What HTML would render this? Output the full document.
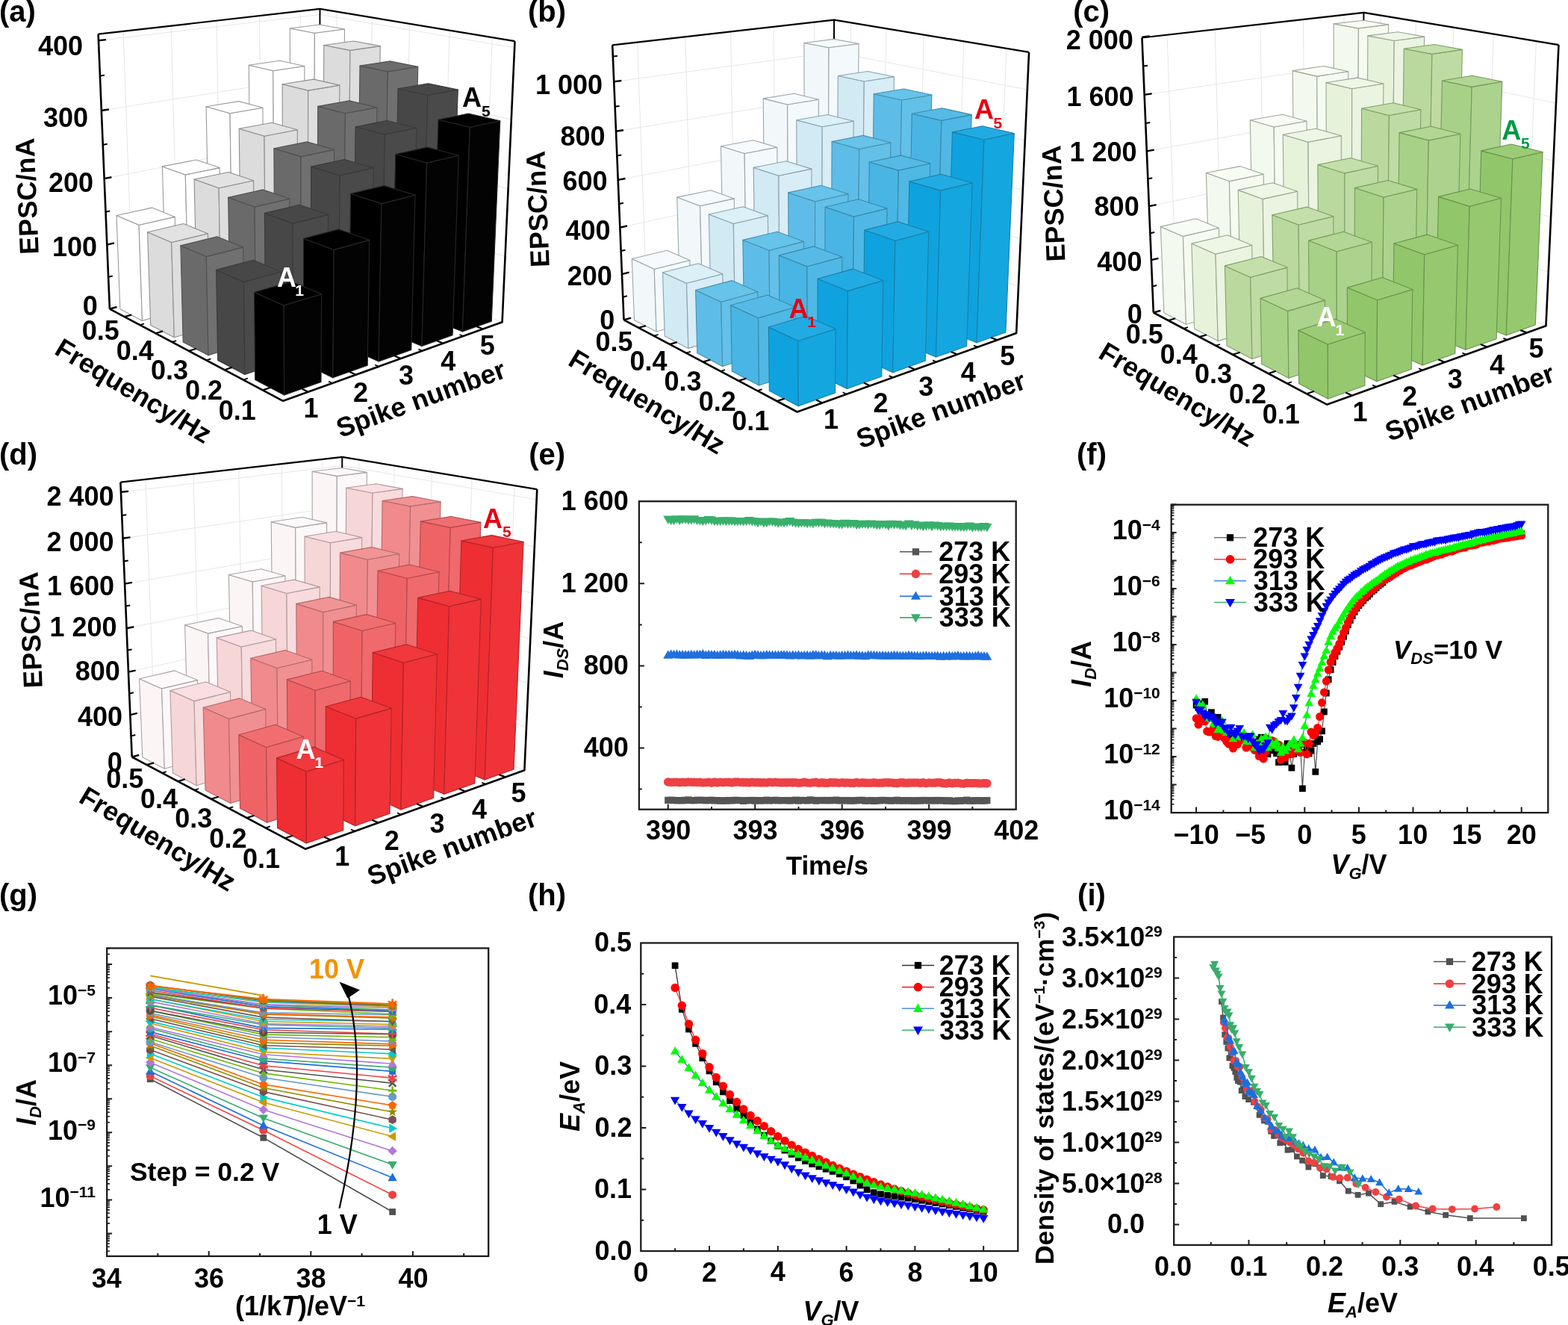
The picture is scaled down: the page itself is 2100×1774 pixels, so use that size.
<!DOCTYPE html><html><head><meta charset="utf-8"><style>html,body{margin:0;padding:0;background:#fff;width:2100px;height:1774px;overflow:hidden}svg{display:block}</style></head><body><svg xmlns="http://www.w3.org/2000/svg" width="2100" height="1774" viewBox="0 0 2100 1774" font-family="'Liberation Sans',Arial,Helvetica,sans-serif" font-weight="bold">
<rect width="2100" height="1774" fill="#fff"/>
<line x1="178.2" y1="405.1" x2="165.0" y2="41.9" stroke="#e6e6e6" stroke-width="1"/>
<line x1="238.6" y1="388.7" x2="229.2" y2="34.6" stroke="#e6e6e6" stroke-width="1"/>
<line x1="295.8" y1="373.2" x2="290.0" y2="27.7" stroke="#e6e6e6" stroke-width="1"/>
<line x1="350.3" y1="358.4" x2="347.5" y2="21.1" stroke="#e6e6e6" stroke-width="1"/>
<line x1="402.1" y1="344.4" x2="402.2" y2="14.9" stroke="#e6e6e6" stroke-width="1"/>
<line x1="448.4" y1="345.8" x2="451.1" y2="15.7" stroke="#e6e6e6" stroke-width="1"/>
<line x1="493.2" y1="362.9" x2="498.3" y2="23.5" stroke="#e6e6e6" stroke-width="1"/>
<line x1="540.6" y1="381.0" x2="548.6" y2="31.9" stroke="#e6e6e6" stroke-width="1"/>
<line x1="590.9" y1="400.2" x2="602.2" y2="40.8" stroke="#e6e6e6" stroke-width="1"/>
<line x1="644.5" y1="420.6" x2="659.4" y2="50.2" stroke="#e6e6e6" stroke-width="1"/>
<line x1="146.9" y1="413.6" x2="427.0" y2="337.6" stroke="#e6e6e6" stroke-width="1"/>
<line x1="427.0" y1="337.6" x2="672.6" y2="431.3" stroke="#e6e6e6" stroke-width="1"/>
<line x1="143.3" y1="327.6" x2="427.4" y2="261.1" stroke="#e6e6e6" stroke-width="1"/>
<line x1="427.4" y1="261.1" x2="676.5" y2="343.5" stroke="#e6e6e6" stroke-width="1"/>
<line x1="139.6" y1="239.1" x2="427.7" y2="182.6" stroke="#e6e6e6" stroke-width="1"/>
<line x1="427.7" y1="182.6" x2="680.6" y2="253.1" stroke="#e6e6e6" stroke-width="1"/>
<line x1="135.8" y1="148.0" x2="428.1" y2="102.1" stroke="#e6e6e6" stroke-width="1"/>
<line x1="428.1" y1="102.1" x2="684.8" y2="160.0" stroke="#e6e6e6" stroke-width="1"/>
<line x1="131.9" y1="54.3" x2="428.4" y2="19.5" stroke="#e6e6e6" stroke-width="1"/>
<line x1="428.4" y1="19.5" x2="689.1" y2="64.0" stroke="#e6e6e6" stroke-width="1"/>
<line x1="427.0" y1="337.6" x2="428.5" y2="11.9" stroke="#000" stroke-width="2"/>
<polyline points="131.6,45.7 428.5,11.9 689.5,55.2" fill="none" stroke="#000" stroke-width="2.2" stroke-linejoin="round"/>
<line x1="146.9" y1="413.6" x2="131.6" y2="45.7" stroke="#000" stroke-width="2.6"/>
<line x1="146.9" y1="413.6" x2="156.4" y2="411.0" stroke="#000" stroke-width="2.4"/>
<line x1="143.3" y1="327.6" x2="152.9" y2="325.3" stroke="#000" stroke-width="2.4"/>
<line x1="139.6" y1="239.1" x2="149.4" y2="237.2" stroke="#000" stroke-width="2.4"/>
<line x1="135.8" y1="148.0" x2="145.8" y2="146.5" stroke="#000" stroke-width="2.4"/>
<line x1="131.9" y1="54.3" x2="142.0" y2="53.1" stroke="#000" stroke-width="2.4"/>
<line x1="145.1" y1="370.9" x2="150.8" y2="369.5" stroke="#000" stroke-width="2"/>
<line x1="141.5" y1="283.7" x2="147.3" y2="282.4" stroke="#000" stroke-width="2"/>
<line x1="137.7" y1="193.9" x2="143.7" y2="192.8" stroke="#000" stroke-width="2"/>
<line x1="133.9" y1="101.5" x2="139.9" y2="100.7" stroke="#000" stroke-width="2"/>
<polygon points="388.9,351.6 420.4,364.3 421.4,44.2 388.3,38.0" fill="#ffffff" stroke="#9a9a9a" stroke-width="1.1" stroke-linejoin="round"/>
<polygon points="420.4,364.3 458.5,353.5 461.5,39.0 421.4,44.2" fill="#ffffff" stroke="#9a9a9a" stroke-width="1.1" stroke-linejoin="round"/>
<polygon points="388.3,38.0 421.4,44.2 461.5,39.0 428.1,33.0" fill="#ffffff" stroke="#9a9a9a" stroke-width="1.1" stroke-linejoin="round"/>
<polygon points="336.2,366.0 367.3,379.3 365.8,94.8 333.3,87.3" fill="#ffffff" stroke="#9a9a9a" stroke-width="1.1" stroke-linejoin="round"/>
<polygon points="367.3,379.3 407.4,367.9 407.8,88.5 365.8,94.8" fill="#ffffff" stroke="#9a9a9a" stroke-width="1.1" stroke-linejoin="round"/>
<polygon points="333.3,87.3 365.8,94.8 407.8,88.5 374.9,81.3" fill="#ffffff" stroke="#9a9a9a" stroke-width="1.1" stroke-linejoin="round"/>
<polygon points="432.2,369.0 465.6,382.4 469.0,67.4 433.8,60.5" fill="#dcdcdc" stroke="#8e8e8e" stroke-width="1.1" stroke-linejoin="round"/>
<polygon points="465.6,382.4 504.0,370.9 509.3,61.6 469.0,67.4" fill="#dedede" stroke="#8e8e8e" stroke-width="1.1" stroke-linejoin="round"/>
<polygon points="433.8,60.5 469.0,67.4 509.3,61.6 473.9,55.0" fill="#e2e2e2" stroke="#8e8e8e" stroke-width="1.1" stroke-linejoin="round"/>
<polygon points="280.7,381.1 311.5,395.1 308.0,151.7 276.1,142.8" fill="#ffffff" stroke="#9a9a9a" stroke-width="1.1" stroke-linejoin="round"/>
<polygon points="311.5,395.1 353.7,383.1 351.9,144.2 308.0,151.7" fill="#ffffff" stroke="#9a9a9a" stroke-width="1.1" stroke-linejoin="round"/>
<polygon points="276.1,142.8 308.0,151.7 351.9,144.2 319.7,135.6" fill="#ffffff" stroke="#9a9a9a" stroke-width="1.1" stroke-linejoin="round"/>
<polygon points="379.0,384.3 412.1,398.4 412.7,121.1 378.1,112.8" fill="#dcdcdc" stroke="#8e8e8e" stroke-width="1.1" stroke-linejoin="round"/>
<polygon points="412.1,398.4 452.6,386.3 454.9,114.1 412.7,121.1" fill="#dedede" stroke="#8e8e8e" stroke-width="1.1" stroke-linejoin="round"/>
<polygon points="378.1,112.8 412.7,121.1 454.9,114.1 420.1,106.1" fill="#e2e2e2" stroke="#8e8e8e" stroke-width="1.1" stroke-linejoin="round"/>
<polygon points="478.2,387.5 513.7,401.7 519.4,95.9 482.0,88.1" fill="#6a6a6a" stroke="#505050" stroke-width="1.1" stroke-linejoin="round"/>
<polygon points="513.7,401.7 552.3,389.5 559.8,89.4 519.4,95.9" fill="#707070" stroke="#505050" stroke-width="1.1" stroke-linejoin="round"/>
<polygon points="482.0,88.1 519.4,95.9 559.8,89.4 522.3,81.9" fill="#6c6c6c" stroke="#505050" stroke-width="1.1" stroke-linejoin="round"/>
<polygon points="222.4,397.1 252.6,411.8 248.3,233.9 217.4,222.9" fill="#ffffff" stroke="#9a9a9a" stroke-width="1.1" stroke-linejoin="round"/>
<polygon points="252.6,411.8 297.1,399.2 294.2,224.6 248.3,233.9" fill="#ffffff" stroke="#9a9a9a" stroke-width="1.1" stroke-linejoin="round"/>
<polygon points="217.4,222.9 248.3,233.9 294.2,224.6 262.8,214.0" fill="#ffffff" stroke="#9a9a9a" stroke-width="1.1" stroke-linejoin="round"/>
<polygon points="323.0,400.4 355.7,415.2 354.0,182.2 320.2,172.3" fill="#dcdcdc" stroke="#8e8e8e" stroke-width="1.1" stroke-linejoin="round"/>
<polygon points="355.7,415.2 398.4,402.5 398.3,173.8 354.0,182.2" fill="#dedede" stroke="#8e8e8e" stroke-width="1.1" stroke-linejoin="round"/>
<polygon points="320.2,172.3 354.0,182.2 398.3,173.8 364.1,164.3" fill="#e2e2e2" stroke="#8e8e8e" stroke-width="1.1" stroke-linejoin="round"/>
<polygon points="424.6,403.7 459.8,418.7 462.4,151.7 425.7,142.4" fill="#6a6a6a" stroke="#505050" stroke-width="1.1" stroke-linejoin="round"/>
<polygon points="459.8,418.7 500.6,405.8 504.9,143.9 462.4,151.7" fill="#707070" stroke="#505050" stroke-width="1.1" stroke-linejoin="round"/>
<polygon points="425.7,142.4 462.4,151.7 504.9,143.9 467.9,134.9" fill="#6c6c6c" stroke="#505050" stroke-width="1.1" stroke-linejoin="round"/>
<polygon points="527.1,407.1 564.8,422.2 572.8,127.5 533.1,118.7" fill="#474747" stroke="#3a3a3a" stroke-width="1.1" stroke-linejoin="round"/>
<polygon points="564.8,422.2 603.7,409.2 613.3,120.1 572.8,127.5" fill="#4a4a4a" stroke="#3a3a3a" stroke-width="1.1" stroke-linejoin="round"/>
<polygon points="533.1,118.7 572.8,127.5 613.3,120.1 573.5,111.7" fill="#474747" stroke="#3a3a3a" stroke-width="1.1" stroke-linejoin="round"/>
<polygon points="160.9,413.8 190.5,429.4 186.1,301.3 156.0,288.5" fill="#ffffff" stroke="#9a9a9a" stroke-width="1.1" stroke-linejoin="round"/>
<polygon points="190.5,429.4 237.5,416.0 234.2,290.4 186.1,301.3" fill="#ffffff" stroke="#9a9a9a" stroke-width="1.1" stroke-linejoin="round"/>
<polygon points="156.0,288.5 186.1,301.3 234.2,290.4 203.6,278.1" fill="#ffffff" stroke="#9a9a9a" stroke-width="1.1" stroke-linejoin="round"/>
<polygon points="264.0,417.3 296.2,433.0 293.1,251.8 260.1,240.0" fill="#dcdcdc" stroke="#8e8e8e" stroke-width="1.1" stroke-linejoin="round"/>
<polygon points="296.2,433.0 341.2,419.5 339.5,241.8 293.1,251.8" fill="#dedede" stroke="#8e8e8e" stroke-width="1.1" stroke-linejoin="round"/>
<polygon points="260.1,240.0 293.1,251.8 339.5,241.8 306.1,230.5" fill="#e2e2e2" stroke="#8e8e8e" stroke-width="1.1" stroke-linejoin="round"/>
<polygon points="368.1,420.8 402.9,436.6 403.0,209.6 366.9,198.7" fill="#6a6a6a" stroke="#505050" stroke-width="1.1" stroke-linejoin="round"/>
<polygon points="402.9,436.6 445.9,423.1 447.6,200.4 403.0,209.6" fill="#707070" stroke="#505050" stroke-width="1.1" stroke-linejoin="round"/>
<polygon points="366.9,198.7 403.0,209.6 447.6,200.4 411.2,189.9" fill="#6c6c6c" stroke="#505050" stroke-width="1.1" stroke-linejoin="round"/>
<polygon points="473.1,424.3 510.6,440.3 515.4,180.0 476.1,169.7" fill="#474747" stroke="#3a3a3a" stroke-width="1.1" stroke-linejoin="round"/>
<polygon points="510.6,440.3 551.6,426.6 558.0,171.3 515.4,180.0" fill="#4a4a4a" stroke="#3a3a3a" stroke-width="1.1" stroke-linejoin="round"/>
<polygon points="476.1,169.7 515.4,180.0 558.0,171.3 518.6,161.5" fill="#474747" stroke="#3a3a3a" stroke-width="1.1" stroke-linejoin="round"/>
<polygon points="579.1,427.9 619.4,444.1 629.3,170.3 587.0,160.2" fill="#000000" stroke="#262626" stroke-width="1.1" stroke-linejoin="round"/>
<polygon points="619.4,444.1 658.3,430.2 669.8,161.8 629.3,170.3" fill="#030303" stroke="#262626" stroke-width="1.1" stroke-linejoin="round"/>
<polygon points="587.0,160.2 629.3,170.3 669.8,161.8 627.4,152.1" fill="#000000" stroke="#262626" stroke-width="1.1" stroke-linejoin="round"/>
<polygon points="201.7,435.2 233.3,451.8 229.7,324.5 197.6,310.7" fill="#dcdcdc" stroke="#8e8e8e" stroke-width="1.1" stroke-linejoin="round"/>
<polygon points="233.3,451.8 280.9,437.6 278.4,312.8 229.7,324.5" fill="#dedede" stroke="#8e8e8e" stroke-width="1.1" stroke-linejoin="round"/>
<polygon points="197.6,310.7 229.7,324.5 278.4,312.8 245.8,299.5" fill="#e2e2e2" stroke="#8e8e8e" stroke-width="1.1" stroke-linejoin="round"/>
<polygon points="308.3,438.9 342.7,455.6 341.0,277.0 305.7,264.2" fill="#6a6a6a" stroke="#505050" stroke-width="1.1" stroke-linejoin="round"/>
<polygon points="342.7,455.6 388.2,441.3 387.9,266.1 341.0,277.0" fill="#707070" stroke="#505050" stroke-width="1.1" stroke-linejoin="round"/>
<polygon points="305.7,264.2 341.0,277.0 387.9,266.1 352.2,253.9" fill="#6c6c6c" stroke="#505050" stroke-width="1.1" stroke-linejoin="round"/>
<polygon points="416.0,442.6 453.2,459.5 455.2,235.0 416.6,223.1" fill="#474747" stroke="#3a3a3a" stroke-width="1.1" stroke-linejoin="round"/>
<polygon points="453.2,459.5 496.6,445.0 500.2,224.9 455.2,235.0" fill="#4a4a4a" stroke="#3a3a3a" stroke-width="1.1" stroke-linejoin="round"/>
<polygon points="416.6,223.1 455.2,235.0 500.2,224.9 461.3,213.5" fill="#474747" stroke="#3a3a3a" stroke-width="1.1" stroke-linejoin="round"/>
<polygon points="524.8,446.4 564.9,463.5 571.6,218.0 529.7,206.5" fill="#000000" stroke="#262626" stroke-width="1.1" stroke-linejoin="round"/>
<polygon points="564.9,463.5 606.1,448.8 614.3,208.2 571.6,218.0" fill="#030303" stroke="#262626" stroke-width="1.1" stroke-linejoin="round"/>
<polygon points="529.7,206.5 571.6,218.0 614.3,208.2 572.3,197.1" fill="#000000" stroke="#262626" stroke-width="1.1" stroke-linejoin="round"/>
<polygon points="245.2,458.0 279.0,475.7 276.3,343.6 241.9,328.8" fill="#6a6a6a" stroke="#505050" stroke-width="1.1" stroke-linejoin="round"/>
<polygon points="279.0,475.7 327.2,460.5 325.6,330.9 276.3,343.6" fill="#707070" stroke="#505050" stroke-width="1.1" stroke-linejoin="round"/>
<polygon points="241.9,328.8 276.3,343.6 325.6,330.9 290.7,316.8" fill="#6c6c6c" stroke="#505050" stroke-width="1.1" stroke-linejoin="round"/>
<polygon points="355.7,462.0 392.5,479.9 392.2,299.2 354.4,285.4" fill="#474747" stroke="#3a3a3a" stroke-width="1.1" stroke-linejoin="round"/>
<polygon points="392.5,479.9 438.5,464.5 439.6,287.4 392.2,299.2" fill="#4a4a4a" stroke="#3a3a3a" stroke-width="1.1" stroke-linejoin="round"/>
<polygon points="354.4,285.4 392.2,299.2 439.6,287.4 401.4,274.2" fill="#474747" stroke="#3a3a3a" stroke-width="1.1" stroke-linejoin="round"/>
<polygon points="467.3,465.9 507.1,484.0 510.9,272.6 469.6,259.3" fill="#000000" stroke="#262626" stroke-width="1.1" stroke-linejoin="round"/>
<polygon points="507.1,484.0 550.8,468.5 556.0,261.3 510.9,272.6" fill="#030303" stroke="#262626" stroke-width="1.1" stroke-linejoin="round"/>
<polygon points="469.6,259.3 510.9,272.6 556.0,261.3 514.5,248.6" fill="#000000" stroke="#262626" stroke-width="1.1" stroke-linejoin="round"/>
<polygon points="291.7,482.4 327.9,501.4 326.5,377.5 289.6,361.4" fill="#474747" stroke="#3a3a3a" stroke-width="1.1" stroke-linejoin="round"/>
<polygon points="327.9,501.4 376.8,485.1 376.3,363.7 326.5,377.5" fill="#4a4a4a" stroke="#3a3a3a" stroke-width="1.1" stroke-linejoin="round"/>
<polygon points="289.6,361.4 326.5,377.5 376.3,363.7 339.0,348.3" fill="#474747" stroke="#3a3a3a" stroke-width="1.1" stroke-linejoin="round"/>
<polygon points="406.4,486.6 445.8,505.8 447.1,334.4 406.5,319.2" fill="#000000" stroke="#262626" stroke-width="1.1" stroke-linejoin="round"/>
<polygon points="445.8,505.8 492.2,489.3 494.8,321.4 447.1,334.4" fill="#030303" stroke="#262626" stroke-width="1.1" stroke-linejoin="round"/>
<polygon points="406.5,319.2 447.1,334.4 494.8,321.4 453.9,306.9" fill="#000000" stroke="#262626" stroke-width="1.1" stroke-linejoin="round"/>
<polygon points="341.7,508.6 380.6,529.0 380.2,408.9 340.5,391.3" fill="#000000" stroke="#262626" stroke-width="1.1" stroke-linejoin="round"/>
<polygon points="380.6,529.0 430.0,511.5 430.6,393.8 380.2,408.9" fill="#030303" stroke="#262626" stroke-width="1.1" stroke-linejoin="round"/>
<polygon points="340.5,391.3 380.2,408.9 430.6,393.8 390.5,377.1" fill="#000000" stroke="#262626" stroke-width="1.1" stroke-linejoin="round"/>
<polyline points="146.9,413.6 379.1,536.8 672.6,431.3 689.5,55.2" fill="none" stroke="#000" stroke-width="2.6" stroke-linejoin="round"/>
<line x1="166.7" y1="424.1" x2="176.3" y2="421.5" stroke="#000" stroke-width="2.2"/>
<line x1="208.4" y1="446.3" x2="218.1" y2="443.4" stroke="#000" stroke-width="2.2"/>
<line x1="253.0" y1="469.9" x2="262.8" y2="466.8" stroke="#000" stroke-width="2.2"/>
<line x1="300.7" y1="495.2" x2="310.7" y2="491.9" stroke="#000" stroke-width="2.2"/>
<line x1="352.0" y1="522.4" x2="362.1" y2="518.9" stroke="#000" stroke-width="2.2"/>
<line x1="187.2" y1="435.0" x2="193.0" y2="433.4" stroke="#000" stroke-width="1.8"/>
<line x1="230.3" y1="457.9" x2="236.2" y2="456.1" stroke="#000" stroke-width="1.8"/>
<line x1="276.4" y1="482.3" x2="282.4" y2="480.4" stroke="#000" stroke-width="1.8"/>
<line x1="325.9" y1="508.6" x2="332.0" y2="506.5" stroke="#000" stroke-width="1.8"/>
<line x1="412.7" y1="524.7" x2="404.4" y2="520.5" stroke="#000" stroke-width="2.2"/>
<line x1="476.6" y1="501.8" x2="468.3" y2="497.8" stroke="#000" stroke-width="2.2"/>
<line x1="536.8" y1="480.1" x2="528.4" y2="476.4" stroke="#000" stroke-width="2.2"/>
<line x1="593.5" y1="459.8" x2="585.0" y2="456.2" stroke="#000" stroke-width="2.2"/>
<line x1="647.0" y1="440.6" x2="638.4" y2="437.2" stroke="#000" stroke-width="2.2"/>
<line x1="445.1" y1="513.1" x2="440.1" y2="510.6" stroke="#000" stroke-width="1.8"/>
<line x1="507.2" y1="490.8" x2="502.1" y2="488.5" stroke="#000" stroke-width="1.8"/>
<line x1="565.6" y1="469.8" x2="560.5" y2="467.6" stroke="#000" stroke-width="1.8"/>
<line x1="620.6" y1="450.0" x2="615.5" y2="448.0" stroke="#000" stroke-width="1.8"/>
<line x1="866.8" y1="419.8" x2="853.6" y2="56.5" stroke="#e6e6e6" stroke-width="1"/>
<line x1="927.2" y1="403.4" x2="917.8" y2="49.2" stroke="#e6e6e6" stroke-width="1"/>
<line x1="984.4" y1="387.9" x2="978.6" y2="42.3" stroke="#e6e6e6" stroke-width="1"/>
<line x1="1038.9" y1="373.1" x2="1036.1" y2="35.8" stroke="#e6e6e6" stroke-width="1"/>
<line x1="1090.7" y1="359.1" x2="1090.8" y2="29.6" stroke="#e6e6e6" stroke-width="1"/>
<line x1="1137.0" y1="360.5" x2="1139.7" y2="30.3" stroke="#e6e6e6" stroke-width="1"/>
<line x1="1181.8" y1="377.5" x2="1186.9" y2="38.2" stroke="#e6e6e6" stroke-width="1"/>
<line x1="1229.2" y1="395.6" x2="1237.2" y2="46.5" stroke="#e6e6e6" stroke-width="1"/>
<line x1="1279.5" y1="414.8" x2="1290.8" y2="55.4" stroke="#e6e6e6" stroke-width="1"/>
<line x1="1333.1" y1="435.3" x2="1348.0" y2="64.9" stroke="#e6e6e6" stroke-width="1"/>
<line x1="835.5" y1="428.3" x2="1115.6" y2="352.3" stroke="#e6e6e6" stroke-width="1"/>
<line x1="1115.6" y1="352.3" x2="1361.2" y2="446.0" stroke="#e6e6e6" stroke-width="1"/>
<line x1="832.9" y1="367.1" x2="1115.9" y2="297.8" stroke="#e6e6e6" stroke-width="1"/>
<line x1="1115.9" y1="297.8" x2="1364.0" y2="383.5" stroke="#e6e6e6" stroke-width="1"/>
<line x1="830.3" y1="304.6" x2="1116.1" y2="242.3" stroke="#e6e6e6" stroke-width="1"/>
<line x1="1116.1" y1="242.3" x2="1366.9" y2="319.7" stroke="#e6e6e6" stroke-width="1"/>
<line x1="827.7" y1="240.9" x2="1116.4" y2="185.8" stroke="#e6e6e6" stroke-width="1"/>
<line x1="1116.4" y1="185.8" x2="1369.8" y2="254.6" stroke="#e6e6e6" stroke-width="1"/>
<line x1="825.0" y1="175.8" x2="1116.6" y2="128.3" stroke="#e6e6e6" stroke-width="1"/>
<line x1="1116.6" y1="128.3" x2="1372.8" y2="188.1" stroke="#e6e6e6" stroke-width="1"/>
<line x1="822.2" y1="109.4" x2="1116.9" y2="69.7" stroke="#e6e6e6" stroke-width="1"/>
<line x1="1116.9" y1="69.7" x2="1375.9" y2="120.1" stroke="#e6e6e6" stroke-width="1"/>
<line x1="1115.6" y1="352.3" x2="1117.1" y2="26.6" stroke="#000" stroke-width="2"/>
<polyline points="820.2,60.3 1117.1,26.6 1378.1,69.9" fill="none" stroke="#000" stroke-width="2.2" stroke-linejoin="round"/>
<line x1="835.5" y1="428.3" x2="820.2" y2="60.3" stroke="#000" stroke-width="2.6"/>
<line x1="835.5" y1="428.3" x2="845.0" y2="425.7" stroke="#000" stroke-width="2.4"/>
<line x1="832.9" y1="367.1" x2="842.5" y2="364.7" stroke="#000" stroke-width="2.4"/>
<line x1="830.3" y1="304.6" x2="840.0" y2="302.5" stroke="#000" stroke-width="2.4"/>
<line x1="827.7" y1="240.9" x2="837.5" y2="239.0" stroke="#000" stroke-width="2.4"/>
<line x1="825.0" y1="175.8" x2="834.9" y2="174.2" stroke="#000" stroke-width="2.4"/>
<line x1="822.2" y1="109.4" x2="832.3" y2="108.0" stroke="#000" stroke-width="2.4"/>
<line x1="834.2" y1="397.8" x2="839.9" y2="396.3" stroke="#000" stroke-width="2"/>
<line x1="831.6" y1="336.0" x2="837.4" y2="334.7" stroke="#000" stroke-width="2"/>
<line x1="829.0" y1="272.9" x2="834.9" y2="271.7" stroke="#000" stroke-width="2"/>
<line x1="826.3" y1="208.5" x2="832.3" y2="207.5" stroke="#000" stroke-width="2"/>
<line x1="823.6" y1="142.8" x2="829.6" y2="141.9" stroke="#000" stroke-width="2"/>
<line x1="820.8" y1="75.6" x2="826.9" y2="74.9" stroke="#000" stroke-width="2"/>
<polygon points="1077.5,366.3 1109.0,378.9 1110.0,63.8 1076.9,57.5" fill="#f2f8fa" stroke="#9aa6aa" stroke-width="1.1" stroke-linejoin="round"/>
<polygon points="1109.0,378.9 1147.1,368.1 1150.1,58.5 1110.0,63.8" fill="#f4f9fb" stroke="#9aa6aa" stroke-width="1.1" stroke-linejoin="round"/>
<polygon points="1076.9,57.5 1110.0,63.8 1150.1,58.5 1116.7,52.4" fill="#f6fafc" stroke="#9aa6aa" stroke-width="1.1" stroke-linejoin="round"/>
<polygon points="1024.8,380.7 1055.9,394.0 1054.6,140.0 1022.2,131.9" fill="#f2f8fa" stroke="#9aa6aa" stroke-width="1.1" stroke-linejoin="round"/>
<polygon points="1055.9,394.0 1096.0,382.6 1096.3,133.2 1054.6,140.0" fill="#f4f9fb" stroke="#9aa6aa" stroke-width="1.1" stroke-linejoin="round"/>
<polygon points="1022.2,131.9 1054.6,140.0 1096.3,133.2 1063.7,125.3" fill="#f6fafc" stroke="#9aa6aa" stroke-width="1.1" stroke-linejoin="round"/>
<polygon points="1120.8,383.7 1154.2,397.1 1157.3,109.0 1122.3,101.5" fill="#d2eaf4" stroke="#8aa2ac" stroke-width="1.1" stroke-linejoin="round"/>
<polygon points="1154.2,397.1 1192.6,385.6 1197.5,102.7 1157.3,109.0" fill="#d8edf6" stroke="#8aa2ac" stroke-width="1.1" stroke-linejoin="round"/>
<polygon points="1122.3,101.5 1157.3,109.0 1197.5,102.7 1162.2,95.5" fill="#dcf0f8" stroke="#8aa2ac" stroke-width="1.1" stroke-linejoin="round"/>
<polygon points="969.3,395.8 1000.1,409.8 997.1,205.5 965.5,195.7" fill="#f2f8fa" stroke="#9aa6aa" stroke-width="1.1" stroke-linejoin="round"/>
<polygon points="1000.1,409.8 1042.3,397.8 1040.8,197.2 997.1,205.5" fill="#f4f9fb" stroke="#9aa6aa" stroke-width="1.1" stroke-linejoin="round"/>
<polygon points="965.5,195.7 997.1,205.5 1040.8,197.2 1008.8,187.8" fill="#f6fafc" stroke="#9aa6aa" stroke-width="1.1" stroke-linejoin="round"/>
<polygon points="1067.6,398.9 1100.7,413.0 1101.2,169.8 1066.8,160.7" fill="#d2eaf4" stroke="#8aa2ac" stroke-width="1.1" stroke-linejoin="round"/>
<polygon points="1100.7,413.0 1141.2,401.0 1143.2,162.2 1101.2,169.8" fill="#d8edf6" stroke="#8aa2ac" stroke-width="1.1" stroke-linejoin="round"/>
<polygon points="1066.8,160.7 1101.2,169.8 1143.2,162.2 1108.6,153.5" fill="#dcf0f8" stroke="#8aa2ac" stroke-width="1.1" stroke-linejoin="round"/>
<polygon points="1166.8,402.1 1202.3,416.4 1207.6,134.0 1170.3,125.7" fill="#5dbde8" stroke="#4a8eaa" stroke-width="1.1" stroke-linejoin="round"/>
<polygon points="1202.3,416.4 1240.9,404.2 1247.9,127.0 1207.6,134.0" fill="#63c0e9" stroke="#4a8eaa" stroke-width="1.1" stroke-linejoin="round"/>
<polygon points="1170.3,125.7 1207.6,134.0 1247.9,127.0 1210.5,119.0" fill="#66c3ea" stroke="#4a8eaa" stroke-width="1.1" stroke-linejoin="round"/>
<polygon points="911.0,411.7 941.2,426.4 937.6,275.7 906.7,264.1" fill="#f2f8fa" stroke="#9aa6aa" stroke-width="1.1" stroke-linejoin="round"/>
<polygon points="941.2,426.4 985.7,413.8 983.2,265.9 937.6,275.7" fill="#f4f9fb" stroke="#9aa6aa" stroke-width="1.1" stroke-linejoin="round"/>
<polygon points="906.7,264.1 937.6,275.7 983.2,265.9 952.0,254.8" fill="#f6fafc" stroke="#9aa6aa" stroke-width="1.1" stroke-linejoin="round"/>
<polygon points="1011.6,415.0 1044.3,429.9 1042.9,235.2 1009.2,224.4" fill="#d2eaf4" stroke="#8aa2ac" stroke-width="1.1" stroke-linejoin="round"/>
<polygon points="1044.3,429.9 1087.0,417.1 1086.9,226.1 1042.9,235.2" fill="#d8edf6" stroke="#8aa2ac" stroke-width="1.1" stroke-linejoin="round"/>
<polygon points="1009.2,224.4 1042.9,235.2 1086.9,226.1 1052.9,215.7" fill="#dcf0f8" stroke="#8aa2ac" stroke-width="1.1" stroke-linejoin="round"/>
<polygon points="1113.2,418.4 1148.4,433.4 1150.7,199.5 1114.1,189.5" fill="#5dbde8" stroke="#4a8eaa" stroke-width="1.1" stroke-linejoin="round"/>
<polygon points="1148.4,433.4 1189.2,420.5 1193.0,191.0 1150.7,199.5" fill="#63c0e9" stroke="#4a8eaa" stroke-width="1.1" stroke-linejoin="round"/>
<polygon points="1114.1,189.5 1150.7,199.5 1193.0,191.0 1156.1,181.4" fill="#66c3ea" stroke="#4a8eaa" stroke-width="1.1" stroke-linejoin="round"/>
<polygon points="1215.7,421.7 1253.4,436.9 1260.9,161.4 1221.3,152.2" fill="#49b5e4" stroke="#3a88a8" stroke-width="1.1" stroke-linejoin="round"/>
<polygon points="1253.4,436.9 1292.3,423.9 1301.3,153.6 1260.9,161.4" fill="#4fb8e5" stroke="#3a88a8" stroke-width="1.1" stroke-linejoin="round"/>
<polygon points="1221.3,152.2 1260.9,161.4 1301.3,153.6 1261.6,144.8" fill="#55bbe6" stroke="#3a88a8" stroke-width="1.1" stroke-linejoin="round"/>
<polygon points="849.5,428.5 879.1,444.0 876.2,360.2 846.3,346.5" fill="#f2f8fa" stroke="#9aa6aa" stroke-width="1.1" stroke-linejoin="round"/>
<polygon points="879.1,444.0 926.1,430.7 923.9,348.5 876.2,360.2" fill="#f4f9fb" stroke="#9aa6aa" stroke-width="1.1" stroke-linejoin="round"/>
<polygon points="846.3,346.5 876.2,360.2 923.9,348.5 893.5,335.3" fill="#f6fafc" stroke="#9aa6aa" stroke-width="1.1" stroke-linejoin="round"/>
<polygon points="952.6,432.0 984.8,447.6 982.3,299.5 949.4,287.0" fill="#d2eaf4" stroke="#8aa2ac" stroke-width="1.1" stroke-linejoin="round"/>
<polygon points="984.8,447.6 1029.8,434.2 1028.4,288.8 982.3,299.5" fill="#d8edf6" stroke="#8aa2ac" stroke-width="1.1" stroke-linejoin="round"/>
<polygon points="949.4,287.0 982.3,299.5 1028.4,288.8 995.1,276.8" fill="#dcf0f8" stroke="#8aa2ac" stroke-width="1.1" stroke-linejoin="round"/>
<polygon points="1056.7,435.5 1091.5,451.3 1091.6,269.8 1055.7,257.9" fill="#5dbde8" stroke="#4a8eaa" stroke-width="1.1" stroke-linejoin="round"/>
<polygon points="1091.5,451.3 1134.5,437.7 1135.9,259.7 1091.6,269.8" fill="#63c0e9" stroke="#4a8eaa" stroke-width="1.1" stroke-linejoin="round"/>
<polygon points="1055.7,257.9 1091.6,269.8 1135.9,259.7 1099.7,248.2" fill="#66c3ea" stroke="#4a8eaa" stroke-width="1.1" stroke-linejoin="round"/>
<polygon points="1161.7,439.0 1199.2,455.0 1203.4,228.1 1164.3,217.0" fill="#49b5e4" stroke="#3a88a8" stroke-width="1.1" stroke-linejoin="round"/>
<polygon points="1199.2,455.0 1240.2,441.3 1245.8,218.7 1203.4,228.1" fill="#4fb8e5" stroke="#3a88a8" stroke-width="1.1" stroke-linejoin="round"/>
<polygon points="1164.3,217.0 1203.4,228.1 1245.8,218.7 1206.6,208.1" fill="#55bbe6" stroke="#3a88a8" stroke-width="1.1" stroke-linejoin="round"/>
<polygon points="1267.7,442.6 1308.0,458.7 1317.8,187.0 1275.5,176.9" fill="#0ea3de" stroke="#1a7fa8" stroke-width="1.1" stroke-linejoin="round"/>
<polygon points="1308.0,458.7 1346.9,444.9 1358.3,178.5 1317.8,187.0" fill="#14a6df" stroke="#1a7fa8" stroke-width="1.1" stroke-linejoin="round"/>
<polygon points="1275.5,176.9 1317.8,187.0 1358.3,178.5 1315.9,168.7" fill="#22abe2" stroke="#1a7fa8" stroke-width="1.1" stroke-linejoin="round"/>
<polygon points="890.3,449.9 921.9,466.4 919.5,379.3 887.5,364.7" fill="#d2eaf4" stroke="#8aa2ac" stroke-width="1.1" stroke-linejoin="round"/>
<polygon points="921.9,466.4 969.5,452.2 967.8,366.8 919.5,379.3" fill="#d8edf6" stroke="#8aa2ac" stroke-width="1.1" stroke-linejoin="round"/>
<polygon points="887.5,364.7 919.5,379.3 967.8,366.8 935.4,352.7" fill="#dcf0f8" stroke="#8aa2ac" stroke-width="1.1" stroke-linejoin="round"/>
<polygon points="996.9,453.6 1031.3,470.3 1030.0,335.2 994.9,321.4" fill="#5dbde8" stroke="#4a8eaa" stroke-width="1.1" stroke-linejoin="round"/>
<polygon points="1031.3,470.3 1076.8,455.9 1076.6,323.4 1030.0,335.2" fill="#63c0e9" stroke="#4a8eaa" stroke-width="1.1" stroke-linejoin="round"/>
<polygon points="994.9,321.4 1030.0,335.2 1076.6,323.4 1041.1,310.2" fill="#66c3ea" stroke="#4a8eaa" stroke-width="1.1" stroke-linejoin="round"/>
<polygon points="1104.6,457.3 1141.8,474.2 1143.5,290.0 1105.1,277.2" fill="#49b5e4" stroke="#3a88a8" stroke-width="1.1" stroke-linejoin="round"/>
<polygon points="1141.8,474.2 1185.2,459.7 1188.1,279.1 1143.5,290.0" fill="#4fb8e5" stroke="#3a88a8" stroke-width="1.1" stroke-linejoin="round"/>
<polygon points="1105.1,277.2 1143.5,290.0 1188.1,279.1 1149.5,266.8" fill="#55bbe6" stroke="#3a88a8" stroke-width="1.1" stroke-linejoin="round"/>
<polygon points="1213.4,461.0 1253.5,478.1 1259.6,255.1 1217.9,243.0" fill="#0ea3de" stroke="#1a7fa8" stroke-width="1.1" stroke-linejoin="round"/>
<polygon points="1253.5,478.1 1294.7,463.5 1302.2,244.8 1259.6,255.1" fill="#14a6df" stroke="#1a7fa8" stroke-width="1.1" stroke-linejoin="round"/>
<polygon points="1217.9,243.0 1259.6,255.1 1302.2,244.8 1260.3,233.3" fill="#22abe2" stroke="#1a7fa8" stroke-width="1.1" stroke-linejoin="round"/>
<polygon points="933.8,472.7 967.6,490.4 965.8,404.3 931.6,388.5" fill="#5dbde8" stroke="#4a8eaa" stroke-width="1.1" stroke-linejoin="round"/>
<polygon points="967.6,490.4 1015.8,475.2 1014.8,390.7 965.8,404.3" fill="#63c0e9" stroke="#4a8eaa" stroke-width="1.1" stroke-linejoin="round"/>
<polygon points="931.6,388.5 965.8,404.3 1014.8,390.7 980.1,375.6" fill="#66c3ea" stroke="#4a8eaa" stroke-width="1.1" stroke-linejoin="round"/>
<polygon points="1044.3,476.6 1081.1,494.5 1080.9,356.7 1043.3,341.9" fill="#49b5e4" stroke="#3a88a8" stroke-width="1.1" stroke-linejoin="round"/>
<polygon points="1081.1,494.5 1127.1,479.1 1127.9,344.1 1080.9,356.7" fill="#4fb8e5" stroke="#3a88a8" stroke-width="1.1" stroke-linejoin="round"/>
<polygon points="1043.3,341.9 1080.9,356.7 1127.9,344.1 1090.0,329.9" fill="#55bbe6" stroke="#3a88a8" stroke-width="1.1" stroke-linejoin="round"/>
<polygon points="1155.9,480.6 1195.7,498.7 1198.9,322.2 1157.8,308.1" fill="#0ea3de" stroke="#1a7fa8" stroke-width="1.1" stroke-linejoin="round"/>
<polygon points="1195.7,498.7 1239.4,483.1 1243.8,310.2 1198.9,322.2" fill="#14a6df" stroke="#1a7fa8" stroke-width="1.1" stroke-linejoin="round"/>
<polygon points="1157.8,308.1 1198.9,322.2 1243.8,310.2 1202.5,296.7" fill="#22abe2" stroke="#1a7fa8" stroke-width="1.1" stroke-linejoin="round"/>
<polygon points="980.3,497.1 1016.5,516.1 1015.5,425.7 978.7,408.8" fill="#49b5e4" stroke="#3a88a8" stroke-width="1.1" stroke-linejoin="round"/>
<polygon points="1016.5,516.1 1065.4,499.8 1065.0,411.2 1015.5,425.7" fill="#4fb8e5" stroke="#3a88a8" stroke-width="1.1" stroke-linejoin="round"/>
<polygon points="978.7,408.8 1015.5,425.7 1065.0,411.2 1027.9,395.0" fill="#55bbe6" stroke="#3a88a8" stroke-width="1.1" stroke-linejoin="round"/>
<polygon points="1095.0,501.3 1134.4,520.5 1135.4,389.4 1095.1,373.2" fill="#0ea3de" stroke="#1a7fa8" stroke-width="1.1" stroke-linejoin="round"/>
<polygon points="1134.4,520.5 1180.8,504.0 1182.8,375.6 1135.4,389.4" fill="#14a6df" stroke="#1a7fa8" stroke-width="1.1" stroke-linejoin="round"/>
<polygon points="1095.1,373.2 1135.4,389.4 1182.8,375.6 1142.2,360.1" fill="#22abe2" stroke="#1a7fa8" stroke-width="1.1" stroke-linejoin="round"/>
<polygon points="1030.3,523.3 1069.2,543.7 1068.9,456.3 1029.4,438.0" fill="#0ea3de" stroke="#1a7fa8" stroke-width="1.1" stroke-linejoin="round"/>
<polygon points="1069.2,543.7 1118.6,526.1 1119.0,440.6 1068.9,456.3" fill="#14a6df" stroke="#1a7fa8" stroke-width="1.1" stroke-linejoin="round"/>
<polygon points="1029.4,438.0 1068.9,456.3 1119.0,440.6 1079.1,423.0" fill="#22abe2" stroke="#1a7fa8" stroke-width="1.1" stroke-linejoin="round"/>
<polyline points="835.5,428.3 1067.7,551.5 1361.2,446.0 1378.1,69.9" fill="none" stroke="#000" stroke-width="2.6" stroke-linejoin="round"/>
<line x1="855.3" y1="438.8" x2="864.9" y2="436.1" stroke="#000" stroke-width="2.2"/>
<line x1="897.0" y1="460.9" x2="906.7" y2="458.1" stroke="#000" stroke-width="2.2"/>
<line x1="941.6" y1="484.6" x2="951.4" y2="481.5" stroke="#000" stroke-width="2.2"/>
<line x1="989.3" y1="509.9" x2="999.3" y2="506.6" stroke="#000" stroke-width="2.2"/>
<line x1="1040.6" y1="537.1" x2="1050.7" y2="533.6" stroke="#000" stroke-width="2.2"/>
<line x1="875.8" y1="449.7" x2="881.6" y2="448.0" stroke="#000" stroke-width="1.8"/>
<line x1="918.9" y1="472.5" x2="924.8" y2="470.8" stroke="#000" stroke-width="1.8"/>
<line x1="965.0" y1="497.0" x2="971.0" y2="495.1" stroke="#000" stroke-width="1.8"/>
<line x1="1014.5" y1="523.2" x2="1020.6" y2="521.2" stroke="#000" stroke-width="1.8"/>
<line x1="1101.3" y1="539.4" x2="1093.0" y2="535.2" stroke="#000" stroke-width="2.2"/>
<line x1="1165.2" y1="516.4" x2="1156.9" y2="512.4" stroke="#000" stroke-width="2.2"/>
<line x1="1225.4" y1="494.8" x2="1217.0" y2="491.1" stroke="#000" stroke-width="2.2"/>
<line x1="1282.1" y1="474.4" x2="1273.6" y2="470.9" stroke="#000" stroke-width="2.2"/>
<line x1="1335.6" y1="455.2" x2="1327.0" y2="451.9" stroke="#000" stroke-width="2.2"/>
<line x1="1133.7" y1="527.7" x2="1128.7" y2="525.3" stroke="#000" stroke-width="1.8"/>
<line x1="1195.8" y1="505.4" x2="1190.7" y2="503.1" stroke="#000" stroke-width="1.8"/>
<line x1="1254.2" y1="484.5" x2="1249.1" y2="482.3" stroke="#000" stroke-width="1.8"/>
<line x1="1309.2" y1="464.7" x2="1304.1" y2="462.6" stroke="#000" stroke-width="1.8"/>
<line x1="1576.2" y1="410.0" x2="1563.0" y2="46.7" stroke="#e6e6e6" stroke-width="1"/>
<line x1="1636.5" y1="393.6" x2="1627.2" y2="39.4" stroke="#e6e6e6" stroke-width="1"/>
<line x1="1693.8" y1="378.1" x2="1687.9" y2="32.5" stroke="#e6e6e6" stroke-width="1"/>
<line x1="1748.2" y1="363.3" x2="1745.5" y2="26.0" stroke="#e6e6e6" stroke-width="1"/>
<line x1="1800.0" y1="349.3" x2="1800.1" y2="19.8" stroke="#e6e6e6" stroke-width="1"/>
<line x1="1846.4" y1="350.7" x2="1849.0" y2="20.5" stroke="#e6e6e6" stroke-width="1"/>
<line x1="1891.1" y1="367.7" x2="1896.3" y2="28.4" stroke="#e6e6e6" stroke-width="1"/>
<line x1="1938.5" y1="385.8" x2="1946.6" y2="36.7" stroke="#e6e6e6" stroke-width="1"/>
<line x1="1988.9" y1="405.0" x2="2000.2" y2="45.6" stroke="#e6e6e6" stroke-width="1"/>
<line x1="2042.4" y1="425.5" x2="2057.4" y2="55.1" stroke="#e6e6e6" stroke-width="1"/>
<line x1="1544.8" y1="418.5" x2="1825.0" y2="342.5" stroke="#e6e6e6" stroke-width="1"/>
<line x1="1825.0" y1="342.5" x2="2070.5" y2="436.2" stroke="#e6e6e6" stroke-width="1"/>
<line x1="1541.9" y1="348.1" x2="1825.3" y2="279.8" stroke="#e6e6e6" stroke-width="1"/>
<line x1="1825.3" y1="279.8" x2="2073.8" y2="364.4" stroke="#e6e6e6" stroke-width="1"/>
<line x1="1538.9" y1="276.1" x2="1825.5" y2="215.9" stroke="#e6e6e6" stroke-width="1"/>
<line x1="1825.5" y1="215.9" x2="2077.1" y2="290.8" stroke="#e6e6e6" stroke-width="1"/>
<line x1="1535.8" y1="202.4" x2="1825.8" y2="150.6" stroke="#e6e6e6" stroke-width="1"/>
<line x1="1825.8" y1="150.6" x2="2080.5" y2="215.4" stroke="#e6e6e6" stroke-width="1"/>
<line x1="1532.7" y1="126.9" x2="1826.1" y2="84.0" stroke="#e6e6e6" stroke-width="1"/>
<line x1="1826.1" y1="84.0" x2="2083.9" y2="138.2" stroke="#e6e6e6" stroke-width="1"/>
<line x1="1529.5" y1="49.6" x2="1826.4" y2="15.9" stroke="#e6e6e6" stroke-width="1"/>
<line x1="1826.4" y1="15.9" x2="2087.5" y2="59.1" stroke="#e6e6e6" stroke-width="1"/>
<line x1="1825.0" y1="342.5" x2="1826.4" y2="16.8" stroke="#000" stroke-width="2"/>
<polyline points="1529.5,50.5 1826.4,16.8 2087.5,60.1" fill="none" stroke="#000" stroke-width="2.2" stroke-linejoin="round"/>
<line x1="1544.8" y1="418.5" x2="1529.5" y2="50.5" stroke="#000" stroke-width="2.6"/>
<line x1="1544.8" y1="418.5" x2="1554.3" y2="415.9" stroke="#000" stroke-width="2.4"/>
<line x1="1541.9" y1="348.1" x2="1551.5" y2="345.8" stroke="#000" stroke-width="2.4"/>
<line x1="1538.9" y1="276.1" x2="1548.6" y2="274.1" stroke="#000" stroke-width="2.4"/>
<line x1="1535.8" y1="202.4" x2="1545.7" y2="200.6" stroke="#000" stroke-width="2.4"/>
<line x1="1532.7" y1="126.9" x2="1542.7" y2="125.4" stroke="#000" stroke-width="2.4"/>
<line x1="1529.5" y1="49.6" x2="1539.6" y2="48.4" stroke="#000" stroke-width="2.4"/>
<line x1="1543.4" y1="383.5" x2="1549.1" y2="382.0" stroke="#000" stroke-width="2"/>
<line x1="1540.4" y1="312.3" x2="1546.2" y2="311.0" stroke="#000" stroke-width="2"/>
<line x1="1537.4" y1="239.5" x2="1543.3" y2="238.3" stroke="#000" stroke-width="2"/>
<line x1="1534.3" y1="164.9" x2="1540.2" y2="163.9" stroke="#000" stroke-width="2"/>
<line x1="1531.1" y1="88.5" x2="1537.1" y2="87.7" stroke="#000" stroke-width="2"/>
<polygon points="1786.8,356.5 1818.3,369.1 1819.4,37.9 1786.2,31.9" fill="#f4f9ef" stroke="#a0a89a" stroke-width="1.1" stroke-linejoin="round"/>
<polygon points="1818.3,369.1 1856.5,358.3 1859.6,32.9 1819.4,37.9" fill="#f6fbf2" stroke="#a0a89a" stroke-width="1.1" stroke-linejoin="round"/>
<polygon points="1786.2,31.9 1819.4,37.9 1859.6,32.9 1826.1,27.2" fill="#f8fcf4" stroke="#a0a89a" stroke-width="1.1" stroke-linejoin="round"/>
<polygon points="1734.1,370.9 1765.3,384.2 1763.8,102.1 1731.2,94.6" fill="#f4f9ef" stroke="#a0a89a" stroke-width="1.1" stroke-linejoin="round"/>
<polygon points="1765.3,384.2 1805.4,372.8 1805.7,95.8 1763.8,102.1" fill="#f6fbf2" stroke="#a0a89a" stroke-width="1.1" stroke-linejoin="round"/>
<polygon points="1731.2,94.6 1763.8,102.1 1805.7,95.8 1772.9,88.5" fill="#f8fcf4" stroke="#a0a89a" stroke-width="1.1" stroke-linejoin="round"/>
<polygon points="1830.2,373.9 1863.6,387.3 1867.2,54.5 1831.9,47.9" fill="#e6f2da" stroke="#98a690" stroke-width="1.1" stroke-linejoin="round"/>
<polygon points="1863.6,387.3 1902.0,375.8 1907.6,49.1 1867.2,54.5" fill="#eaf4e0" stroke="#98a690" stroke-width="1.1" stroke-linejoin="round"/>
<polygon points="1831.9,47.9 1867.2,54.5 1907.6,49.1 1872.1,42.7" fill="#eef6e6" stroke="#98a690" stroke-width="1.1" stroke-linejoin="round"/>
<polygon points="1678.7,386.0 1709.4,400.0 1706.1,170.0 1674.3,160.8" fill="#f4f9ef" stroke="#a0a89a" stroke-width="1.1" stroke-linejoin="round"/>
<polygon points="1709.4,400.0 1751.7,388.0 1750.0,162.2 1706.1,170.0" fill="#f6fbf2" stroke="#a0a89a" stroke-width="1.1" stroke-linejoin="round"/>
<polygon points="1674.3,160.8 1706.1,170.0 1750.0,162.2 1717.8,153.3" fill="#f8fcf4" stroke="#a0a89a" stroke-width="1.1" stroke-linejoin="round"/>
<polygon points="1777.0,389.1 1810.1,403.2 1810.7,118.8 1776.0,110.6" fill="#e6f2da" stroke="#98a690" stroke-width="1.1" stroke-linejoin="round"/>
<polygon points="1810.1,403.2 1850.5,391.2 1852.9,112.0 1810.7,118.8" fill="#eaf4e0" stroke="#98a690" stroke-width="1.1" stroke-linejoin="round"/>
<polygon points="1776.0,110.6 1810.7,118.8 1852.9,112.0 1818.1,104.1" fill="#eef6e6" stroke="#98a690" stroke-width="1.1" stroke-linejoin="round"/>
<polygon points="1876.1,392.3 1911.6,406.6 1917.9,72.4 1880.3,65.2" fill="#bad99f" stroke="#80a068" stroke-width="1.1" stroke-linejoin="round"/>
<polygon points="1911.6,406.6 1950.3,394.4 1958.5,66.4 1917.9,72.4" fill="#bedba4" stroke="#80a068" stroke-width="1.1" stroke-linejoin="round"/>
<polygon points="1880.3,65.2 1917.9,72.4 1958.5,66.4 1920.8,59.5" fill="#c4dfaa" stroke="#80a068" stroke-width="1.1" stroke-linejoin="round"/>
<polygon points="1620.4,401.9 1650.6,416.6 1646.4,242.6 1615.4,231.5" fill="#f4f9ef" stroke="#a0a89a" stroke-width="1.1" stroke-linejoin="round"/>
<polygon points="1650.6,416.6 1695.1,404.0 1692.2,233.2 1646.4,242.6" fill="#f6fbf2" stroke="#a0a89a" stroke-width="1.1" stroke-linejoin="round"/>
<polygon points="1615.4,231.5 1646.4,242.6 1692.2,233.2 1660.8,222.6" fill="#f8fcf4" stroke="#a0a89a" stroke-width="1.1" stroke-linejoin="round"/>
<polygon points="1721.0,405.2 1753.7,420.1 1752.0,190.2 1718.2,180.2" fill="#e6f2da" stroke="#98a690" stroke-width="1.1" stroke-linejoin="round"/>
<polygon points="1753.7,420.1 1796.3,407.3 1796.3,181.7 1752.0,190.2" fill="#eaf4e0" stroke="#98a690" stroke-width="1.1" stroke-linejoin="round"/>
<polygon points="1718.2,180.2 1752.0,190.2 1796.3,181.7 1762.1,172.2" fill="#eef6e6" stroke="#98a690" stroke-width="1.1" stroke-linejoin="round"/>
<polygon points="1822.5,408.6 1857.7,423.6 1860.4,154.5 1823.6,145.3" fill="#bad99f" stroke="#80a068" stroke-width="1.1" stroke-linejoin="round"/>
<polygon points="1857.7,423.6 1898.5,410.7 1902.9,146.7 1860.4,154.5" fill="#bedba4" stroke="#80a068" stroke-width="1.1" stroke-linejoin="round"/>
<polygon points="1823.6,145.3 1860.4,154.5 1902.9,146.7 1865.9,137.8" fill="#c4dfaa" stroke="#80a068" stroke-width="1.1" stroke-linejoin="round"/>
<polygon points="1925.0,411.9 1962.8,427.1 1971.2,116.4 1931.4,108.0" fill="#a8d188" stroke="#749a5c" stroke-width="1.1" stroke-linejoin="round"/>
<polygon points="1962.8,427.1 2001.6,414.1 2011.8,109.3 1971.2,116.4" fill="#acd38d" stroke="#749a5c" stroke-width="1.1" stroke-linejoin="round"/>
<polygon points="1931.4,108.0 1971.2,116.4 2011.8,109.3 1971.8,101.3" fill="#b2d694" stroke="#749a5c" stroke-width="1.1" stroke-linejoin="round"/>
<polygon points="1558.9,418.7 1588.5,434.2 1584.4,316.4 1554.4,303.4" fill="#f4f9ef" stroke="#a0a89a" stroke-width="1.1" stroke-linejoin="round"/>
<polygon points="1588.5,434.2 1635.5,420.9 1632.4,305.3 1584.4,316.4" fill="#f6fbf2" stroke="#a0a89a" stroke-width="1.1" stroke-linejoin="round"/>
<polygon points="1554.4,303.4 1584.4,316.4 1632.4,305.3 1601.8,292.8" fill="#f8fcf4" stroke="#a0a89a" stroke-width="1.1" stroke-linejoin="round"/>
<polygon points="1662.0,422.2 1694.1,437.8 1691.2,266.4 1658.2,254.4" fill="#e6f2da" stroke="#98a690" stroke-width="1.1" stroke-linejoin="round"/>
<polygon points="1694.1,437.8 1739.2,424.4 1737.6,256.2 1691.2,266.4" fill="#eaf4e0" stroke="#98a690" stroke-width="1.1" stroke-linejoin="round"/>
<polygon points="1658.2,254.4 1691.2,266.4 1737.6,256.2 1704.2,244.7" fill="#eef6e6" stroke="#98a690" stroke-width="1.1" stroke-linejoin="round"/>
<polygon points="1766.0,425.7 1800.8,441.5 1800.9,231.9 1764.9,220.6" fill="#bad99f" stroke="#80a068" stroke-width="1.1" stroke-linejoin="round"/>
<polygon points="1800.8,441.5 1843.9,427.9 1845.5,222.3 1800.9,231.9" fill="#bedba4" stroke="#80a068" stroke-width="1.1" stroke-linejoin="round"/>
<polygon points="1764.9,220.6 1800.9,231.9 1845.5,222.3 1809.1,211.5" fill="#c4dfaa" stroke="#80a068" stroke-width="1.1" stroke-linejoin="round"/>
<polygon points="1871.0,429.2 1908.5,445.2 1913.3,187.9 1874.1,177.6" fill="#a8d188" stroke="#749a5c" stroke-width="1.1" stroke-linejoin="round"/>
<polygon points="1908.5,445.2 1949.6,431.5 1955.9,179.2 1913.3,187.9" fill="#acd38d" stroke="#749a5c" stroke-width="1.1" stroke-linejoin="round"/>
<polygon points="1874.1,177.6 1913.3,187.9 1955.9,179.2 1916.5,169.2" fill="#b2d694" stroke="#749a5c" stroke-width="1.1" stroke-linejoin="round"/>
<polygon points="1977.0,432.8 2017.3,448.9 2025.9,212.8 1983.8,201.9" fill="#92c66a" stroke="#68944c" stroke-width="1.1" stroke-linejoin="round"/>
<polygon points="2017.3,448.9 2056.3,435.1 2066.1,203.5 2025.9,212.8" fill="#96c86f" stroke="#68944c" stroke-width="1.1" stroke-linejoin="round"/>
<polygon points="1983.8,201.9 2025.9,212.8 2066.1,203.5 2024.0,193.0" fill="#9ccb76" stroke="#68944c" stroke-width="1.1" stroke-linejoin="round"/>
<polygon points="1599.6,440.1 1631.2,456.6 1628.0,340.2 1595.9,326.1" fill="#e6f2da" stroke="#98a690" stroke-width="1.1" stroke-linejoin="round"/>
<polygon points="1631.2,456.6 1678.8,442.4 1676.6,328.2 1628.0,340.2" fill="#eaf4e0" stroke="#98a690" stroke-width="1.1" stroke-linejoin="round"/>
<polygon points="1595.9,326.1 1628.0,340.2 1676.6,328.2 1644.0,314.7" fill="#eef6e6" stroke="#98a690" stroke-width="1.1" stroke-linejoin="round"/>
<polygon points="1706.3,443.8 1740.7,460.5 1739.1,301.0 1703.9,287.8" fill="#bad99f" stroke="#80a068" stroke-width="1.1" stroke-linejoin="round"/>
<polygon points="1740.7,460.5 1786.2,446.1 1785.9,289.7 1739.1,301.0" fill="#bedba4" stroke="#80a068" stroke-width="1.1" stroke-linejoin="round"/>
<polygon points="1703.9,287.8 1739.1,301.0 1785.9,289.7 1750.3,277.1" fill="#c4dfaa" stroke="#80a068" stroke-width="1.1" stroke-linejoin="round"/>
<polygon points="1814.0,447.5 1851.2,464.4 1853.0,264.0 1814.5,251.6" fill="#a8d188" stroke="#749a5c" stroke-width="1.1" stroke-linejoin="round"/>
<polygon points="1851.2,464.4 1894.6,449.9 1897.7,253.4 1853.0,264.0" fill="#acd38d" stroke="#749a5c" stroke-width="1.1" stroke-linejoin="round"/>
<polygon points="1814.5,251.6 1853.0,264.0 1897.7,253.4 1859.0,241.5" fill="#b2d694" stroke="#749a5c" stroke-width="1.1" stroke-linejoin="round"/>
<polygon points="1922.7,451.2 1962.8,468.3 1968.1,276.2 1926.6,263.4" fill="#92c66a" stroke="#68944c" stroke-width="1.1" stroke-linejoin="round"/>
<polygon points="1962.8,468.3 2004.1,453.7 2010.5,265.3 1968.1,276.2" fill="#96c86f" stroke="#68944c" stroke-width="1.1" stroke-linejoin="round"/>
<polygon points="1926.6,263.4 1968.1,276.2 2010.5,265.3 1968.9,253.0" fill="#9ccb76" stroke="#68944c" stroke-width="1.1" stroke-linejoin="round"/>
<polygon points="1643.1,462.9 1676.9,480.6 1674.7,371.2 1640.4,355.9" fill="#bad99f" stroke="#80a068" stroke-width="1.1" stroke-linejoin="round"/>
<polygon points="1676.9,480.6 1725.2,465.4 1723.9,358.1 1674.7,371.2" fill="#bedba4" stroke="#80a068" stroke-width="1.1" stroke-linejoin="round"/>
<polygon points="1640.4,355.9 1674.7,371.2 1723.9,358.1 1689.1,343.5" fill="#c4dfaa" stroke="#80a068" stroke-width="1.1" stroke-linejoin="round"/>
<polygon points="1753.6,466.8 1790.4,484.7 1790.2,336.7 1752.6,322.1" fill="#a8d188" stroke="#749a5c" stroke-width="1.1" stroke-linejoin="round"/>
<polygon points="1790.4,484.7 1836.4,469.3 1837.3,324.3 1790.2,336.7" fill="#acd38d" stroke="#749a5c" stroke-width="1.1" stroke-linejoin="round"/>
<polygon points="1752.6,322.1 1790.2,336.7 1837.3,324.3 1799.3,310.3" fill="#b2d694" stroke="#749a5c" stroke-width="1.1" stroke-linejoin="round"/>
<polygon points="1865.2,470.8 1905.1,488.9 1907.7,340.8 1866.9,326.0" fill="#92c66a" stroke="#68944c" stroke-width="1.1" stroke-linejoin="round"/>
<polygon points="1905.1,488.9 1948.8,473.3 1952.4,328.2 1907.7,340.8" fill="#96c86f" stroke="#68944c" stroke-width="1.1" stroke-linejoin="round"/>
<polygon points="1866.9,326.0 1907.7,340.8 1952.4,328.2 1911.4,314.1" fill="#9ccb76" stroke="#68944c" stroke-width="1.1" stroke-linejoin="round"/>
<polygon points="1689.7,487.3 1725.9,506.3 1724.8,416.4 1688.1,399.4" fill="#a8d188" stroke="#749a5c" stroke-width="1.1" stroke-linejoin="round"/>
<polygon points="1725.9,506.3 1774.7,490.0 1774.4,401.9 1724.8,416.4" fill="#acd38d" stroke="#749a5c" stroke-width="1.1" stroke-linejoin="round"/>
<polygon points="1688.1,399.4 1724.8,416.4 1774.4,401.9 1737.2,385.7" fill="#b2d694" stroke="#749a5c" stroke-width="1.1" stroke-linejoin="round"/>
<polygon points="1804.3,491.5 1843.8,510.7 1844.6,401.8 1804.4,385.1" fill="#92c66a" stroke="#68944c" stroke-width="1.1" stroke-linejoin="round"/>
<polygon points="1843.8,510.7 1890.2,494.2 1891.8,387.5 1844.6,401.8" fill="#96c86f" stroke="#68944c" stroke-width="1.1" stroke-linejoin="round"/>
<polygon points="1804.4,385.1 1844.6,401.8 1891.8,387.5 1851.4,371.5" fill="#9ccb76" stroke="#68944c" stroke-width="1.1" stroke-linejoin="round"/>
<polygon points="1739.6,513.5 1778.5,533.9 1778.3,460.9 1738.9,442.2" fill="#92c66a" stroke="#68944c" stroke-width="1.1" stroke-linejoin="round"/>
<polygon points="1778.5,533.9 1827.9,516.3 1828.3,444.9 1778.3,460.9" fill="#96c86f" stroke="#68944c" stroke-width="1.1" stroke-linejoin="round"/>
<polygon points="1738.9,442.2 1778.3,460.9 1828.3,444.9 1788.5,427.0" fill="#9ccb76" stroke="#68944c" stroke-width="1.1" stroke-linejoin="round"/>
<polyline points="1544.8,418.5 1777.1,541.7 2070.5,436.2 2087.5,60.1" fill="none" stroke="#000" stroke-width="2.6" stroke-linejoin="round"/>
<line x1="1564.7" y1="429.0" x2="1574.2" y2="426.3" stroke="#000" stroke-width="2.2"/>
<line x1="1606.4" y1="451.1" x2="1616.1" y2="448.3" stroke="#000" stroke-width="2.2"/>
<line x1="1650.9" y1="474.8" x2="1660.8" y2="471.7" stroke="#000" stroke-width="2.2"/>
<line x1="1698.7" y1="500.1" x2="1708.7" y2="496.8" stroke="#000" stroke-width="2.2"/>
<line x1="1750.0" y1="527.3" x2="1760.1" y2="523.8" stroke="#000" stroke-width="2.2"/>
<line x1="1585.2" y1="439.9" x2="1591.0" y2="438.2" stroke="#000" stroke-width="1.8"/>
<line x1="1628.3" y1="462.7" x2="1634.1" y2="461.0" stroke="#000" stroke-width="1.8"/>
<line x1="1674.4" y1="487.2" x2="1680.3" y2="485.3" stroke="#000" stroke-width="1.8"/>
<line x1="1723.9" y1="513.4" x2="1729.9" y2="511.4" stroke="#000" stroke-width="1.8"/>
<line x1="1810.6" y1="529.6" x2="1802.3" y2="525.4" stroke="#000" stroke-width="2.2"/>
<line x1="1874.6" y1="506.6" x2="1866.2" y2="502.6" stroke="#000" stroke-width="2.2"/>
<line x1="1934.8" y1="485.0" x2="1926.3" y2="481.3" stroke="#000" stroke-width="2.2"/>
<line x1="1991.4" y1="464.6" x2="1982.9" y2="461.1" stroke="#000" stroke-width="2.2"/>
<line x1="2044.9" y1="445.4" x2="2036.4" y2="442.1" stroke="#000" stroke-width="2.2"/>
<line x1="1843.1" y1="517.9" x2="1838.1" y2="515.5" stroke="#000" stroke-width="1.8"/>
<line x1="1905.1" y1="495.6" x2="1900.1" y2="493.3" stroke="#000" stroke-width="1.8"/>
<line x1="1963.5" y1="474.7" x2="1958.4" y2="472.5" stroke="#000" stroke-width="1.8"/>
<line x1="2018.5" y1="454.9" x2="2013.4" y2="452.8" stroke="#000" stroke-width="1.8"/>
<line x1="208.1" y1="1005.0" x2="194.9" y2="641.8" stroke="#e6e6e6" stroke-width="1"/>
<line x1="268.4" y1="988.6" x2="259.0" y2="634.5" stroke="#e6e6e6" stroke-width="1"/>
<line x1="325.7" y1="973.1" x2="319.8" y2="627.6" stroke="#e6e6e6" stroke-width="1"/>
<line x1="380.1" y1="958.3" x2="377.4" y2="621.0" stroke="#e6e6e6" stroke-width="1"/>
<line x1="431.9" y1="944.3" x2="432.0" y2="614.8" stroke="#e6e6e6" stroke-width="1"/>
<line x1="478.3" y1="945.7" x2="480.9" y2="615.6" stroke="#e6e6e6" stroke-width="1"/>
<line x1="523.0" y1="962.8" x2="528.2" y2="623.4" stroke="#e6e6e6" stroke-width="1"/>
<line x1="570.4" y1="980.8" x2="578.4" y2="631.7" stroke="#e6e6e6" stroke-width="1"/>
<line x1="620.7" y1="1000.1" x2="632.0" y2="640.6" stroke="#e6e6e6" stroke-width="1"/>
<line x1="674.3" y1="1020.5" x2="689.2" y2="650.1" stroke="#e6e6e6" stroke-width="1"/>
<line x1="176.7" y1="1013.5" x2="456.8" y2="937.5" stroke="#e6e6e6" stroke-width="1"/>
<line x1="456.8" y1="937.5" x2="702.4" y2="1031.2" stroke="#e6e6e6" stroke-width="1"/>
<line x1="174.3" y1="957.1" x2="457.1" y2="887.3" stroke="#e6e6e6" stroke-width="1"/>
<line x1="457.1" y1="887.3" x2="705.0" y2="973.7" stroke="#e6e6e6" stroke-width="1"/>
<line x1="171.9" y1="899.7" x2="457.3" y2="836.3" stroke="#e6e6e6" stroke-width="1"/>
<line x1="457.3" y1="836.3" x2="707.6" y2="915.0" stroke="#e6e6e6" stroke-width="1"/>
<line x1="169.5" y1="841.2" x2="457.5" y2="784.4" stroke="#e6e6e6" stroke-width="1"/>
<line x1="457.5" y1="784.4" x2="710.3" y2="855.3" stroke="#e6e6e6" stroke-width="1"/>
<line x1="167.0" y1="781.6" x2="457.8" y2="731.7" stroke="#e6e6e6" stroke-width="1"/>
<line x1="457.8" y1="731.7" x2="713.1" y2="794.3" stroke="#e6e6e6" stroke-width="1"/>
<line x1="164.5" y1="720.8" x2="458.0" y2="678.1" stroke="#e6e6e6" stroke-width="1"/>
<line x1="458.0" y1="678.1" x2="715.9" y2="732.1" stroke="#e6e6e6" stroke-width="1"/>
<line x1="161.9" y1="658.9" x2="458.2" y2="623.5" stroke="#e6e6e6" stroke-width="1"/>
<line x1="458.2" y1="623.5" x2="718.7" y2="668.8" stroke="#e6e6e6" stroke-width="1"/>
<line x1="456.8" y1="937.5" x2="458.3" y2="611.8" stroke="#000" stroke-width="2"/>
<polyline points="161.4,645.6 458.3,611.8 719.3,655.1" fill="none" stroke="#000" stroke-width="2.2" stroke-linejoin="round"/>
<line x1="176.7" y1="1013.5" x2="161.4" y2="645.6" stroke="#000" stroke-width="2.6"/>
<line x1="176.7" y1="1013.5" x2="186.2" y2="1010.9" stroke="#000" stroke-width="2.4"/>
<line x1="174.3" y1="957.1" x2="183.9" y2="954.8" stroke="#000" stroke-width="2.4"/>
<line x1="171.9" y1="899.7" x2="181.6" y2="897.6" stroke="#000" stroke-width="2.4"/>
<line x1="169.5" y1="841.2" x2="179.3" y2="839.3" stroke="#000" stroke-width="2.4"/>
<line x1="167.0" y1="781.6" x2="176.9" y2="779.9" stroke="#000" stroke-width="2.4"/>
<line x1="164.5" y1="720.8" x2="174.5" y2="719.4" stroke="#000" stroke-width="2.4"/>
<line x1="161.9" y1="658.9" x2="172.0" y2="657.7" stroke="#000" stroke-width="2.4"/>
<line x1="175.5" y1="985.4" x2="181.3" y2="984.0" stroke="#000" stroke-width="2"/>
<line x1="173.1" y1="928.6" x2="178.9" y2="927.2" stroke="#000" stroke-width="2"/>
<line x1="170.7" y1="870.6" x2="176.6" y2="869.4" stroke="#000" stroke-width="2"/>
<line x1="168.3" y1="811.5" x2="174.2" y2="810.5" stroke="#000" stroke-width="2"/>
<line x1="165.8" y1="751.4" x2="171.8" y2="750.4" stroke="#000" stroke-width="2"/>
<line x1="163.2" y1="690.0" x2="169.3" y2="689.2" stroke="#000" stroke-width="2"/>
<polygon points="418.7,951.5 450.2,964.1 451.3,637.4 418.1,631.3" fill="#fbf5f6" stroke="#aaa2a4" stroke-width="1.1" stroke-linejoin="round"/>
<polygon points="450.2,964.1 488.3,953.3 491.4,632.4 451.3,637.4" fill="#fcf7f8" stroke="#aaa2a4" stroke-width="1.1" stroke-linejoin="round"/>
<polygon points="418.1,631.3 451.3,637.4 491.4,632.4 458.0,626.5" fill="#fdf9fa" stroke="#aaa2a4" stroke-width="1.1" stroke-linejoin="round"/>
<polygon points="366.0,965.9 397.1,979.2 395.7,706.4 363.2,698.7" fill="#fbf5f6" stroke="#aaa2a4" stroke-width="1.1" stroke-linejoin="round"/>
<polygon points="397.1,979.2 437.2,967.8 437.6,699.9 395.7,706.4" fill="#fcf7f8" stroke="#aaa2a4" stroke-width="1.1" stroke-linejoin="round"/>
<polygon points="363.2,698.7 395.7,706.4 437.6,699.9 404.8,692.5" fill="#fdf9fa" stroke="#aaa2a4" stroke-width="1.1" stroke-linejoin="round"/>
<polygon points="462.0,968.9 495.4,982.3 498.9,660.0 463.7,653.2" fill="#f7d6d8" stroke="#b09a9c" stroke-width="1.1" stroke-linejoin="round"/>
<polygon points="495.4,982.3 533.9,970.8 539.2,654.4 498.9,660.0" fill="#f8dbdd" stroke="#b09a9c" stroke-width="1.1" stroke-linejoin="round"/>
<polygon points="463.7,653.2 498.9,660.0 539.2,654.4 503.8,647.8" fill="#f9dfe1" stroke="#b09a9c" stroke-width="1.1" stroke-linejoin="round"/>
<polygon points="310.6,981.0 341.3,995.0 338.2,779.0 306.4,769.5" fill="#fbf5f6" stroke="#aaa2a4" stroke-width="1.1" stroke-linejoin="round"/>
<polygon points="341.3,995.0 383.5,983.0 381.9,771.0 338.2,779.0" fill="#fcf7f8" stroke="#aaa2a4" stroke-width="1.1" stroke-linejoin="round"/>
<polygon points="306.4,769.5 338.2,779.0 381.9,771.0 349.8,761.8" fill="#fdf9fa" stroke="#aaa2a4" stroke-width="1.1" stroke-linejoin="round"/>
<polygon points="408.9,984.2 441.9,998.3 442.5,726.7 408.0,718.3" fill="#f7d6d8" stroke="#b09a9c" stroke-width="1.1" stroke-linejoin="round"/>
<polygon points="441.9,998.3 482.4,986.2 484.7,719.6 442.5,726.7" fill="#f8dbdd" stroke="#b09a9c" stroke-width="1.1" stroke-linejoin="round"/>
<polygon points="408.0,718.3 442.5,726.7 484.7,719.6 449.9,711.5" fill="#f9dfe1" stroke="#b09a9c" stroke-width="1.1" stroke-linejoin="round"/>
<polygon points="508.0,987.3 543.5,1001.6 549.6,677.9 512.1,670.5" fill="#f08a8c" stroke="#b46a6c" stroke-width="1.1" stroke-linejoin="round"/>
<polygon points="543.5,1001.6 582.2,989.4 590.1,671.7 549.6,677.9" fill="#f19092" stroke="#b46a6c" stroke-width="1.1" stroke-linejoin="round"/>
<polygon points="512.1,670.5 549.6,677.9 590.1,671.7 552.4,664.6" fill="#f29496" stroke="#b46a6c" stroke-width="1.1" stroke-linejoin="round"/>
<polygon points="252.2,996.9 282.4,1011.6 278.5,848.1 247.6,836.8" fill="#fbf5f6" stroke="#aaa2a4" stroke-width="1.1" stroke-linejoin="round"/>
<polygon points="282.4,1011.6 327.0,999.0 324.3,838.5 278.5,848.1" fill="#fcf7f8" stroke="#aaa2a4" stroke-width="1.1" stroke-linejoin="round"/>
<polygon points="247.6,836.8 278.5,848.1 324.3,838.5 292.9,827.6" fill="#fdf9fa" stroke="#aaa2a4" stroke-width="1.1" stroke-linejoin="round"/>
<polygon points="352.9,1000.2 385.5,1015.1 383.9,794.5 350.1,784.3" fill="#f7d6d8" stroke="#b09a9c" stroke-width="1.1" stroke-linejoin="round"/>
<polygon points="385.5,1015.1 428.2,1002.4 428.2,785.9 383.9,794.5" fill="#f8dbdd" stroke="#b09a9c" stroke-width="1.1" stroke-linejoin="round"/>
<polygon points="350.1,784.3 383.9,794.5 428.2,785.9 394.0,776.1" fill="#f9dfe1" stroke="#b09a9c" stroke-width="1.1" stroke-linejoin="round"/>
<polygon points="454.4,1003.6 489.6,1018.6 492.3,749.3 455.5,740.1" fill="#f08a8c" stroke="#b46a6c" stroke-width="1.1" stroke-linejoin="round"/>
<polygon points="489.6,1018.6 530.4,1005.7 534.7,741.5 492.3,749.3" fill="#f19092" stroke="#b46a6c" stroke-width="1.1" stroke-linejoin="round"/>
<polygon points="455.5,740.1 492.3,749.3 534.7,741.5 497.7,732.6" fill="#f29496" stroke="#b46a6c" stroke-width="1.1" stroke-linejoin="round"/>
<polygon points="556.9,1006.9 594.6,1022.1 603.2,706.4 563.3,698.1" fill="#ef6366" stroke="#b04a4c" stroke-width="1.1" stroke-linejoin="round"/>
<polygon points="594.6,1022.1 633.5,1009.1 643.9,699.4 603.2,706.4" fill="#f0696c" stroke="#b04a4c" stroke-width="1.1" stroke-linejoin="round"/>
<polygon points="563.3,698.1 603.2,706.4 643.9,699.4 603.8,691.5" fill="#f16e70" stroke="#b04a4c" stroke-width="1.1" stroke-linejoin="round"/>
<polygon points="190.8,1013.7 220.3,1029.2 216.6,921.9 186.6,908.7" fill="#fbf5f6" stroke="#aaa2a4" stroke-width="1.1" stroke-linejoin="round"/>
<polygon points="220.3,1029.2 267.3,1015.9 264.5,910.6 216.6,921.9" fill="#fcf7f8" stroke="#aaa2a4" stroke-width="1.1" stroke-linejoin="round"/>
<polygon points="186.6,908.7 216.6,921.9 264.5,910.6 234.0,897.9" fill="#fdf9fa" stroke="#aaa2a4" stroke-width="1.1" stroke-linejoin="round"/>
<polygon points="293.8,1017.2 326.0,1032.9 323.2,866.0 290.2,853.9" fill="#f7d6d8" stroke="#b09a9c" stroke-width="1.1" stroke-linejoin="round"/>
<polygon points="326.0,1032.9 371.1,1019.4 369.5,855.7 323.2,866.0" fill="#f8dbdd" stroke="#b09a9c" stroke-width="1.1" stroke-linejoin="round"/>
<polygon points="290.2,853.9 323.2,866.0 369.5,855.7 336.1,844.1" fill="#f9dfe1" stroke="#b09a9c" stroke-width="1.1" stroke-linejoin="round"/>
<polygon points="397.9,1020.7 432.7,1036.5 432.8,819.5 396.8,808.4" fill="#f08a8c" stroke="#b46a6c" stroke-width="1.1" stroke-linejoin="round"/>
<polygon points="432.7,1036.5 475.8,1022.9 477.4,810.1 432.8,819.5" fill="#f19092" stroke="#b46a6c" stroke-width="1.1" stroke-linejoin="round"/>
<polygon points="396.8,808.4 432.8,819.5 477.4,810.1 441.0,799.4" fill="#f29496" stroke="#b46a6c" stroke-width="1.1" stroke-linejoin="round"/>
<polygon points="502.9,1024.2 540.4,1040.2 545.3,774.3 506.0,764.2" fill="#ef6366" stroke="#b04a4c" stroke-width="1.1" stroke-linejoin="round"/>
<polygon points="540.4,1040.2 581.4,1026.5 588.0,765.7 545.3,774.3" fill="#f0696c" stroke="#b04a4c" stroke-width="1.1" stroke-linejoin="round"/>
<polygon points="506.0,764.2 545.3,774.3 588.0,765.7 548.5,756.0" fill="#f16e70" stroke="#b04a4c" stroke-width="1.1" stroke-linejoin="round"/>
<polygon points="608.9,1027.8 649.2,1044.0 660.4,733.3 617.9,724.0" fill="#ee2e33" stroke="#b02428" stroke-width="1.1" stroke-linejoin="round"/>
<polygon points="649.2,1044.0 688.1,1030.1 701.1,725.5 660.4,733.3" fill="#ef3338" stroke="#b02428" stroke-width="1.1" stroke-linejoin="round"/>
<polygon points="617.9,724.0 660.4,733.3 701.1,725.5 658.5,716.6" fill="#f0383d" stroke="#b02428" stroke-width="1.1" stroke-linejoin="round"/>
<polygon points="231.5,1035.1 263.1,1051.7 260.0,938.6 227.9,924.5" fill="#f7d6d8" stroke="#b09a9c" stroke-width="1.1" stroke-linejoin="round"/>
<polygon points="263.1,1051.7 310.7,1037.4 308.5,926.5 260.0,938.6" fill="#f8dbdd" stroke="#b09a9c" stroke-width="1.1" stroke-linejoin="round"/>
<polygon points="227.9,924.5 260.0,938.6 308.5,926.5 276.0,913.0" fill="#f9dfe1" stroke="#b09a9c" stroke-width="1.1" stroke-linejoin="round"/>
<polygon points="338.2,1038.8 372.5,1055.5 371.0,894.5 335.8,881.3" fill="#f08a8c" stroke="#b46a6c" stroke-width="1.1" stroke-linejoin="round"/>
<polygon points="372.5,1055.5 418.1,1041.1 417.8,883.3 371.0,894.5" fill="#f19092" stroke="#b46a6c" stroke-width="1.1" stroke-linejoin="round"/>
<polygon points="335.8,881.3 371.0,894.5 417.8,883.3 382.2,870.6" fill="#f29496" stroke="#b46a6c" stroke-width="1.1" stroke-linejoin="round"/>
<polygon points="445.9,1042.5 483.1,1059.4 485.0,844.5 446.4,832.4" fill="#ef6366" stroke="#b04a4c" stroke-width="1.1" stroke-linejoin="round"/>
<polygon points="483.1,1059.4 526.5,1044.9 529.8,834.2 485.0,844.5" fill="#f0696c" stroke="#b04a4c" stroke-width="1.1" stroke-linejoin="round"/>
<polygon points="446.4,832.4 485.0,844.5 529.8,834.2 491.0,822.6" fill="#f16e70" stroke="#b04a4c" stroke-width="1.1" stroke-linejoin="round"/>
<polygon points="554.6,1046.3 594.7,1063.3 601.6,811.8 559.7,800.4" fill="#ee2e33" stroke="#b02428" stroke-width="1.1" stroke-linejoin="round"/>
<polygon points="594.7,1063.3 635.9,1048.7 644.3,802.1 601.6,811.8" fill="#ef3338" stroke="#b02428" stroke-width="1.1" stroke-linejoin="round"/>
<polygon points="559.7,800.4 601.6,811.8 644.3,802.1 602.3,791.2" fill="#f0383d" stroke="#b02428" stroke-width="1.1" stroke-linejoin="round"/>
<polygon points="275.0,1057.9 308.8,1075.6 306.5,962.4 272.2,947.2" fill="#f08a8c" stroke="#b46a6c" stroke-width="1.1" stroke-linejoin="round"/>
<polygon points="308.8,1075.6 357.0,1060.4 355.7,949.4 306.5,962.4" fill="#f19092" stroke="#b46a6c" stroke-width="1.1" stroke-linejoin="round"/>
<polygon points="272.2,947.2 306.5,962.4 355.7,949.4 320.9,934.9" fill="#f29496" stroke="#b46a6c" stroke-width="1.1" stroke-linejoin="round"/>
<polygon points="385.5,1061.8 422.3,1079.7 422.1,924.3 384.4,909.9" fill="#ef6366" stroke="#b04a4c" stroke-width="1.1" stroke-linejoin="round"/>
<polygon points="422.3,1079.7 468.3,1064.3 469.3,912.0 422.1,924.3" fill="#f0696c" stroke="#b04a4c" stroke-width="1.1" stroke-linejoin="round"/>
<polygon points="384.4,909.9 422.1,924.3 469.3,912.0 431.2,898.2" fill="#f16e70" stroke="#b04a4c" stroke-width="1.1" stroke-linejoin="round"/>
<polygon points="497.1,1065.8 536.9,1083.9 540.4,887.3 499.3,873.7" fill="#ee2e33" stroke="#b02428" stroke-width="1.1" stroke-linejoin="round"/>
<polygon points="536.9,1083.9 580.6,1068.3 585.5,875.7 540.4,887.3" fill="#ef3338" stroke="#b02428" stroke-width="1.1" stroke-linejoin="round"/>
<polygon points="499.3,873.7 540.4,887.3 585.5,875.7 544.1,862.7" fill="#f0383d" stroke="#b02428" stroke-width="1.1" stroke-linejoin="round"/>
<polygon points="321.5,1082.3 357.8,1101.3 356.6,1000.5 319.8,983.8" fill="#ef6366" stroke="#b04a4c" stroke-width="1.1" stroke-linejoin="round"/>
<polygon points="357.8,1101.3 406.6,1085.0 406.2,986.2 356.6,1000.5" fill="#f0696c" stroke="#b04a4c" stroke-width="1.1" stroke-linejoin="round"/>
<polygon points="319.8,983.8 356.6,1000.5 406.2,986.2 369.0,970.3" fill="#f16e70" stroke="#b04a4c" stroke-width="1.1" stroke-linejoin="round"/>
<polygon points="436.2,1086.5 475.6,1105.7 476.7,961.9 436.3,946.0" fill="#ee2e33" stroke="#b02428" stroke-width="1.1" stroke-linejoin="round"/>
<polygon points="475.6,1105.7 522.0,1089.2 524.2,948.3 476.7,961.9" fill="#ef3338" stroke="#b02428" stroke-width="1.1" stroke-linejoin="round"/>
<polygon points="436.3,946.0 476.7,961.9 524.2,948.3 483.5,933.2" fill="#f0383d" stroke="#b02428" stroke-width="1.1" stroke-linejoin="round"/>
<polygon points="371.5,1108.5 410.4,1128.9 410.1,1033.0 370.6,1014.9" fill="#ee2e33" stroke="#b02428" stroke-width="1.1" stroke-linejoin="round"/>
<polygon points="410.4,1128.9 459.8,1111.4 460.3,1017.5 410.1,1033.0" fill="#ef3338" stroke="#b02428" stroke-width="1.1" stroke-linejoin="round"/>
<polygon points="370.6,1014.9 410.1,1033.0 460.3,1017.5 420.3,1000.1" fill="#f0383d" stroke="#b02428" stroke-width="1.1" stroke-linejoin="round"/>
<polyline points="176.7,1013.5 408.9,1136.7 702.4,1031.2 719.3,655.1" fill="none" stroke="#000" stroke-width="2.6" stroke-linejoin="round"/>
<line x1="196.5" y1="1024.0" x2="206.1" y2="1021.4" stroke="#000" stroke-width="2.2"/>
<line x1="238.2" y1="1046.1" x2="247.9" y2="1043.3" stroke="#000" stroke-width="2.2"/>
<line x1="282.8" y1="1069.8" x2="292.6" y2="1066.7" stroke="#000" stroke-width="2.2"/>
<line x1="330.5" y1="1095.1" x2="340.5" y2="1091.8" stroke="#000" stroke-width="2.2"/>
<line x1="381.8" y1="1122.3" x2="392.0" y2="1118.8" stroke="#000" stroke-width="2.2"/>
<line x1="217.0" y1="1034.9" x2="222.8" y2="1033.2" stroke="#000" stroke-width="1.8"/>
<line x1="260.1" y1="1057.8" x2="266.0" y2="1056.0" stroke="#000" stroke-width="1.8"/>
<line x1="306.3" y1="1082.2" x2="312.2" y2="1080.3" stroke="#000" stroke-width="1.8"/>
<line x1="355.7" y1="1108.5" x2="361.8" y2="1106.4" stroke="#000" stroke-width="1.8"/>
<line x1="442.5" y1="1124.6" x2="434.2" y2="1120.4" stroke="#000" stroke-width="2.2"/>
<line x1="506.5" y1="1101.6" x2="498.1" y2="1097.7" stroke="#000" stroke-width="2.2"/>
<line x1="566.6" y1="1080.0" x2="558.2" y2="1076.3" stroke="#000" stroke-width="2.2"/>
<line x1="623.3" y1="1059.7" x2="614.8" y2="1056.1" stroke="#000" stroke-width="2.2"/>
<line x1="676.8" y1="1040.4" x2="668.3" y2="1037.1" stroke="#000" stroke-width="2.2"/>
<line x1="475.0" y1="1112.9" x2="470.0" y2="1110.5" stroke="#000" stroke-width="1.8"/>
<line x1="537.0" y1="1090.7" x2="531.9" y2="1088.3" stroke="#000" stroke-width="1.8"/>
<line x1="595.4" y1="1069.7" x2="590.3" y2="1067.5" stroke="#000" stroke-width="1.8"/>
<line x1="650.4" y1="1049.9" x2="645.3" y2="1047.8" stroke="#000" stroke-width="1.8"/>
<text x="109.85" y="455.10" font-size="36" fill="#000">0.5</text>
<text x="155.77" y="481.70" font-size="36" fill="#000">0.4</text>
<text x="201.93" y="508.17" font-size="36" fill="#000">0.3</text>
<text x="248.05" y="534.90" font-size="36" fill="#000">0.2</text>
<text x="292.70" y="561.80" font-size="36" fill="#000">0.1</text>
<text x="406.62" y="559.12" font-size="36" fill="#000">1</text>
<text x="473.12" y="537.83" font-size="36" fill="#000">2</text>
<text x="533.90" y="514.92" font-size="36" fill="#000">3</text>
<text x="590.33" y="495.93" font-size="36" fill="#000">4</text>
<text x="642.77" y="474.55" font-size="36" fill="#000">5</text>
<text x="71.35" y="473.13" font-size="36" fill="#000" transform="rotate(31.00 71.35 473.13)">Frequency/Hz</text>
<text x="456.01" y="586.18" font-size="36" fill="#000" transform="rotate(-20.00 456.01 586.18)">Spike number</text>
<text x="50.95" y="73.50" font-size="36" fill="#000">400</text>
<text x="57.92" y="170.03" font-size="36" fill="#000">300</text>
<text x="64.93" y="256.80" font-size="36" fill="#000">200</text>
<text x="69.88" y="343.35" font-size="36" fill="#000">100</text>
<text x="110.65" y="421.80" font-size="36" fill="#000">0</text>
<text x="51.63" y="340.13" font-size="36" fill="#000" transform="rotate(-92.30 51.63 340.13)">EPSC/nA</text>
<text x="371.00" y="384.48" font-size="36" fill="#ffffff">A</text>
<text x="619.10" y="143.43" font-size="36" fill="#000000">A</text>
<text x="395.32" y="396.45" font-size="21" fill="#ffffff">1</text>
<text x="645.08" y="155.62" font-size="21" fill="#000000">5</text>
<text x="797.45" y="469.77" font-size="36" fill="#000">0.5</text>
<text x="843.38" y="496.37" font-size="36" fill="#000">0.4</text>
<text x="889.52" y="522.85" font-size="36" fill="#000">0.3</text>
<text x="935.65" y="549.57" font-size="36" fill="#000">0.2</text>
<text x="980.30" y="576.47" font-size="36" fill="#000">0.1</text>
<text x="1103.03" y="573.79" font-size="36" fill="#000">1</text>
<text x="1169.52" y="552.49" font-size="36" fill="#000">2</text>
<text x="1230.30" y="529.60" font-size="36" fill="#000">3</text>
<text x="1286.72" y="510.60" font-size="36" fill="#000">4</text>
<text x="1339.17" y="489.22" font-size="36" fill="#000">5</text>
<text x="758.95" y="487.80" font-size="36" fill="#000" transform="rotate(31.00 758.95 487.80)">Frequency/Hz</text>
<text x="1152.41" y="600.85" font-size="36" fill="#000" transform="rotate(-20.00 1152.41 600.85)">Spike number</text>
<text x="717.02" y="126.05" font-size="36" fill="#000">1 000</text>
<text x="750.45" y="195.25" font-size="36" fill="#000">800</text>
<text x="753.48" y="255.00" font-size="36" fill="#000">600</text>
<text x="757.50" y="321.10" font-size="36" fill="#000">400</text>
<text x="759.77" y="381.90" font-size="36" fill="#000">200</text>
<text x="803.25" y="440.60" font-size="36" fill="#000">0</text>
<text x="735.68" y="357.38" font-size="36" fill="#000" transform="rotate(-92.30 735.68 357.38)">EPSC/nA</text>
<text x="1056.60" y="426.43" font-size="36" fill="#e60012">A</text>
<text x="1304.90" y="159.32" font-size="36" fill="#e60012">A</text>
<text x="1081.28" y="438.05" font-size="21" fill="#e60012">1</text>
<text x="1330.62" y="171.53" font-size="21" fill="#e60012">5</text>
<text x="1507.80" y="459.97" font-size="36" fill="#000">0.5</text>
<text x="1553.72" y="486.57" font-size="36" fill="#000">0.4</text>
<text x="1599.88" y="513.04" font-size="36" fill="#000">0.3</text>
<text x="1646.00" y="539.77" font-size="36" fill="#000">0.2</text>
<text x="1690.65" y="566.67" font-size="36" fill="#000">0.1</text>
<text x="1811.38" y="564.00" font-size="36" fill="#000">1</text>
<text x="1877.88" y="542.69" font-size="36" fill="#000">2</text>
<text x="1938.65" y="519.80" font-size="36" fill="#000">3</text>
<text x="1995.08" y="500.80" font-size="36" fill="#000">4</text>
<text x="2047.53" y="479.42" font-size="36" fill="#000">5</text>
<text x="1469.30" y="478.00" font-size="36" fill="#000" transform="rotate(31.00 1469.30 478.00)">Frequency/Hz</text>
<text x="1860.76" y="591.05" font-size="36" fill="#000" transform="rotate(-20.00 1860.76 591.05)">Spike number</text>
<text x="1427.78" y="65.75" font-size="36" fill="#000">2 000</text>
<text x="1428.47" y="141.90" font-size="36" fill="#000">1 600</text>
<text x="1432.53" y="215.80" font-size="36" fill="#000">1 200</text>
<text x="1465.60" y="289.05" font-size="36" fill="#000">800</text>
<text x="1469.35" y="362.90" font-size="36" fill="#000">400</text>
<text x="1509.80" y="432.70" font-size="36" fill="#000">0</text>
<text x="1426.58" y="350.03" font-size="36" fill="#000" transform="rotate(-92.30 1426.58 350.03)">EPSC/nA</text>
<text x="1763.60" y="436.98" font-size="36" fill="#ffffff">A</text>
<text x="2011.35" y="187.38" font-size="36" fill="#009944">A</text>
<text x="1788.38" y="448.90" font-size="21" fill="#ffffff">1</text>
<text x="2037.08" y="199.38" font-size="21" fill="#009944">5</text>
<text x="142.17" y="1054.98" font-size="36" fill="#000">0.5</text>
<text x="188.09" y="1081.58" font-size="36" fill="#000">0.4</text>
<text x="234.25" y="1108.05" font-size="36" fill="#000">0.3</text>
<text x="280.37" y="1134.78" font-size="36" fill="#000">0.2</text>
<text x="325.02" y="1161.68" font-size="36" fill="#000">0.1</text>
<text x="448.25" y="1159.00" font-size="36" fill="#000">1</text>
<text x="514.75" y="1137.70" font-size="36" fill="#000">2</text>
<text x="575.52" y="1114.81" font-size="36" fill="#000">3</text>
<text x="631.94" y="1095.81" font-size="36" fill="#000">4</text>
<text x="684.39" y="1074.43" font-size="36" fill="#000">5</text>
<text x="103.67" y="1073.01" font-size="36" fill="#000" transform="rotate(31.00 103.67 1073.01)">Frequency/Hz</text>
<text x="497.63" y="1186.06" font-size="36" fill="#000" transform="rotate(-20.00 497.63 1186.06)">Spike number</text>
<text x="62.38" y="677.40" font-size="36" fill="#000">2 400</text>
<text x="62.38" y="737.90" font-size="36" fill="#000">2 000</text>
<text x="63.03" y="797.20" font-size="36" fill="#000">1 600</text>
<text x="66.47" y="851.80" font-size="36" fill="#000">1 200</text>
<text x="100.75" y="911.15" font-size="36" fill="#000">800</text>
<text x="103.90" y="971.60" font-size="36" fill="#000">400</text>
<text x="143.75" y="1032.70" font-size="36" fill="#000">0</text>
<text x="56.73" y="920.98" font-size="36" fill="#000" transform="rotate(-92.30 56.73 920.98)">EPSC/nA</text>
<text x="396.60" y="1015.88" font-size="36" fill="#ffffff">A</text>
<text x="647.00" y="707.27" font-size="36" fill="#e60012">A</text>
<text x="421.43" y="1027.90" font-size="21" fill="#ffffff">1</text>
<text x="672.88" y="719.47" font-size="21" fill="#e60012">5</text>
<defs>
<rect id="m_sq" x="-4.6" y="-4.6" width="9.2" height="9.2"/>
<circle id="m_ci" r="5.8"/>
<polygon id="m_tu" points="0,-6.8 6.5,4.6 -6.5,4.6"/>
<polygon id="m_td" points="0,6.8 6.5,-4.6 -6.5,-4.6"/>
<polygon id="m_di" points="0,-6.5 6.5,0 0,6.5 -6.5,0"/>
<polygon id="m_tl" points="-6.8,0 4.6,-6.5 4.6,6.5"/>
<polygon id="m_tr" points="6.8,0 -4.6,-6.5 -4.6,6.5"/>
<polygon id="m_hx" points="0,-6.2 5.4,-3.1 5.4,3.1 0,6.2 -5.4,3.1 -5.4,-3.1"/>
<polygon id="m_st" points="0,-7 1.8,-2.4 6.7,-2.2 2.9,0.9 4.1,5.7 0,3 -4.1,5.7 -2.9,0.9 -6.7,-2.2 -1.8,-2.4"/>
<polygon id="m_pe" points="0,-6.3 6,-1.9 3.7,5.1 -3.7,5.1 -6,-1.9"/>
<g id="m_x"><path d="M-5,-5L5,5M5,-5L-5,5" stroke-width="2.6"/></g>
<g id="m_as"><path d="M0,-7V7M-6,-3.5L6,3.5M6,-3.5L-6,3.5" stroke-width="2.8"/></g>
<g id="m_pl"><path d="M0,-6V6M-6,0H6" stroke-width="2.8"/></g>
</defs>
<rect x="855.9" y="671.2" width="504.8" height="412.5" fill="none" stroke="#1c1c1c" stroke-width="2.3"/>
<path d="M894.7 1083.7v-7M1011.2 1083.7v-7M1127.7 1083.7v-7M1244.2 1083.7v-7" stroke="#1c1c1c" stroke-width="2" fill="none"/>
<path d="M953.0 1083.7v-3.8M1069.5 1083.7v-3.8M1186.0 1083.7v-3.8M1302.4 1083.7v-3.8" stroke="#1c1c1c" stroke-width="2" fill="none"/>
<path d="M855.9 891.4h7M855.9 781.3h7M855.9 1001.5h7" stroke="#1c1c1c" stroke-width="2" fill="none"/>
<path d="M855.9 1056.5h3.8M855.9 946.5h3.8M855.9 836.4h3.8M855.9 726.2h3.8" stroke="#1c1c1c" stroke-width="2" fill="none"/>
<text x="751.80" y="682.70" font-size="36">1 600</text>
<text x="751.80" y="792.80" font-size="36">1 200</text>
<text x="781.80" y="902.90" font-size="36">800</text>
<text x="781.80" y="1013.00" font-size="36">400</text>
<text x="865.11" y="1123.55" font-size="36">390</text>
<text x="981.47" y="1123.55" font-size="36">393</text>
<text x="1097.96" y="1123.55" font-size="36">396</text>
<text x="1214.45" y="1123.55" font-size="36">399</text>
<text x="1331.19" y="1123.55" font-size="36">402</text>
<text x="1052.65" y="1171.10" font-size="35" fill="#000">Time/s</text>
<text transform="translate(754.0 870.0) rotate(-90)" font-size="36" text-anchor="middle"><tspan font-style="italic">I</tspan><tspan font-size="22" font-style="italic" dy="7">DS</tspan><tspan dy="-7">/A</tspan></text>
<polyline points="894.7,1071.4 898.6,1071.3 902.5,1071.5 906.4,1071.7 910.3,1071.6 914.1,1071.8 918.0,1071.4 921.9,1071.0 925.8,1071.6 929.7,1071.7 933.6,1071.3 937.4,1071.4 941.3,1071.4 945.2,1071.8 949.1,1071.5 953.0,1071.3 956.9,1071.9 960.7,1071.6 964.6,1072.1 968.5,1071.9 972.4,1072.1 976.3,1071.6 980.2,1071.9 984.0,1071.4 987.9,1071.5 991.8,1071.6 995.7,1072.4 999.6,1071.7 1003.5,1071.6 1007.3,1071.5 1011.2,1072.1 1015.1,1071.7 1019.0,1071.9 1022.9,1071.8 1026.8,1071.2 1030.6,1071.9 1034.5,1071.6 1038.4,1071.3 1042.3,1071.8 1046.2,1071.6 1050.0,1071.6 1053.9,1071.6 1057.8,1072.0 1061.7,1071.6 1065.6,1071.2 1069.5,1072.1 1073.3,1071.4 1077.2,1071.6 1081.1,1071.9 1085.0,1071.0 1088.9,1071.4 1092.8,1072.1 1096.6,1071.6 1100.5,1071.5 1104.4,1071.7 1108.3,1071.5 1112.2,1071.7 1116.1,1071.5 1119.9,1071.2 1123.8,1071.9 1127.7,1071.6 1131.6,1071.9 1135.5,1071.7 1139.4,1072.1 1143.2,1071.9 1147.1,1071.8 1151.0,1071.4 1154.9,1071.4 1158.8,1072.2 1162.7,1072.0 1166.5,1071.6 1170.4,1072.4 1174.3,1071.9 1178.2,1071.8 1182.1,1071.4 1186.0,1071.6 1189.8,1071.9 1193.7,1071.9 1197.6,1071.9 1201.5,1071.3 1205.4,1072.0 1209.3,1071.9 1213.1,1071.7 1217.0,1071.9 1220.9,1071.9 1224.8,1072.2 1228.7,1071.8 1232.6,1072.0 1236.4,1071.5 1240.3,1071.6 1244.2,1071.9 1248.1,1071.6 1252.0,1072.0 1255.8,1071.5 1259.7,1071.9 1263.6,1071.7 1267.5,1072.3 1271.4,1071.8 1275.3,1072.5 1279.1,1072.6 1283.0,1072.0 1286.9,1072.2 1290.8,1071.9 1294.7,1071.2 1298.6,1072.2 1302.4,1072.1 1306.3,1071.9 1310.2,1071.8 1314.1,1072.0 1318.0,1072.0 1321.9,1071.7" fill="none" stroke="#555555" stroke-width="1.5" stroke-linejoin="round"/>
<g fill="#555555"><use href="#m_sq" x="894.7" y="1071.4"/><use href="#m_sq" x="898.6" y="1071.3"/><use href="#m_sq" x="902.5" y="1071.5"/><use href="#m_sq" x="906.4" y="1071.7"/><use href="#m_sq" x="910.3" y="1071.6"/><use href="#m_sq" x="914.1" y="1071.8"/><use href="#m_sq" x="918.0" y="1071.4"/><use href="#m_sq" x="921.9" y="1071.0"/><use href="#m_sq" x="925.8" y="1071.6"/><use href="#m_sq" x="929.7" y="1071.7"/><use href="#m_sq" x="933.6" y="1071.3"/><use href="#m_sq" x="937.4" y="1071.4"/><use href="#m_sq" x="941.3" y="1071.4"/><use href="#m_sq" x="945.2" y="1071.8"/><use href="#m_sq" x="949.1" y="1071.5"/><use href="#m_sq" x="953.0" y="1071.3"/><use href="#m_sq" x="956.9" y="1071.9"/><use href="#m_sq" x="960.7" y="1071.6"/><use href="#m_sq" x="964.6" y="1072.1"/><use href="#m_sq" x="968.5" y="1071.9"/><use href="#m_sq" x="972.4" y="1072.1"/><use href="#m_sq" x="976.3" y="1071.6"/><use href="#m_sq" x="980.2" y="1071.9"/><use href="#m_sq" x="984.0" y="1071.4"/><use href="#m_sq" x="987.9" y="1071.5"/><use href="#m_sq" x="991.8" y="1071.6"/><use href="#m_sq" x="995.7" y="1072.4"/><use href="#m_sq" x="999.6" y="1071.7"/><use href="#m_sq" x="1003.5" y="1071.6"/><use href="#m_sq" x="1007.3" y="1071.5"/><use href="#m_sq" x="1011.2" y="1072.1"/><use href="#m_sq" x="1015.1" y="1071.7"/><use href="#m_sq" x="1019.0" y="1071.9"/><use href="#m_sq" x="1022.9" y="1071.8"/><use href="#m_sq" x="1026.8" y="1071.2"/><use href="#m_sq" x="1030.6" y="1071.9"/><use href="#m_sq" x="1034.5" y="1071.6"/><use href="#m_sq" x="1038.4" y="1071.3"/><use href="#m_sq" x="1042.3" y="1071.8"/><use href="#m_sq" x="1046.2" y="1071.6"/><use href="#m_sq" x="1050.0" y="1071.6"/><use href="#m_sq" x="1053.9" y="1071.6"/><use href="#m_sq" x="1057.8" y="1072.0"/><use href="#m_sq" x="1061.7" y="1071.6"/><use href="#m_sq" x="1065.6" y="1071.2"/><use href="#m_sq" x="1069.5" y="1072.1"/><use href="#m_sq" x="1073.3" y="1071.4"/><use href="#m_sq" x="1077.2" y="1071.6"/><use href="#m_sq" x="1081.1" y="1071.9"/><use href="#m_sq" x="1085.0" y="1071.0"/><use href="#m_sq" x="1088.9" y="1071.4"/><use href="#m_sq" x="1092.8" y="1072.1"/><use href="#m_sq" x="1096.6" y="1071.6"/><use href="#m_sq" x="1100.5" y="1071.5"/><use href="#m_sq" x="1104.4" y="1071.7"/><use href="#m_sq" x="1108.3" y="1071.5"/><use href="#m_sq" x="1112.2" y="1071.7"/><use href="#m_sq" x="1116.1" y="1071.5"/><use href="#m_sq" x="1119.9" y="1071.2"/><use href="#m_sq" x="1123.8" y="1071.9"/><use href="#m_sq" x="1127.7" y="1071.6"/><use href="#m_sq" x="1131.6" y="1071.9"/><use href="#m_sq" x="1135.5" y="1071.7"/><use href="#m_sq" x="1139.4" y="1072.1"/><use href="#m_sq" x="1143.2" y="1071.9"/><use href="#m_sq" x="1147.1" y="1071.8"/><use href="#m_sq" x="1151.0" y="1071.4"/><use href="#m_sq" x="1154.9" y="1071.4"/><use href="#m_sq" x="1158.8" y="1072.2"/><use href="#m_sq" x="1162.7" y="1072.0"/><use href="#m_sq" x="1166.5" y="1071.6"/><use href="#m_sq" x="1170.4" y="1072.4"/><use href="#m_sq" x="1174.3" y="1071.9"/><use href="#m_sq" x="1178.2" y="1071.8"/><use href="#m_sq" x="1182.1" y="1071.4"/><use href="#m_sq" x="1186.0" y="1071.6"/><use href="#m_sq" x="1189.8" y="1071.9"/><use href="#m_sq" x="1193.7" y="1071.9"/><use href="#m_sq" x="1197.6" y="1071.9"/><use href="#m_sq" x="1201.5" y="1071.3"/><use href="#m_sq" x="1205.4" y="1072.0"/><use href="#m_sq" x="1209.3" y="1071.9"/><use href="#m_sq" x="1213.1" y="1071.7"/><use href="#m_sq" x="1217.0" y="1071.9"/><use href="#m_sq" x="1220.9" y="1071.9"/><use href="#m_sq" x="1224.8" y="1072.2"/><use href="#m_sq" x="1228.7" y="1071.8"/><use href="#m_sq" x="1232.6" y="1072.0"/><use href="#m_sq" x="1236.4" y="1071.5"/><use href="#m_sq" x="1240.3" y="1071.6"/><use href="#m_sq" x="1244.2" y="1071.9"/><use href="#m_sq" x="1248.1" y="1071.6"/><use href="#m_sq" x="1252.0" y="1072.0"/><use href="#m_sq" x="1255.8" y="1071.5"/><use href="#m_sq" x="1259.7" y="1071.9"/><use href="#m_sq" x="1263.6" y="1071.7"/><use href="#m_sq" x="1267.5" y="1072.3"/><use href="#m_sq" x="1271.4" y="1071.8"/><use href="#m_sq" x="1275.3" y="1072.5"/><use href="#m_sq" x="1279.1" y="1072.6"/><use href="#m_sq" x="1283.0" y="1072.0"/><use href="#m_sq" x="1286.9" y="1072.2"/><use href="#m_sq" x="1290.8" y="1071.9"/><use href="#m_sq" x="1294.7" y="1071.2"/><use href="#m_sq" x="1298.6" y="1072.2"/><use href="#m_sq" x="1302.4" y="1072.1"/><use href="#m_sq" x="1306.3" y="1071.9"/><use href="#m_sq" x="1310.2" y="1071.8"/><use href="#m_sq" x="1314.1" y="1072.0"/><use href="#m_sq" x="1318.0" y="1072.0"/><use href="#m_sq" x="1321.9" y="1071.7"/></g>
<polyline points="894.7,1047.0 898.6,1047.5 902.5,1047.2 906.4,1047.2 910.3,1047.6 914.1,1047.2 918.0,1047.5 921.9,1047.0 925.8,1047.2 929.7,1047.3 933.6,1047.5 937.4,1047.4 941.3,1048.0 945.2,1047.7 949.1,1047.2 953.0,1048.1 956.9,1047.1 960.7,1048.0 964.6,1047.2 968.5,1047.7 972.4,1047.2 976.3,1047.4 980.2,1048.0 984.0,1047.1 987.9,1047.0 991.8,1047.5 995.7,1047.6 999.6,1047.6 1003.5,1047.9 1007.3,1047.2 1011.2,1047.7 1015.1,1047.6 1019.0,1047.9 1022.9,1047.8 1026.8,1048.0 1030.6,1047.2 1034.5,1047.7 1038.4,1047.3 1042.3,1047.7 1046.2,1047.9 1050.0,1047.8 1053.9,1047.9 1057.8,1047.7 1061.7,1047.9 1065.6,1047.8 1069.5,1048.2 1073.3,1048.0 1077.2,1047.2 1081.1,1048.0 1085.0,1048.2 1088.9,1047.7 1092.8,1047.4 1096.6,1048.3 1100.5,1047.9 1104.4,1048.1 1108.3,1048.5 1112.2,1047.6 1116.1,1047.9 1119.9,1047.9 1123.8,1048.2 1127.7,1047.8 1131.6,1048.1 1135.5,1048.0 1139.4,1048.3 1143.2,1048.4 1147.1,1047.6 1151.0,1048.2 1154.9,1047.9 1158.8,1048.1 1162.7,1048.2 1166.5,1048.2 1170.4,1047.9 1174.3,1048.2 1178.2,1048.2 1182.1,1048.1 1186.0,1047.7 1189.8,1047.9 1193.7,1048.0 1197.6,1048.4 1201.5,1048.6 1205.4,1047.9 1209.3,1047.9 1213.1,1048.3 1217.0,1048.1 1220.9,1048.0 1224.8,1048.0 1228.7,1048.0 1232.6,1048.4 1236.4,1047.8 1240.3,1048.7 1244.2,1048.0 1248.1,1048.2 1252.0,1048.1 1255.8,1047.7 1259.7,1047.9 1263.6,1048.8 1267.5,1049.0 1271.4,1048.1 1275.3,1048.8 1279.1,1048.4 1283.0,1048.2 1286.9,1049.0 1290.8,1049.2 1294.7,1048.4 1298.6,1048.5 1302.4,1048.6 1306.3,1048.5 1310.2,1048.8 1314.1,1049.0 1318.0,1048.6 1321.9,1048.9" fill="none" stroke="#ef4044" stroke-width="1.5" stroke-linejoin="round"/>
<g fill="#ef4044"><use href="#m_ci" x="894.7" y="1047.0"/><use href="#m_ci" x="898.6" y="1047.5"/><use href="#m_ci" x="902.5" y="1047.2"/><use href="#m_ci" x="906.4" y="1047.2"/><use href="#m_ci" x="910.3" y="1047.6"/><use href="#m_ci" x="914.1" y="1047.2"/><use href="#m_ci" x="918.0" y="1047.5"/><use href="#m_ci" x="921.9" y="1047.0"/><use href="#m_ci" x="925.8" y="1047.2"/><use href="#m_ci" x="929.7" y="1047.3"/><use href="#m_ci" x="933.6" y="1047.5"/><use href="#m_ci" x="937.4" y="1047.4"/><use href="#m_ci" x="941.3" y="1048.0"/><use href="#m_ci" x="945.2" y="1047.7"/><use href="#m_ci" x="949.1" y="1047.2"/><use href="#m_ci" x="953.0" y="1048.1"/><use href="#m_ci" x="956.9" y="1047.1"/><use href="#m_ci" x="960.7" y="1048.0"/><use href="#m_ci" x="964.6" y="1047.2"/><use href="#m_ci" x="968.5" y="1047.7"/><use href="#m_ci" x="972.4" y="1047.2"/><use href="#m_ci" x="976.3" y="1047.4"/><use href="#m_ci" x="980.2" y="1048.0"/><use href="#m_ci" x="984.0" y="1047.1"/><use href="#m_ci" x="987.9" y="1047.0"/><use href="#m_ci" x="991.8" y="1047.5"/><use href="#m_ci" x="995.7" y="1047.6"/><use href="#m_ci" x="999.6" y="1047.6"/><use href="#m_ci" x="1003.5" y="1047.9"/><use href="#m_ci" x="1007.3" y="1047.2"/><use href="#m_ci" x="1011.2" y="1047.7"/><use href="#m_ci" x="1015.1" y="1047.6"/><use href="#m_ci" x="1019.0" y="1047.9"/><use href="#m_ci" x="1022.9" y="1047.8"/><use href="#m_ci" x="1026.8" y="1048.0"/><use href="#m_ci" x="1030.6" y="1047.2"/><use href="#m_ci" x="1034.5" y="1047.7"/><use href="#m_ci" x="1038.4" y="1047.3"/><use href="#m_ci" x="1042.3" y="1047.7"/><use href="#m_ci" x="1046.2" y="1047.9"/><use href="#m_ci" x="1050.0" y="1047.8"/><use href="#m_ci" x="1053.9" y="1047.9"/><use href="#m_ci" x="1057.8" y="1047.7"/><use href="#m_ci" x="1061.7" y="1047.9"/><use href="#m_ci" x="1065.6" y="1047.8"/><use href="#m_ci" x="1069.5" y="1048.2"/><use href="#m_ci" x="1073.3" y="1048.0"/><use href="#m_ci" x="1077.2" y="1047.2"/><use href="#m_ci" x="1081.1" y="1048.0"/><use href="#m_ci" x="1085.0" y="1048.2"/><use href="#m_ci" x="1088.9" y="1047.7"/><use href="#m_ci" x="1092.8" y="1047.4"/><use href="#m_ci" x="1096.6" y="1048.3"/><use href="#m_ci" x="1100.5" y="1047.9"/><use href="#m_ci" x="1104.4" y="1048.1"/><use href="#m_ci" x="1108.3" y="1048.5"/><use href="#m_ci" x="1112.2" y="1047.6"/><use href="#m_ci" x="1116.1" y="1047.9"/><use href="#m_ci" x="1119.9" y="1047.9"/><use href="#m_ci" x="1123.8" y="1048.2"/><use href="#m_ci" x="1127.7" y="1047.8"/><use href="#m_ci" x="1131.6" y="1048.1"/><use href="#m_ci" x="1135.5" y="1048.0"/><use href="#m_ci" x="1139.4" y="1048.3"/><use href="#m_ci" x="1143.2" y="1048.4"/><use href="#m_ci" x="1147.1" y="1047.6"/><use href="#m_ci" x="1151.0" y="1048.2"/><use href="#m_ci" x="1154.9" y="1047.9"/><use href="#m_ci" x="1158.8" y="1048.1"/><use href="#m_ci" x="1162.7" y="1048.2"/><use href="#m_ci" x="1166.5" y="1048.2"/><use href="#m_ci" x="1170.4" y="1047.9"/><use href="#m_ci" x="1174.3" y="1048.2"/><use href="#m_ci" x="1178.2" y="1048.2"/><use href="#m_ci" x="1182.1" y="1048.1"/><use href="#m_ci" x="1186.0" y="1047.7"/><use href="#m_ci" x="1189.8" y="1047.9"/><use href="#m_ci" x="1193.7" y="1048.0"/><use href="#m_ci" x="1197.6" y="1048.4"/><use href="#m_ci" x="1201.5" y="1048.6"/><use href="#m_ci" x="1205.4" y="1047.9"/><use href="#m_ci" x="1209.3" y="1047.9"/><use href="#m_ci" x="1213.1" y="1048.3"/><use href="#m_ci" x="1217.0" y="1048.1"/><use href="#m_ci" x="1220.9" y="1048.0"/><use href="#m_ci" x="1224.8" y="1048.0"/><use href="#m_ci" x="1228.7" y="1048.0"/><use href="#m_ci" x="1232.6" y="1048.4"/><use href="#m_ci" x="1236.4" y="1047.8"/><use href="#m_ci" x="1240.3" y="1048.7"/><use href="#m_ci" x="1244.2" y="1048.0"/><use href="#m_ci" x="1248.1" y="1048.2"/><use href="#m_ci" x="1252.0" y="1048.1"/><use href="#m_ci" x="1255.8" y="1047.7"/><use href="#m_ci" x="1259.7" y="1047.9"/><use href="#m_ci" x="1263.6" y="1048.8"/><use href="#m_ci" x="1267.5" y="1049.0"/><use href="#m_ci" x="1271.4" y="1048.1"/><use href="#m_ci" x="1275.3" y="1048.8"/><use href="#m_ci" x="1279.1" y="1048.4"/><use href="#m_ci" x="1283.0" y="1048.2"/><use href="#m_ci" x="1286.9" y="1049.0"/><use href="#m_ci" x="1290.8" y="1049.2"/><use href="#m_ci" x="1294.7" y="1048.4"/><use href="#m_ci" x="1298.6" y="1048.5"/><use href="#m_ci" x="1302.4" y="1048.6"/><use href="#m_ci" x="1306.3" y="1048.5"/><use href="#m_ci" x="1310.2" y="1048.8"/><use href="#m_ci" x="1314.1" y="1049.0"/><use href="#m_ci" x="1318.0" y="1048.6"/><use href="#m_ci" x="1321.9" y="1048.9"/></g>
<polyline points="894.7,877.2 898.6,876.3 902.5,876.6 906.4,876.4 910.3,877.0 914.1,876.9 918.0,877.1 921.9,877.0 925.8,876.6 929.7,877.0 933.6,876.6 937.4,876.6 941.3,875.9 945.2,877.4 949.1,876.5 953.0,876.9 956.9,876.9 960.7,877.5 964.6,877.1 968.5,876.6 972.4,877.0 976.3,876.9 980.2,877.1 984.0,876.5 987.9,877.0 991.8,877.9 995.7,877.3 999.6,877.9 1003.5,878.4 1007.3,877.3 1011.2,876.6 1015.1,877.1 1019.0,877.7 1022.9,877.6 1026.8,876.8 1030.6,877.2 1034.5,877.2 1038.4,877.3 1042.3,877.3 1046.2,877.0 1050.0,877.1 1053.9,877.3 1057.8,877.8 1061.7,877.2 1065.6,877.7 1069.5,877.0 1073.3,878.0 1077.2,877.5 1081.1,877.5 1085.0,878.1 1088.9,876.8 1092.8,877.0 1096.6,877.8 1100.5,877.3 1104.4,877.5 1108.3,878.7 1112.2,877.6 1116.1,877.7 1119.9,877.7 1123.8,878.2 1127.7,877.8 1131.6,877.8 1135.5,877.3 1139.4,877.7 1143.2,877.8 1147.1,877.2 1151.0,878.1 1154.9,878.0 1158.8,878.6 1162.7,877.3 1166.5,877.5 1170.4,877.6 1174.3,877.7 1178.2,878.0 1182.1,877.9 1186.0,878.1 1189.8,878.1 1193.7,878.1 1197.6,877.5 1201.5,877.9 1205.4,878.2 1209.3,878.4 1213.1,878.4 1217.0,877.5 1220.9,878.0 1224.8,878.2 1228.7,878.4 1232.6,878.7 1236.4,878.3 1240.3,878.0 1244.2,878.5 1248.1,878.5 1252.0,878.5 1255.8,878.4 1259.7,879.1 1263.6,878.5 1267.5,878.8 1271.4,878.1 1275.3,878.8 1279.1,878.3 1283.0,877.9 1286.9,878.7 1290.8,878.8 1294.7,878.5 1298.6,878.6 1302.4,879.0 1306.3,878.5 1310.2,877.8 1314.1,878.8 1318.0,878.8 1321.9,879.2" fill="none" stroke="#1f6fdc" stroke-width="1.5" stroke-linejoin="round"/>
<g fill="#1f6fdc"><use href="#m_tu" x="894.7" y="877.2"/><use href="#m_tu" x="898.6" y="876.3"/><use href="#m_tu" x="902.5" y="876.6"/><use href="#m_tu" x="906.4" y="876.4"/><use href="#m_tu" x="910.3" y="877.0"/><use href="#m_tu" x="914.1" y="876.9"/><use href="#m_tu" x="918.0" y="877.1"/><use href="#m_tu" x="921.9" y="877.0"/><use href="#m_tu" x="925.8" y="876.6"/><use href="#m_tu" x="929.7" y="877.0"/><use href="#m_tu" x="933.6" y="876.6"/><use href="#m_tu" x="937.4" y="876.6"/><use href="#m_tu" x="941.3" y="875.9"/><use href="#m_tu" x="945.2" y="877.4"/><use href="#m_tu" x="949.1" y="876.5"/><use href="#m_tu" x="953.0" y="876.9"/><use href="#m_tu" x="956.9" y="876.9"/><use href="#m_tu" x="960.7" y="877.5"/><use href="#m_tu" x="964.6" y="877.1"/><use href="#m_tu" x="968.5" y="876.6"/><use href="#m_tu" x="972.4" y="877.0"/><use href="#m_tu" x="976.3" y="876.9"/><use href="#m_tu" x="980.2" y="877.1"/><use href="#m_tu" x="984.0" y="876.5"/><use href="#m_tu" x="987.9" y="877.0"/><use href="#m_tu" x="991.8" y="877.9"/><use href="#m_tu" x="995.7" y="877.3"/><use href="#m_tu" x="999.6" y="877.9"/><use href="#m_tu" x="1003.5" y="878.4"/><use href="#m_tu" x="1007.3" y="877.3"/><use href="#m_tu" x="1011.2" y="876.6"/><use href="#m_tu" x="1015.1" y="877.1"/><use href="#m_tu" x="1019.0" y="877.7"/><use href="#m_tu" x="1022.9" y="877.6"/><use href="#m_tu" x="1026.8" y="876.8"/><use href="#m_tu" x="1030.6" y="877.2"/><use href="#m_tu" x="1034.5" y="877.2"/><use href="#m_tu" x="1038.4" y="877.3"/><use href="#m_tu" x="1042.3" y="877.3"/><use href="#m_tu" x="1046.2" y="877.0"/><use href="#m_tu" x="1050.0" y="877.1"/><use href="#m_tu" x="1053.9" y="877.3"/><use href="#m_tu" x="1057.8" y="877.8"/><use href="#m_tu" x="1061.7" y="877.2"/><use href="#m_tu" x="1065.6" y="877.7"/><use href="#m_tu" x="1069.5" y="877.0"/><use href="#m_tu" x="1073.3" y="878.0"/><use href="#m_tu" x="1077.2" y="877.5"/><use href="#m_tu" x="1081.1" y="877.5"/><use href="#m_tu" x="1085.0" y="878.1"/><use href="#m_tu" x="1088.9" y="876.8"/><use href="#m_tu" x="1092.8" y="877.0"/><use href="#m_tu" x="1096.6" y="877.8"/><use href="#m_tu" x="1100.5" y="877.3"/><use href="#m_tu" x="1104.4" y="877.5"/><use href="#m_tu" x="1108.3" y="878.7"/><use href="#m_tu" x="1112.2" y="877.6"/><use href="#m_tu" x="1116.1" y="877.7"/><use href="#m_tu" x="1119.9" y="877.7"/><use href="#m_tu" x="1123.8" y="878.2"/><use href="#m_tu" x="1127.7" y="877.8"/><use href="#m_tu" x="1131.6" y="877.8"/><use href="#m_tu" x="1135.5" y="877.3"/><use href="#m_tu" x="1139.4" y="877.7"/><use href="#m_tu" x="1143.2" y="877.8"/><use href="#m_tu" x="1147.1" y="877.2"/><use href="#m_tu" x="1151.0" y="878.1"/><use href="#m_tu" x="1154.9" y="878.0"/><use href="#m_tu" x="1158.8" y="878.6"/><use href="#m_tu" x="1162.7" y="877.3"/><use href="#m_tu" x="1166.5" y="877.5"/><use href="#m_tu" x="1170.4" y="877.6"/><use href="#m_tu" x="1174.3" y="877.7"/><use href="#m_tu" x="1178.2" y="878.0"/><use href="#m_tu" x="1182.1" y="877.9"/><use href="#m_tu" x="1186.0" y="878.1"/><use href="#m_tu" x="1189.8" y="878.1"/><use href="#m_tu" x="1193.7" y="878.1"/><use href="#m_tu" x="1197.6" y="877.5"/><use href="#m_tu" x="1201.5" y="877.9"/><use href="#m_tu" x="1205.4" y="878.2"/><use href="#m_tu" x="1209.3" y="878.4"/><use href="#m_tu" x="1213.1" y="878.4"/><use href="#m_tu" x="1217.0" y="877.5"/><use href="#m_tu" x="1220.9" y="878.0"/><use href="#m_tu" x="1224.8" y="878.2"/><use href="#m_tu" x="1228.7" y="878.4"/><use href="#m_tu" x="1232.6" y="878.7"/><use href="#m_tu" x="1236.4" y="878.3"/><use href="#m_tu" x="1240.3" y="878.0"/><use href="#m_tu" x="1244.2" y="878.5"/><use href="#m_tu" x="1248.1" y="878.5"/><use href="#m_tu" x="1252.0" y="878.5"/><use href="#m_tu" x="1255.8" y="878.4"/><use href="#m_tu" x="1259.7" y="879.1"/><use href="#m_tu" x="1263.6" y="878.5"/><use href="#m_tu" x="1267.5" y="878.8"/><use href="#m_tu" x="1271.4" y="878.1"/><use href="#m_tu" x="1275.3" y="878.8"/><use href="#m_tu" x="1279.1" y="878.3"/><use href="#m_tu" x="1283.0" y="877.9"/><use href="#m_tu" x="1286.9" y="878.7"/><use href="#m_tu" x="1290.8" y="878.8"/><use href="#m_tu" x="1294.7" y="878.5"/><use href="#m_tu" x="1298.6" y="878.6"/><use href="#m_tu" x="1302.4" y="879.0"/><use href="#m_tu" x="1306.3" y="878.5"/><use href="#m_tu" x="1310.2" y="877.8"/><use href="#m_tu" x="1314.1" y="878.8"/><use href="#m_tu" x="1318.0" y="878.8"/><use href="#m_tu" x="1321.9" y="879.2"/></g>
<polyline points="894.7,695.2 898.6,696.4 902.5,696.4 906.4,694.8 910.3,696.4 914.1,695.1 918.0,694.9 921.9,695.9 925.8,695.8 929.7,694.9 933.6,696.5 937.4,696.8 941.3,697.4 945.2,696.6 949.1,695.7 953.0,696.1 956.9,697.5 960.7,697.5 964.6,697.4 968.5,696.9 972.4,697.4 976.3,697.2 980.2,697.2 984.0,697.7 987.9,697.6 991.8,697.5 995.7,697.8 999.6,697.5 1003.5,696.7 1007.3,697.6 1011.2,698.1 1015.1,699.4 1019.0,698.0 1022.9,699.7 1026.8,699.5 1030.6,698.0 1034.5,698.2 1038.4,698.9 1042.3,700.0 1046.2,699.2 1050.0,699.5 1053.9,698.7 1057.8,697.7 1061.7,699.1 1065.6,699.9 1069.5,700.3 1073.3,699.6 1077.2,699.8 1081.1,700.5 1085.0,699.8 1088.9,700.7 1092.8,699.3 1096.6,699.4 1100.5,699.4 1104.4,700.6 1108.3,700.0 1112.2,700.6 1116.1,700.8 1119.9,700.9 1123.8,701.6 1127.7,701.8 1131.6,700.4 1135.5,701.1 1139.4,700.9 1143.2,700.5 1147.1,702.5 1151.0,701.9 1154.9,701.3 1158.8,701.3 1162.7,701.9 1166.5,701.0 1170.4,701.7 1174.3,702.7 1178.2,702.6 1182.1,701.5 1186.0,701.9 1189.8,703.6 1193.7,701.4 1197.6,702.0 1201.5,701.6 1205.4,702.9 1209.3,702.9 1213.1,703.6 1217.0,701.2 1220.9,703.1 1224.8,702.0 1228.7,703.6 1232.6,703.1 1236.4,704.5 1240.3,703.7 1244.2,702.9 1248.1,704.5 1252.0,703.0 1255.8,703.6 1259.7,704.6 1263.6,704.3 1267.5,704.4 1271.4,704.2 1275.3,704.6 1279.1,704.9 1283.0,704.6 1286.9,705.2 1290.8,705.5 1294.7,704.7 1298.6,704.2 1302.4,705.9 1306.3,705.0 1310.2,705.5 1314.1,705.8 1318.0,704.7 1321.9,705.7" fill="none" stroke="#38b06b" stroke-width="1.5" stroke-linejoin="round"/>
<g fill="#38b06b"><use href="#m_td" x="894.7" y="695.2"/><use href="#m_td" x="898.6" y="696.4"/><use href="#m_td" x="902.5" y="696.4"/><use href="#m_td" x="906.4" y="694.8"/><use href="#m_td" x="910.3" y="696.4"/><use href="#m_td" x="914.1" y="695.1"/><use href="#m_td" x="918.0" y="694.9"/><use href="#m_td" x="921.9" y="695.9"/><use href="#m_td" x="925.8" y="695.8"/><use href="#m_td" x="929.7" y="694.9"/><use href="#m_td" x="933.6" y="696.5"/><use href="#m_td" x="937.4" y="696.8"/><use href="#m_td" x="941.3" y="697.4"/><use href="#m_td" x="945.2" y="696.6"/><use href="#m_td" x="949.1" y="695.7"/><use href="#m_td" x="953.0" y="696.1"/><use href="#m_td" x="956.9" y="697.5"/><use href="#m_td" x="960.7" y="697.5"/><use href="#m_td" x="964.6" y="697.4"/><use href="#m_td" x="968.5" y="696.9"/><use href="#m_td" x="972.4" y="697.4"/><use href="#m_td" x="976.3" y="697.2"/><use href="#m_td" x="980.2" y="697.2"/><use href="#m_td" x="984.0" y="697.7"/><use href="#m_td" x="987.9" y="697.6"/><use href="#m_td" x="991.8" y="697.5"/><use href="#m_td" x="995.7" y="697.8"/><use href="#m_td" x="999.6" y="697.5"/><use href="#m_td" x="1003.5" y="696.7"/><use href="#m_td" x="1007.3" y="697.6"/><use href="#m_td" x="1011.2" y="698.1"/><use href="#m_td" x="1015.1" y="699.4"/><use href="#m_td" x="1019.0" y="698.0"/><use href="#m_td" x="1022.9" y="699.7"/><use href="#m_td" x="1026.8" y="699.5"/><use href="#m_td" x="1030.6" y="698.0"/><use href="#m_td" x="1034.5" y="698.2"/><use href="#m_td" x="1038.4" y="698.9"/><use href="#m_td" x="1042.3" y="700.0"/><use href="#m_td" x="1046.2" y="699.2"/><use href="#m_td" x="1050.0" y="699.5"/><use href="#m_td" x="1053.9" y="698.7"/><use href="#m_td" x="1057.8" y="697.7"/><use href="#m_td" x="1061.7" y="699.1"/><use href="#m_td" x="1065.6" y="699.9"/><use href="#m_td" x="1069.5" y="700.3"/><use href="#m_td" x="1073.3" y="699.6"/><use href="#m_td" x="1077.2" y="699.8"/><use href="#m_td" x="1081.1" y="700.5"/><use href="#m_td" x="1085.0" y="699.8"/><use href="#m_td" x="1088.9" y="700.7"/><use href="#m_td" x="1092.8" y="699.3"/><use href="#m_td" x="1096.6" y="699.4"/><use href="#m_td" x="1100.5" y="699.4"/><use href="#m_td" x="1104.4" y="700.6"/><use href="#m_td" x="1108.3" y="700.0"/><use href="#m_td" x="1112.2" y="700.6"/><use href="#m_td" x="1116.1" y="700.8"/><use href="#m_td" x="1119.9" y="700.9"/><use href="#m_td" x="1123.8" y="701.6"/><use href="#m_td" x="1127.7" y="701.8"/><use href="#m_td" x="1131.6" y="700.4"/><use href="#m_td" x="1135.5" y="701.1"/><use href="#m_td" x="1139.4" y="700.9"/><use href="#m_td" x="1143.2" y="700.5"/><use href="#m_td" x="1147.1" y="702.5"/><use href="#m_td" x="1151.0" y="701.9"/><use href="#m_td" x="1154.9" y="701.3"/><use href="#m_td" x="1158.8" y="701.3"/><use href="#m_td" x="1162.7" y="701.9"/><use href="#m_td" x="1166.5" y="701.0"/><use href="#m_td" x="1170.4" y="701.7"/><use href="#m_td" x="1174.3" y="702.7"/><use href="#m_td" x="1178.2" y="702.6"/><use href="#m_td" x="1182.1" y="701.5"/><use href="#m_td" x="1186.0" y="701.9"/><use href="#m_td" x="1189.8" y="703.6"/><use href="#m_td" x="1193.7" y="701.4"/><use href="#m_td" x="1197.6" y="702.0"/><use href="#m_td" x="1201.5" y="701.6"/><use href="#m_td" x="1205.4" y="702.9"/><use href="#m_td" x="1209.3" y="702.9"/><use href="#m_td" x="1213.1" y="703.6"/><use href="#m_td" x="1217.0" y="701.2"/><use href="#m_td" x="1220.9" y="703.1"/><use href="#m_td" x="1224.8" y="702.0"/><use href="#m_td" x="1228.7" y="703.6"/><use href="#m_td" x="1232.6" y="703.1"/><use href="#m_td" x="1236.4" y="704.5"/><use href="#m_td" x="1240.3" y="703.7"/><use href="#m_td" x="1244.2" y="702.9"/><use href="#m_td" x="1248.1" y="704.5"/><use href="#m_td" x="1252.0" y="703.0"/><use href="#m_td" x="1255.8" y="703.6"/><use href="#m_td" x="1259.7" y="704.6"/><use href="#m_td" x="1263.6" y="704.3"/><use href="#m_td" x="1267.5" y="704.4"/><use href="#m_td" x="1271.4" y="704.2"/><use href="#m_td" x="1275.3" y="704.6"/><use href="#m_td" x="1279.1" y="704.9"/><use href="#m_td" x="1283.0" y="704.6"/><use href="#m_td" x="1286.9" y="705.2"/><use href="#m_td" x="1290.8" y="705.5"/><use href="#m_td" x="1294.7" y="704.7"/><use href="#m_td" x="1298.6" y="704.2"/><use href="#m_td" x="1302.4" y="705.9"/><use href="#m_td" x="1306.3" y="705.0"/><use href="#m_td" x="1310.2" y="705.5"/><use href="#m_td" x="1314.1" y="705.8"/><use href="#m_td" x="1318.0" y="704.7"/><use href="#m_td" x="1321.9" y="705.7"/></g>
<line x1="1205" y1="738.8" x2="1248" y2="738.8" stroke="#555555" stroke-width="1.6"/>
<g fill="#555555"><use href="#m_sq" x="1226.5" y="738.8"/></g>
<text x="1257.3" y="751.2" font-size="36">273 K</text>
<line x1="1205" y1="768.4" x2="1248" y2="768.4" stroke="#ef4044" stroke-width="1.6"/>
<g fill="#ef4044"><use href="#m_ci" x="1226.5" y="768.4"/></g>
<text x="1257.3" y="780.8" font-size="36">293 K</text>
<line x1="1205" y1="798.2" x2="1248" y2="798.2" stroke="#1f6fdc" stroke-width="1.6"/>
<g fill="#1f6fdc"><use href="#m_tu" x="1226.5" y="798.2"/></g>
<text x="1257.8" y="810.6" font-size="36">313 K</text>
<line x1="1205" y1="826.9" x2="1248" y2="826.9" stroke="#38b06b" stroke-width="1.6"/>
<g fill="#38b06b"><use href="#m_td" x="1226.5" y="826.9"/></g>
<text x="1257.8" y="839.3" font-size="36">333 K</text>
<rect x="1568.7" y="675.7" width="504.6" height="412.4" fill="none" stroke="#1c1c1c" stroke-width="2.3"/>
<path d="M1602.1 1088.1v-7.5M1674.7 1088.1v-7.5M1747.3 1088.1v-7.5M1819.9 1088.1v-7.5M1892.5 1088.1v-7.5M1965.1 1088.1v-7.5M2037.7 1088.1v-7.5" stroke="#1c1c1c" stroke-width="2" fill="none"/>
<path d="M1638.4 1088.1v-3.6M1711.0 1088.1v-3.6M1783.6 1088.1v-3.6M1856.2 1088.1v-3.6M1928.8 1088.1v-3.6M2001.4 1088.1v-3.6" stroke="#1c1c1c" stroke-width="2" fill="none"/>
<path d="M1568.7 1088.1h6.9M1568.7 1050.6h6.9M1568.7 1013.1h6.9M1568.7 975.5h6.9M1568.7 938.0h6.9M1568.7 900.5h6.9M1568.7 863.0h6.9M1568.7 825.5h6.9M1568.7 787.9h6.9M1568.7 750.4h6.9M1568.7 712.9h6.9M1568.7 675.4h6.9" stroke="#1c1c1c" stroke-width="2" fill="none"/>
<path d="M1568.7 1076.8h3.8M1568.7 1070.2h3.8M1568.7 1065.5h3.8M1568.7 1061.9h3.8M1568.7 1058.9h3.8M1568.7 1056.4h3.8M1568.7 1054.2h3.8M1568.7 1052.3h3.8M1568.7 1039.3h3.8M1568.7 1032.7h3.8M1568.7 1028.0h3.8M1568.7 1024.4h3.8M1568.7 1021.4h3.8M1568.7 1018.9h3.8M1568.7 1016.7h3.8M1568.7 1014.8h3.8M1568.7 1001.8h3.8M1568.7 995.2h3.8M1568.7 990.5h3.8M1568.7 986.8h3.8M1568.7 983.9h3.8M1568.7 981.4h3.8M1568.7 979.2h3.8M1568.7 977.3h3.8M1568.7 964.2h3.8M1568.7 957.6h3.8M1568.7 953.0h3.8M1568.7 949.3h3.8M1568.7 946.3h3.8M1568.7 943.8h3.8M1568.7 941.7h3.8M1568.7 939.7h3.8M1568.7 926.7h3.8M1568.7 920.1h3.8M1568.7 915.4h3.8M1568.7 911.8h3.8M1568.7 908.8h3.8M1568.7 906.3h3.8M1568.7 904.1h3.8M1568.7 902.2h3.8M1568.7 889.2h3.8M1568.7 882.6h3.8M1568.7 877.9h3.8M1568.7 874.3h3.8M1568.7 871.3h3.8M1568.7 868.8h3.8M1568.7 866.6h3.8M1568.7 864.7h3.8M1568.7 851.7h3.8M1568.7 845.1h3.8M1568.7 840.4h3.8M1568.7 836.8h3.8M1568.7 833.8h3.8M1568.7 831.3h3.8M1568.7 829.1h3.8M1568.7 827.2h3.8M1568.7 814.2h3.8M1568.7 807.6h3.8M1568.7 802.9h3.8M1568.7 799.2h3.8M1568.7 796.3h3.8M1568.7 793.8h3.8M1568.7 791.6h3.8M1568.7 789.7h3.8M1568.7 776.6h3.8M1568.7 770.0h3.8M1568.7 765.4h3.8M1568.7 761.7h3.8M1568.7 758.7h3.8M1568.7 756.2h3.8M1568.7 754.1h3.8M1568.7 752.1h3.8M1568.7 739.1h3.8M1568.7 732.5h3.8M1568.7 727.8h3.8M1568.7 724.2h3.8M1568.7 721.2h3.8M1568.7 718.7h3.8M1568.7 716.5h3.8M1568.7 714.6h3.8M1568.7 701.6h3.8M1568.7 695.0h3.8M1568.7 690.3h3.8M1568.7 686.7h3.8M1568.7 683.7h3.8M1568.7 681.2h3.8M1568.7 679.0h3.8M1568.7 677.1h3.8" stroke="#1c1c1c" stroke-width="1.6" fill="none"/>
<text x="1553.80" y="722.10" font-size="36" text-anchor="end">10<tspan font-size="21" dy="-12.2">−4</tspan></text>
<text x="1553.80" y="797.14" font-size="36" text-anchor="end">10<tspan font-size="21" dy="-12.2">−6</tspan></text>
<text x="1553.80" y="872.18" font-size="36" text-anchor="end">10<tspan font-size="21" dy="-12.2">−8</tspan></text>
<text x="1553.80" y="947.22" font-size="36" text-anchor="end">10<tspan font-size="21" dy="-12.2">−10</tspan></text>
<text x="1553.80" y="1022.26" font-size="36" text-anchor="end">10<tspan font-size="21" dy="-12.2">−12</tspan></text>
<text x="1553.80" y="1097.30" font-size="36" text-anchor="end">10<tspan font-size="21" dy="-12.2">−14</tspan></text>
<text x="1571.60" y="1130.15" font-size="36">−10</text>
<text x="1653.95" y="1129.65" font-size="36">−5</text>
<text x="1737.30" y="1130.15" font-size="36">0</text>
<text x="1809.77" y="1129.65" font-size="36">5</text>
<text x="1872.12" y="1130.15" font-size="36">10</text>
<text x="1944.47" y="1129.65" font-size="36">15</text>
<text x="2017.82" y="1130.15" font-size="36">20</text>
<text x="1820.0" y="1170.0" font-size="36" text-anchor="middle"><tspan font-style="italic">V</tspan><tspan font-size="22" font-style="italic" dy="7">G</tspan><tspan dy="-7">/V</tspan></text>
<text transform="translate(1460.5 889.0) rotate(-90)" font-size="36" text-anchor="middle"><tspan font-style="italic">I</tspan><tspan font-size="22" font-style="italic" dy="7">D</tspan><tspan dy="-7">/A</tspan></text>
<text x="1866" y="882" font-size="35"><tspan font-style="italic">V</tspan><tspan font-size="22" font-style="italic" dy="7">DS</tspan><tspan dy="-7">=10 V</tspan></text>
<polyline points="1602.1,944.1 1605.0,947.7 1607.9,942.0 1610.8,943.6 1613.7,939.2 1616.6,957.9 1619.5,957.4 1622.4,953.7 1625.3,962.4 1628.2,966.3 1631.1,960.3 1634.0,972.6 1636.9,979.2 1639.9,982.8 1642.8,977.8 1645.7,979.8 1648.6,988.8 1651.5,988.3 1654.4,982.5 1657.3,983.3 1660.2,989.7 1663.1,984.8 1666.0,985.8 1668.9,997.1 1671.8,991.2 1674.7,988.7 1677.6,993.8 1680.5,1001.5 1683.4,993.7 1686.3,989.9 1689.2,987.2 1692.1,1006.5 1695.0,988.7 1697.9,1009.7 1700.8,1003.6 1703.7,1003.8 1706.6,1004.9 1709.5,1008.6 1712.5,1020.6 1715.4,1006.5 1718.3,1012.5 1721.2,1020.4 1724.1,995.6 1727.0,1004.2 1729.9,1028.1 1732.8,1009.7 1735.7,998.2 1738.6,997.0 1741.5,996.5 1744.4,1055.8 1747.3,1007.2 1750.2,1001.3 1753.1,1008.8 1756.0,1005.0 1758.9,995.6 1761.8,1033.3 1764.7,993.0 1767.6,989.7 1770.5,978.8 1773.4,953.0 1776.3,928.0 1779.2,909.8 1782.1,896.7 1785.1,886.7 1788.0,878.6 1790.9,872.2 1793.8,866.3 1796.7,859.5 1799.6,852.2 1802.5,845.0 1805.4,836.7 1808.3,830.5 1811.2,824.7 1814.1,819.3 1817.0,814.5 1819.9,810.6 1822.8,807.3 1825.7,804.1 1828.6,800.7 1831.5,798.4 1834.4,795.4 1837.3,791.9 1840.2,789.9 1843.1,787.0 1846.0,784.3 1848.9,782.1 1851.8,779.9 1854.7,776.7 1857.7,774.9 1860.6,773.0 1863.5,770.4 1866.4,768.4 1869.3,766.9 1872.2,764.6 1875.1,762.8 1878.0,761.8 1880.9,759.5 1883.8,758.0 1886.7,756.7 1889.6,755.8 1892.5,754.0 1895.4,752.6 1898.3,751.3 1901.2,750.6 1904.1,748.7 1907.0,748.3 1909.9,746.8 1912.8,745.1 1915.7,744.8 1918.6,743.7 1921.5,742.1 1924.4,741.7 1927.3,740.7 1930.3,739.6 1933.2,738.3 1936.1,738.7 1939.0,737.3 1941.9,736.5 1944.8,735.7 1947.7,734.8 1950.6,734.0 1953.5,732.7 1956.4,732.4 1959.3,731.3 1962.2,730.4 1965.1,730.1 1968.0,729.0 1970.9,727.7 1973.8,727.5 1976.7,727.1 1979.6,726.2 1982.5,725.8 1985.4,724.7 1988.3,723.8 1991.2,723.8 1994.1,722.9 1997.0,721.7 1999.9,721.7 2002.9,720.8 2005.8,720.7 2008.7,720.1 2011.6,719.4 2014.5,717.8 2017.4,718.2 2020.3,717.8 2023.2,717.3 2026.1,716.6 2029.0,715.8 2031.9,715.6 2034.8,714.4 2037.7,714.7" fill="none" stroke="#444444" stroke-width="1.1" stroke-linejoin="round"/>
<g fill="#000000"><use href="#m_sq" transform="translate(1602.1 944.1) scale(0.95)"/><use href="#m_sq" transform="translate(1605.0 947.7) scale(0.95)"/><use href="#m_sq" transform="translate(1607.9 942.0) scale(0.95)"/><use href="#m_sq" transform="translate(1610.8 943.6) scale(0.95)"/><use href="#m_sq" transform="translate(1613.7 939.2) scale(0.95)"/><use href="#m_sq" transform="translate(1616.6 957.9) scale(0.95)"/><use href="#m_sq" transform="translate(1619.5 957.4) scale(0.95)"/><use href="#m_sq" transform="translate(1622.4 953.7) scale(0.95)"/><use href="#m_sq" transform="translate(1625.3 962.4) scale(0.95)"/><use href="#m_sq" transform="translate(1628.2 966.3) scale(0.95)"/><use href="#m_sq" transform="translate(1631.1 960.3) scale(0.95)"/><use href="#m_sq" transform="translate(1634.0 972.6) scale(0.95)"/><use href="#m_sq" transform="translate(1636.9 979.2) scale(0.95)"/><use href="#m_sq" transform="translate(1639.9 982.8) scale(0.95)"/><use href="#m_sq" transform="translate(1642.8 977.8) scale(0.95)"/><use href="#m_sq" transform="translate(1645.7 979.8) scale(0.95)"/><use href="#m_sq" transform="translate(1648.6 988.8) scale(0.95)"/><use href="#m_sq" transform="translate(1651.5 988.3) scale(0.95)"/><use href="#m_sq" transform="translate(1654.4 982.5) scale(0.95)"/><use href="#m_sq" transform="translate(1657.3 983.3) scale(0.95)"/><use href="#m_sq" transform="translate(1660.2 989.7) scale(0.95)"/><use href="#m_sq" transform="translate(1663.1 984.8) scale(0.95)"/><use href="#m_sq" transform="translate(1666.0 985.8) scale(0.95)"/><use href="#m_sq" transform="translate(1668.9 997.1) scale(0.95)"/><use href="#m_sq" transform="translate(1671.8 991.2) scale(0.95)"/><use href="#m_sq" transform="translate(1674.7 988.7) scale(0.95)"/><use href="#m_sq" transform="translate(1677.6 993.8) scale(0.95)"/><use href="#m_sq" transform="translate(1680.5 1001.5) scale(0.95)"/><use href="#m_sq" transform="translate(1683.4 993.7) scale(0.95)"/><use href="#m_sq" transform="translate(1686.3 989.9) scale(0.95)"/><use href="#m_sq" transform="translate(1689.2 987.2) scale(0.95)"/><use href="#m_sq" transform="translate(1692.1 1006.5) scale(0.95)"/><use href="#m_sq" transform="translate(1695.0 988.7) scale(0.95)"/><use href="#m_sq" transform="translate(1697.9 1009.7) scale(0.95)"/><use href="#m_sq" transform="translate(1700.8 1003.6) scale(0.95)"/><use href="#m_sq" transform="translate(1703.7 1003.8) scale(0.95)"/><use href="#m_sq" transform="translate(1706.6 1004.9) scale(0.95)"/><use href="#m_sq" transform="translate(1709.5 1008.6) scale(0.95)"/><use href="#m_sq" transform="translate(1712.5 1020.6) scale(0.95)"/><use href="#m_sq" transform="translate(1715.4 1006.5) scale(0.95)"/><use href="#m_sq" transform="translate(1718.3 1012.5) scale(0.95)"/><use href="#m_sq" transform="translate(1721.2 1020.4) scale(0.95)"/><use href="#m_sq" transform="translate(1724.1 995.6) scale(0.95)"/><use href="#m_sq" transform="translate(1727.0 1004.2) scale(0.95)"/><use href="#m_sq" transform="translate(1729.9 1028.1) scale(0.95)"/><use href="#m_sq" transform="translate(1732.8 1009.7) scale(0.95)"/><use href="#m_sq" transform="translate(1735.7 998.2) scale(0.95)"/><use href="#m_sq" transform="translate(1738.6 997.0) scale(0.95)"/><use href="#m_sq" transform="translate(1741.5 996.5) scale(0.95)"/><use href="#m_sq" transform="translate(1744.4 1055.8) scale(0.95)"/><use href="#m_sq" transform="translate(1747.3 1007.2) scale(0.95)"/><use href="#m_sq" transform="translate(1750.2 1001.3) scale(0.95)"/><use href="#m_sq" transform="translate(1753.1 1008.8) scale(0.95)"/><use href="#m_sq" transform="translate(1756.0 1005.0) scale(0.95)"/><use href="#m_sq" transform="translate(1758.9 995.6) scale(0.95)"/><use href="#m_sq" transform="translate(1761.8 1033.3) scale(0.95)"/><use href="#m_sq" transform="translate(1764.7 993.0) scale(0.95)"/><use href="#m_sq" transform="translate(1767.6 989.7) scale(0.95)"/><use href="#m_sq" transform="translate(1770.5 978.8) scale(0.95)"/><use href="#m_sq" transform="translate(1773.4 953.0) scale(0.95)"/><use href="#m_sq" transform="translate(1776.3 928.0) scale(0.95)"/><use href="#m_sq" transform="translate(1779.2 909.8) scale(0.95)"/><use href="#m_sq" transform="translate(1782.1 896.7) scale(0.95)"/><use href="#m_sq" transform="translate(1785.1 886.7) scale(0.95)"/><use href="#m_sq" transform="translate(1788.0 878.6) scale(0.95)"/><use href="#m_sq" transform="translate(1790.9 872.2) scale(0.95)"/><use href="#m_sq" transform="translate(1793.8 866.3) scale(0.95)"/><use href="#m_sq" transform="translate(1796.7 859.5) scale(0.95)"/><use href="#m_sq" transform="translate(1799.6 852.2) scale(0.95)"/><use href="#m_sq" transform="translate(1802.5 845.0) scale(0.95)"/><use href="#m_sq" transform="translate(1805.4 836.7) scale(0.95)"/><use href="#m_sq" transform="translate(1808.3 830.5) scale(0.95)"/><use href="#m_sq" transform="translate(1811.2 824.7) scale(0.95)"/><use href="#m_sq" transform="translate(1814.1 819.3) scale(0.95)"/><use href="#m_sq" transform="translate(1817.0 814.5) scale(0.95)"/><use href="#m_sq" transform="translate(1819.9 810.6) scale(0.95)"/><use href="#m_sq" transform="translate(1822.8 807.3) scale(0.95)"/><use href="#m_sq" transform="translate(1825.7 804.1) scale(0.95)"/><use href="#m_sq" transform="translate(1828.6 800.7) scale(0.95)"/><use href="#m_sq" transform="translate(1831.5 798.4) scale(0.95)"/><use href="#m_sq" transform="translate(1834.4 795.4) scale(0.95)"/><use href="#m_sq" transform="translate(1837.3 791.9) scale(0.95)"/><use href="#m_sq" transform="translate(1840.2 789.9) scale(0.95)"/><use href="#m_sq" transform="translate(1843.1 787.0) scale(0.95)"/><use href="#m_sq" transform="translate(1846.0 784.3) scale(0.95)"/><use href="#m_sq" transform="translate(1848.9 782.1) scale(0.95)"/><use href="#m_sq" transform="translate(1851.8 779.9) scale(0.95)"/><use href="#m_sq" transform="translate(1854.7 776.7) scale(0.95)"/><use href="#m_sq" transform="translate(1857.7 774.9) scale(0.95)"/><use href="#m_sq" transform="translate(1860.6 773.0) scale(0.95)"/><use href="#m_sq" transform="translate(1863.5 770.4) scale(0.95)"/><use href="#m_sq" transform="translate(1866.4 768.4) scale(0.95)"/><use href="#m_sq" transform="translate(1869.3 766.9) scale(0.95)"/><use href="#m_sq" transform="translate(1872.2 764.6) scale(0.95)"/><use href="#m_sq" transform="translate(1875.1 762.8) scale(0.95)"/><use href="#m_sq" transform="translate(1878.0 761.8) scale(0.95)"/><use href="#m_sq" transform="translate(1880.9 759.5) scale(0.95)"/><use href="#m_sq" transform="translate(1883.8 758.0) scale(0.95)"/><use href="#m_sq" transform="translate(1886.7 756.7) scale(0.95)"/><use href="#m_sq" transform="translate(1889.6 755.8) scale(0.95)"/><use href="#m_sq" transform="translate(1892.5 754.0) scale(0.95)"/><use href="#m_sq" transform="translate(1895.4 752.6) scale(0.95)"/><use href="#m_sq" transform="translate(1898.3 751.3) scale(0.95)"/><use href="#m_sq" transform="translate(1901.2 750.6) scale(0.95)"/><use href="#m_sq" transform="translate(1904.1 748.7) scale(0.95)"/><use href="#m_sq" transform="translate(1907.0 748.3) scale(0.95)"/><use href="#m_sq" transform="translate(1909.9 746.8) scale(0.95)"/><use href="#m_sq" transform="translate(1912.8 745.1) scale(0.95)"/><use href="#m_sq" transform="translate(1915.7 744.8) scale(0.95)"/><use href="#m_sq" transform="translate(1918.6 743.7) scale(0.95)"/><use href="#m_sq" transform="translate(1921.5 742.1) scale(0.95)"/><use href="#m_sq" transform="translate(1924.4 741.7) scale(0.95)"/><use href="#m_sq" transform="translate(1927.3 740.7) scale(0.95)"/><use href="#m_sq" transform="translate(1930.3 739.6) scale(0.95)"/><use href="#m_sq" transform="translate(1933.2 738.3) scale(0.95)"/><use href="#m_sq" transform="translate(1936.1 738.7) scale(0.95)"/><use href="#m_sq" transform="translate(1939.0 737.3) scale(0.95)"/><use href="#m_sq" transform="translate(1941.9 736.5) scale(0.95)"/><use href="#m_sq" transform="translate(1944.8 735.7) scale(0.95)"/><use href="#m_sq" transform="translate(1947.7 734.8) scale(0.95)"/><use href="#m_sq" transform="translate(1950.6 734.0) scale(0.95)"/><use href="#m_sq" transform="translate(1953.5 732.7) scale(0.95)"/><use href="#m_sq" transform="translate(1956.4 732.4) scale(0.95)"/><use href="#m_sq" transform="translate(1959.3 731.3) scale(0.95)"/><use href="#m_sq" transform="translate(1962.2 730.4) scale(0.95)"/><use href="#m_sq" transform="translate(1965.1 730.1) scale(0.95)"/><use href="#m_sq" transform="translate(1968.0 729.0) scale(0.95)"/><use href="#m_sq" transform="translate(1970.9 727.7) scale(0.95)"/><use href="#m_sq" transform="translate(1973.8 727.5) scale(0.95)"/><use href="#m_sq" transform="translate(1976.7 727.1) scale(0.95)"/><use href="#m_sq" transform="translate(1979.6 726.2) scale(0.95)"/><use href="#m_sq" transform="translate(1982.5 725.8) scale(0.95)"/><use href="#m_sq" transform="translate(1985.4 724.7) scale(0.95)"/><use href="#m_sq" transform="translate(1988.3 723.8) scale(0.95)"/><use href="#m_sq" transform="translate(1991.2 723.8) scale(0.95)"/><use href="#m_sq" transform="translate(1994.1 722.9) scale(0.95)"/><use href="#m_sq" transform="translate(1997.0 721.7) scale(0.95)"/><use href="#m_sq" transform="translate(1999.9 721.7) scale(0.95)"/><use href="#m_sq" transform="translate(2002.9 720.8) scale(0.95)"/><use href="#m_sq" transform="translate(2005.8 720.7) scale(0.95)"/><use href="#m_sq" transform="translate(2008.7 720.1) scale(0.95)"/><use href="#m_sq" transform="translate(2011.6 719.4) scale(0.95)"/><use href="#m_sq" transform="translate(2014.5 717.8) scale(0.95)"/><use href="#m_sq" transform="translate(2017.4 718.2) scale(0.95)"/><use href="#m_sq" transform="translate(2020.3 717.8) scale(0.95)"/><use href="#m_sq" transform="translate(2023.2 717.3) scale(0.95)"/><use href="#m_sq" transform="translate(2026.1 716.6) scale(0.95)"/><use href="#m_sq" transform="translate(2029.0 715.8) scale(0.95)"/><use href="#m_sq" transform="translate(2031.9 715.6) scale(0.95)"/><use href="#m_sq" transform="translate(2034.8 714.4) scale(0.95)"/><use href="#m_sq" transform="translate(2037.7 714.7) scale(0.95)"/></g>
<polyline points="1602.1,961.8 1605.0,970.2 1607.9,965.7 1610.8,957.0 1613.7,965.8 1616.6,979.1 1619.5,980.1 1622.4,979.8 1625.3,974.9 1628.2,985.5 1631.1,986.4 1634.0,980.0 1636.9,981.3 1639.9,988.4 1642.8,993.0 1645.7,996.2 1648.6,993.3 1651.5,1002.1 1654.4,988.8 1657.3,996.6 1660.2,992.0 1663.1,985.6 1666.0,989.3 1668.9,1001.0 1671.8,991.4 1674.7,990.5 1677.6,1001.2 1680.5,1004.6 1683.4,1003.1 1686.3,1012.5 1689.2,998.4 1692.1,1015.9 1695.0,1006.3 1697.9,998.4 1700.8,994.9 1703.7,991.6 1706.6,992.7 1709.5,998.9 1712.5,997.0 1715.4,1017.3 1718.3,1009.3 1721.2,1013.9 1724.1,1010.4 1727.0,1009.1 1729.9,1009.6 1732.8,1004.9 1735.7,998.3 1738.6,1001.4 1741.5,1007.6 1744.4,995.2 1747.3,994.3 1750.2,1009.8 1753.1,995.4 1756.0,980.0 1758.9,984.4 1761.8,982.0 1764.7,974.4 1767.6,959.5 1770.5,940.8 1773.4,926.9 1776.3,912.1 1779.2,897.0 1782.1,886.6 1785.1,879.9 1788.0,873.4 1790.9,868.1 1793.8,861.9 1796.7,854.5 1799.6,847.1 1802.5,840.5 1805.4,833.2 1808.3,826.8 1811.2,819.9 1814.1,816.3 1817.0,811.4 1819.9,808.1 1822.8,804.6 1825.7,801.0 1828.6,797.8 1831.5,794.7 1834.4,792.3 1837.3,790.0 1840.2,787.5 1843.1,784.8 1846.0,782.4 1848.9,779.9 1851.8,778.1 1854.7,775.8 1857.7,773.6 1860.6,772.2 1863.5,771.0 1866.4,769.1 1869.3,767.4 1872.2,764.7 1875.1,764.0 1878.0,761.7 1880.9,760.6 1883.8,758.8 1886.7,757.7 1889.6,756.9 1892.5,755.7 1895.4,754.4 1898.3,753.1 1901.2,752.2 1904.1,750.9 1907.0,749.2 1909.9,749.3 1912.8,747.5 1915.7,746.9 1918.6,745.5 1921.5,744.3 1924.4,743.6 1927.3,742.3 1930.3,742.3 1933.2,740.3 1936.1,740.1 1939.0,738.7 1941.9,738.0 1944.8,738.2 1947.7,736.7 1950.6,735.5 1953.5,734.2 1956.4,733.9 1959.3,733.1 1962.2,733.0 1965.1,731.1 1968.0,730.2 1970.9,730.2 1973.8,729.5 1976.7,729.3 1979.6,727.7 1982.5,726.3 1985.4,726.3 1988.3,725.4 1991.2,725.0 1994.1,724.9 1997.0,723.4 1999.9,723.8 2002.9,722.7 2005.8,721.9 2008.7,721.1 2011.6,720.7 2014.5,720.2 2017.4,720.0 2020.3,719.7 2023.2,718.6 2026.1,718.4 2029.0,718.2 2031.9,717.7 2034.8,716.9 2037.7,717.0" fill="none" stroke="#ff3333" stroke-width="1.1" stroke-linejoin="round"/>
<g fill="#ff0000"><use href="#m_ci" transform="translate(1602.1 961.8) scale(0.95)"/><use href="#m_ci" transform="translate(1605.0 970.2) scale(0.95)"/><use href="#m_ci" transform="translate(1607.9 965.7) scale(0.95)"/><use href="#m_ci" transform="translate(1610.8 957.0) scale(0.95)"/><use href="#m_ci" transform="translate(1613.7 965.8) scale(0.95)"/><use href="#m_ci" transform="translate(1616.6 979.1) scale(0.95)"/><use href="#m_ci" transform="translate(1619.5 980.1) scale(0.95)"/><use href="#m_ci" transform="translate(1622.4 979.8) scale(0.95)"/><use href="#m_ci" transform="translate(1625.3 974.9) scale(0.95)"/><use href="#m_ci" transform="translate(1628.2 985.5) scale(0.95)"/><use href="#m_ci" transform="translate(1631.1 986.4) scale(0.95)"/><use href="#m_ci" transform="translate(1634.0 980.0) scale(0.95)"/><use href="#m_ci" transform="translate(1636.9 981.3) scale(0.95)"/><use href="#m_ci" transform="translate(1639.9 988.4) scale(0.95)"/><use href="#m_ci" transform="translate(1642.8 993.0) scale(0.95)"/><use href="#m_ci" transform="translate(1645.7 996.2) scale(0.95)"/><use href="#m_ci" transform="translate(1648.6 993.3) scale(0.95)"/><use href="#m_ci" transform="translate(1651.5 1002.1) scale(0.95)"/><use href="#m_ci" transform="translate(1654.4 988.8) scale(0.95)"/><use href="#m_ci" transform="translate(1657.3 996.6) scale(0.95)"/><use href="#m_ci" transform="translate(1660.2 992.0) scale(0.95)"/><use href="#m_ci" transform="translate(1663.1 985.6) scale(0.95)"/><use href="#m_ci" transform="translate(1666.0 989.3) scale(0.95)"/><use href="#m_ci" transform="translate(1668.9 1001.0) scale(0.95)"/><use href="#m_ci" transform="translate(1671.8 991.4) scale(0.95)"/><use href="#m_ci" transform="translate(1674.7 990.5) scale(0.95)"/><use href="#m_ci" transform="translate(1677.6 1001.2) scale(0.95)"/><use href="#m_ci" transform="translate(1680.5 1004.6) scale(0.95)"/><use href="#m_ci" transform="translate(1683.4 1003.1) scale(0.95)"/><use href="#m_ci" transform="translate(1686.3 1012.5) scale(0.95)"/><use href="#m_ci" transform="translate(1689.2 998.4) scale(0.95)"/><use href="#m_ci" transform="translate(1692.1 1015.9) scale(0.95)"/><use href="#m_ci" transform="translate(1695.0 1006.3) scale(0.95)"/><use href="#m_ci" transform="translate(1697.9 998.4) scale(0.95)"/><use href="#m_ci" transform="translate(1700.8 994.9) scale(0.95)"/><use href="#m_ci" transform="translate(1703.7 991.6) scale(0.95)"/><use href="#m_ci" transform="translate(1706.6 992.7) scale(0.95)"/><use href="#m_ci" transform="translate(1709.5 998.9) scale(0.95)"/><use href="#m_ci" transform="translate(1712.5 997.0) scale(0.95)"/><use href="#m_ci" transform="translate(1715.4 1017.3) scale(0.95)"/><use href="#m_ci" transform="translate(1718.3 1009.3) scale(0.95)"/><use href="#m_ci" transform="translate(1721.2 1013.9) scale(0.95)"/><use href="#m_ci" transform="translate(1724.1 1010.4) scale(0.95)"/><use href="#m_ci" transform="translate(1727.0 1009.1) scale(0.95)"/><use href="#m_ci" transform="translate(1729.9 1009.6) scale(0.95)"/><use href="#m_ci" transform="translate(1732.8 1004.9) scale(0.95)"/><use href="#m_ci" transform="translate(1735.7 998.3) scale(0.95)"/><use href="#m_ci" transform="translate(1738.6 1001.4) scale(0.95)"/><use href="#m_ci" transform="translate(1741.5 1007.6) scale(0.95)"/><use href="#m_ci" transform="translate(1744.4 995.2) scale(0.95)"/><use href="#m_ci" transform="translate(1747.3 994.3) scale(0.95)"/><use href="#m_ci" transform="translate(1750.2 1009.8) scale(0.95)"/><use href="#m_ci" transform="translate(1753.1 995.4) scale(0.95)"/><use href="#m_ci" transform="translate(1756.0 980.0) scale(0.95)"/><use href="#m_ci" transform="translate(1758.9 984.4) scale(0.95)"/><use href="#m_ci" transform="translate(1761.8 982.0) scale(0.95)"/><use href="#m_ci" transform="translate(1764.7 974.4) scale(0.95)"/><use href="#m_ci" transform="translate(1767.6 959.5) scale(0.95)"/><use href="#m_ci" transform="translate(1770.5 940.8) scale(0.95)"/><use href="#m_ci" transform="translate(1773.4 926.9) scale(0.95)"/><use href="#m_ci" transform="translate(1776.3 912.1) scale(0.95)"/><use href="#m_ci" transform="translate(1779.2 897.0) scale(0.95)"/><use href="#m_ci" transform="translate(1782.1 886.6) scale(0.95)"/><use href="#m_ci" transform="translate(1785.1 879.9) scale(0.95)"/><use href="#m_ci" transform="translate(1788.0 873.4) scale(0.95)"/><use href="#m_ci" transform="translate(1790.9 868.1) scale(0.95)"/><use href="#m_ci" transform="translate(1793.8 861.9) scale(0.95)"/><use href="#m_ci" transform="translate(1796.7 854.5) scale(0.95)"/><use href="#m_ci" transform="translate(1799.6 847.1) scale(0.95)"/><use href="#m_ci" transform="translate(1802.5 840.5) scale(0.95)"/><use href="#m_ci" transform="translate(1805.4 833.2) scale(0.95)"/><use href="#m_ci" transform="translate(1808.3 826.8) scale(0.95)"/><use href="#m_ci" transform="translate(1811.2 819.9) scale(0.95)"/><use href="#m_ci" transform="translate(1814.1 816.3) scale(0.95)"/><use href="#m_ci" transform="translate(1817.0 811.4) scale(0.95)"/><use href="#m_ci" transform="translate(1819.9 808.1) scale(0.95)"/><use href="#m_ci" transform="translate(1822.8 804.6) scale(0.95)"/><use href="#m_ci" transform="translate(1825.7 801.0) scale(0.95)"/><use href="#m_ci" transform="translate(1828.6 797.8) scale(0.95)"/><use href="#m_ci" transform="translate(1831.5 794.7) scale(0.95)"/><use href="#m_ci" transform="translate(1834.4 792.3) scale(0.95)"/><use href="#m_ci" transform="translate(1837.3 790.0) scale(0.95)"/><use href="#m_ci" transform="translate(1840.2 787.5) scale(0.95)"/><use href="#m_ci" transform="translate(1843.1 784.8) scale(0.95)"/><use href="#m_ci" transform="translate(1846.0 782.4) scale(0.95)"/><use href="#m_ci" transform="translate(1848.9 779.9) scale(0.95)"/><use href="#m_ci" transform="translate(1851.8 778.1) scale(0.95)"/><use href="#m_ci" transform="translate(1854.7 775.8) scale(0.95)"/><use href="#m_ci" transform="translate(1857.7 773.6) scale(0.95)"/><use href="#m_ci" transform="translate(1860.6 772.2) scale(0.95)"/><use href="#m_ci" transform="translate(1863.5 771.0) scale(0.95)"/><use href="#m_ci" transform="translate(1866.4 769.1) scale(0.95)"/><use href="#m_ci" transform="translate(1869.3 767.4) scale(0.95)"/><use href="#m_ci" transform="translate(1872.2 764.7) scale(0.95)"/><use href="#m_ci" transform="translate(1875.1 764.0) scale(0.95)"/><use href="#m_ci" transform="translate(1878.0 761.7) scale(0.95)"/><use href="#m_ci" transform="translate(1880.9 760.6) scale(0.95)"/><use href="#m_ci" transform="translate(1883.8 758.8) scale(0.95)"/><use href="#m_ci" transform="translate(1886.7 757.7) scale(0.95)"/><use href="#m_ci" transform="translate(1889.6 756.9) scale(0.95)"/><use href="#m_ci" transform="translate(1892.5 755.7) scale(0.95)"/><use href="#m_ci" transform="translate(1895.4 754.4) scale(0.95)"/><use href="#m_ci" transform="translate(1898.3 753.1) scale(0.95)"/><use href="#m_ci" transform="translate(1901.2 752.2) scale(0.95)"/><use href="#m_ci" transform="translate(1904.1 750.9) scale(0.95)"/><use href="#m_ci" transform="translate(1907.0 749.2) scale(0.95)"/><use href="#m_ci" transform="translate(1909.9 749.3) scale(0.95)"/><use href="#m_ci" transform="translate(1912.8 747.5) scale(0.95)"/><use href="#m_ci" transform="translate(1915.7 746.9) scale(0.95)"/><use href="#m_ci" transform="translate(1918.6 745.5) scale(0.95)"/><use href="#m_ci" transform="translate(1921.5 744.3) scale(0.95)"/><use href="#m_ci" transform="translate(1924.4 743.6) scale(0.95)"/><use href="#m_ci" transform="translate(1927.3 742.3) scale(0.95)"/><use href="#m_ci" transform="translate(1930.3 742.3) scale(0.95)"/><use href="#m_ci" transform="translate(1933.2 740.3) scale(0.95)"/><use href="#m_ci" transform="translate(1936.1 740.1) scale(0.95)"/><use href="#m_ci" transform="translate(1939.0 738.7) scale(0.95)"/><use href="#m_ci" transform="translate(1941.9 738.0) scale(0.95)"/><use href="#m_ci" transform="translate(1944.8 738.2) scale(0.95)"/><use href="#m_ci" transform="translate(1947.7 736.7) scale(0.95)"/><use href="#m_ci" transform="translate(1950.6 735.5) scale(0.95)"/><use href="#m_ci" transform="translate(1953.5 734.2) scale(0.95)"/><use href="#m_ci" transform="translate(1956.4 733.9) scale(0.95)"/><use href="#m_ci" transform="translate(1959.3 733.1) scale(0.95)"/><use href="#m_ci" transform="translate(1962.2 733.0) scale(0.95)"/><use href="#m_ci" transform="translate(1965.1 731.1) scale(0.95)"/><use href="#m_ci" transform="translate(1968.0 730.2) scale(0.95)"/><use href="#m_ci" transform="translate(1970.9 730.2) scale(0.95)"/><use href="#m_ci" transform="translate(1973.8 729.5) scale(0.95)"/><use href="#m_ci" transform="translate(1976.7 729.3) scale(0.95)"/><use href="#m_ci" transform="translate(1979.6 727.7) scale(0.95)"/><use href="#m_ci" transform="translate(1982.5 726.3) scale(0.95)"/><use href="#m_ci" transform="translate(1985.4 726.3) scale(0.95)"/><use href="#m_ci" transform="translate(1988.3 725.4) scale(0.95)"/><use href="#m_ci" transform="translate(1991.2 725.0) scale(0.95)"/><use href="#m_ci" transform="translate(1994.1 724.9) scale(0.95)"/><use href="#m_ci" transform="translate(1997.0 723.4) scale(0.95)"/><use href="#m_ci" transform="translate(1999.9 723.8) scale(0.95)"/><use href="#m_ci" transform="translate(2002.9 722.7) scale(0.95)"/><use href="#m_ci" transform="translate(2005.8 721.9) scale(0.95)"/><use href="#m_ci" transform="translate(2008.7 721.1) scale(0.95)"/><use href="#m_ci" transform="translate(2011.6 720.7) scale(0.95)"/><use href="#m_ci" transform="translate(2014.5 720.2) scale(0.95)"/><use href="#m_ci" transform="translate(2017.4 720.0) scale(0.95)"/><use href="#m_ci" transform="translate(2020.3 719.7) scale(0.95)"/><use href="#m_ci" transform="translate(2023.2 718.6) scale(0.95)"/><use href="#m_ci" transform="translate(2026.1 718.4) scale(0.95)"/><use href="#m_ci" transform="translate(2029.0 718.2) scale(0.95)"/><use href="#m_ci" transform="translate(2031.9 717.7) scale(0.95)"/><use href="#m_ci" transform="translate(2034.8 716.9) scale(0.95)"/><use href="#m_ci" transform="translate(2037.7 717.0) scale(0.95)"/></g>
<polyline points="1602.1,935.3 1605.0,941.3 1607.9,951.1 1610.8,943.7 1613.7,954.1 1616.6,957.1 1619.5,961.3 1622.4,962.7 1625.3,968.4 1628.2,969.6 1631.1,977.1 1634.0,975.8 1636.9,965.0 1639.9,978.3 1642.8,980.8 1645.7,978.6 1648.6,979.1 1651.5,989.2 1654.4,985.9 1657.3,981.4 1660.2,985.5 1663.1,987.1 1666.0,980.9 1668.9,992.6 1671.8,989.6 1674.7,993.1 1677.6,983.7 1680.5,1000.9 1683.4,995.0 1686.3,994.6 1689.2,989.2 1692.1,989.8 1695.0,986.3 1697.9,1001.1 1700.8,990.2 1703.7,995.7 1706.6,998.3 1709.5,993.3 1712.5,1001.5 1715.4,1007.9 1718.3,999.9 1721.2,1005.4 1724.1,1001.2 1727.0,996.2 1729.9,996.5 1732.8,990.3 1735.7,998.3 1738.6,1003.0 1741.5,995.7 1744.4,987.6 1747.3,971.8 1750.2,957.4 1753.1,941.3 1756.0,928.8 1758.9,918.3 1761.8,909.8 1764.7,901.8 1767.6,894.5 1770.5,887.0 1773.4,878.3 1776.3,870.8 1779.2,859.7 1782.1,852.2 1785.1,845.6 1788.0,840.8 1790.9,837.4 1793.8,832.2 1796.7,826.8 1799.6,822.0 1802.5,817.4 1805.4,813.3 1808.3,809.0 1811.2,805.1 1814.1,801.9 1817.0,798.4 1819.9,796.7 1822.8,792.9 1825.7,790.9 1828.6,787.6 1831.5,785.7 1834.4,783.7 1837.3,781.0 1840.2,779.3 1843.1,777.3 1846.0,775.5 1848.9,772.9 1851.8,770.8 1854.7,768.6 1857.7,767.2 1860.6,764.8 1863.5,763.4 1866.4,761.7 1869.3,759.7 1872.2,757.9 1875.1,756.9 1878.0,755.4 1880.9,754.0 1883.8,752.6 1886.7,751.8 1889.6,749.9 1892.5,749.4 1895.4,747.9 1898.3,747.4 1901.2,745.9 1904.1,744.9 1907.0,744.2 1909.9,742.4 1912.8,742.1 1915.7,740.6 1918.6,740.1 1921.5,739.8 1924.4,738.9 1927.3,737.7 1930.3,737.1 1933.2,736.3 1936.1,735.6 1939.0,735.4 1941.9,734.0 1944.8,734.0 1947.7,732.3 1950.6,732.0 1953.5,731.2 1956.4,730.3 1959.3,729.3 1962.2,729.2 1965.1,728.6 1968.0,727.5 1970.9,727.2 1973.8,726.0 1976.7,724.3 1979.6,724.6 1982.5,723.2 1985.4,723.2 1988.3,721.9 1991.2,721.4 1994.1,720.6 1997.0,719.7 1999.9,718.6 2002.9,718.5 2005.8,717.8 2008.7,717.6 2011.6,716.3 2014.5,716.0 2017.4,715.0 2020.3,714.7 2023.2,713.4 2026.1,714.1 2029.0,712.9 2031.9,711.9 2034.8,711.7 2037.7,711.3" fill="none" stroke="#2266dd" stroke-width="1.1" stroke-linejoin="round"/>
<g fill="#00ff00"><use href="#m_tu" transform="translate(1602.1 935.3) scale(0.9)"/><use href="#m_tu" transform="translate(1605.0 941.3) scale(0.9)"/><use href="#m_tu" transform="translate(1607.9 951.1) scale(0.9)"/><use href="#m_tu" transform="translate(1610.8 943.7) scale(0.9)"/><use href="#m_tu" transform="translate(1613.7 954.1) scale(0.9)"/><use href="#m_tu" transform="translate(1616.6 957.1) scale(0.9)"/><use href="#m_tu" transform="translate(1619.5 961.3) scale(0.9)"/><use href="#m_tu" transform="translate(1622.4 962.7) scale(0.9)"/><use href="#m_tu" transform="translate(1625.3 968.4) scale(0.9)"/><use href="#m_tu" transform="translate(1628.2 969.6) scale(0.9)"/><use href="#m_tu" transform="translate(1631.1 977.1) scale(0.9)"/><use href="#m_tu" transform="translate(1634.0 975.8) scale(0.9)"/><use href="#m_tu" transform="translate(1636.9 965.0) scale(0.9)"/><use href="#m_tu" transform="translate(1639.9 978.3) scale(0.9)"/><use href="#m_tu" transform="translate(1642.8 980.8) scale(0.9)"/><use href="#m_tu" transform="translate(1645.7 978.6) scale(0.9)"/><use href="#m_tu" transform="translate(1648.6 979.1) scale(0.9)"/><use href="#m_tu" transform="translate(1651.5 989.2) scale(0.9)"/><use href="#m_tu" transform="translate(1654.4 985.9) scale(0.9)"/><use href="#m_tu" transform="translate(1657.3 981.4) scale(0.9)"/><use href="#m_tu" transform="translate(1660.2 985.5) scale(0.9)"/><use href="#m_tu" transform="translate(1663.1 987.1) scale(0.9)"/><use href="#m_tu" transform="translate(1666.0 980.9) scale(0.9)"/><use href="#m_tu" transform="translate(1668.9 992.6) scale(0.9)"/><use href="#m_tu" transform="translate(1671.8 989.6) scale(0.9)"/><use href="#m_tu" transform="translate(1674.7 993.1) scale(0.9)"/><use href="#m_tu" transform="translate(1677.6 983.7) scale(0.9)"/><use href="#m_tu" transform="translate(1680.5 1000.9) scale(0.9)"/><use href="#m_tu" transform="translate(1683.4 995.0) scale(0.9)"/><use href="#m_tu" transform="translate(1686.3 994.6) scale(0.9)"/><use href="#m_tu" transform="translate(1689.2 989.2) scale(0.9)"/><use href="#m_tu" transform="translate(1692.1 989.8) scale(0.9)"/><use href="#m_tu" transform="translate(1695.0 986.3) scale(0.9)"/><use href="#m_tu" transform="translate(1697.9 1001.1) scale(0.9)"/><use href="#m_tu" transform="translate(1700.8 990.2) scale(0.9)"/><use href="#m_tu" transform="translate(1703.7 995.7) scale(0.9)"/><use href="#m_tu" transform="translate(1706.6 998.3) scale(0.9)"/><use href="#m_tu" transform="translate(1709.5 993.3) scale(0.9)"/><use href="#m_tu" transform="translate(1712.5 1001.5) scale(0.9)"/><use href="#m_tu" transform="translate(1715.4 1007.9) scale(0.9)"/><use href="#m_tu" transform="translate(1718.3 999.9) scale(0.9)"/><use href="#m_tu" transform="translate(1721.2 1005.4) scale(0.9)"/><use href="#m_tu" transform="translate(1724.1 1001.2) scale(0.9)"/><use href="#m_tu" transform="translate(1727.0 996.2) scale(0.9)"/><use href="#m_tu" transform="translate(1729.9 996.5) scale(0.9)"/><use href="#m_tu" transform="translate(1732.8 990.3) scale(0.9)"/><use href="#m_tu" transform="translate(1735.7 998.3) scale(0.9)"/><use href="#m_tu" transform="translate(1738.6 1003.0) scale(0.9)"/><use href="#m_tu" transform="translate(1741.5 995.7) scale(0.9)"/><use href="#m_tu" transform="translate(1744.4 987.6) scale(0.9)"/><use href="#m_tu" transform="translate(1747.3 971.8) scale(0.9)"/><use href="#m_tu" transform="translate(1750.2 957.4) scale(0.9)"/><use href="#m_tu" transform="translate(1753.1 941.3) scale(0.9)"/><use href="#m_tu" transform="translate(1756.0 928.8) scale(0.9)"/><use href="#m_tu" transform="translate(1758.9 918.3) scale(0.9)"/><use href="#m_tu" transform="translate(1761.8 909.8) scale(0.9)"/><use href="#m_tu" transform="translate(1764.7 901.8) scale(0.9)"/><use href="#m_tu" transform="translate(1767.6 894.5) scale(0.9)"/><use href="#m_tu" transform="translate(1770.5 887.0) scale(0.9)"/><use href="#m_tu" transform="translate(1773.4 878.3) scale(0.9)"/><use href="#m_tu" transform="translate(1776.3 870.8) scale(0.9)"/><use href="#m_tu" transform="translate(1779.2 859.7) scale(0.9)"/><use href="#m_tu" transform="translate(1782.1 852.2) scale(0.9)"/><use href="#m_tu" transform="translate(1785.1 845.6) scale(0.9)"/><use href="#m_tu" transform="translate(1788.0 840.8) scale(0.9)"/><use href="#m_tu" transform="translate(1790.9 837.4) scale(0.9)"/><use href="#m_tu" transform="translate(1793.8 832.2) scale(0.9)"/><use href="#m_tu" transform="translate(1796.7 826.8) scale(0.9)"/><use href="#m_tu" transform="translate(1799.6 822.0) scale(0.9)"/><use href="#m_tu" transform="translate(1802.5 817.4) scale(0.9)"/><use href="#m_tu" transform="translate(1805.4 813.3) scale(0.9)"/><use href="#m_tu" transform="translate(1808.3 809.0) scale(0.9)"/><use href="#m_tu" transform="translate(1811.2 805.1) scale(0.9)"/><use href="#m_tu" transform="translate(1814.1 801.9) scale(0.9)"/><use href="#m_tu" transform="translate(1817.0 798.4) scale(0.9)"/><use href="#m_tu" transform="translate(1819.9 796.7) scale(0.9)"/><use href="#m_tu" transform="translate(1822.8 792.9) scale(0.9)"/><use href="#m_tu" transform="translate(1825.7 790.9) scale(0.9)"/><use href="#m_tu" transform="translate(1828.6 787.6) scale(0.9)"/><use href="#m_tu" transform="translate(1831.5 785.7) scale(0.9)"/><use href="#m_tu" transform="translate(1834.4 783.7) scale(0.9)"/><use href="#m_tu" transform="translate(1837.3 781.0) scale(0.9)"/><use href="#m_tu" transform="translate(1840.2 779.3) scale(0.9)"/><use href="#m_tu" transform="translate(1843.1 777.3) scale(0.9)"/><use href="#m_tu" transform="translate(1846.0 775.5) scale(0.9)"/><use href="#m_tu" transform="translate(1848.9 772.9) scale(0.9)"/><use href="#m_tu" transform="translate(1851.8 770.8) scale(0.9)"/><use href="#m_tu" transform="translate(1854.7 768.6) scale(0.9)"/><use href="#m_tu" transform="translate(1857.7 767.2) scale(0.9)"/><use href="#m_tu" transform="translate(1860.6 764.8) scale(0.9)"/><use href="#m_tu" transform="translate(1863.5 763.4) scale(0.9)"/><use href="#m_tu" transform="translate(1866.4 761.7) scale(0.9)"/><use href="#m_tu" transform="translate(1869.3 759.7) scale(0.9)"/><use href="#m_tu" transform="translate(1872.2 757.9) scale(0.9)"/><use href="#m_tu" transform="translate(1875.1 756.9) scale(0.9)"/><use href="#m_tu" transform="translate(1878.0 755.4) scale(0.9)"/><use href="#m_tu" transform="translate(1880.9 754.0) scale(0.9)"/><use href="#m_tu" transform="translate(1883.8 752.6) scale(0.9)"/><use href="#m_tu" transform="translate(1886.7 751.8) scale(0.9)"/><use href="#m_tu" transform="translate(1889.6 749.9) scale(0.9)"/><use href="#m_tu" transform="translate(1892.5 749.4) scale(0.9)"/><use href="#m_tu" transform="translate(1895.4 747.9) scale(0.9)"/><use href="#m_tu" transform="translate(1898.3 747.4) scale(0.9)"/><use href="#m_tu" transform="translate(1901.2 745.9) scale(0.9)"/><use href="#m_tu" transform="translate(1904.1 744.9) scale(0.9)"/><use href="#m_tu" transform="translate(1907.0 744.2) scale(0.9)"/><use href="#m_tu" transform="translate(1909.9 742.4) scale(0.9)"/><use href="#m_tu" transform="translate(1912.8 742.1) scale(0.9)"/><use href="#m_tu" transform="translate(1915.7 740.6) scale(0.9)"/><use href="#m_tu" transform="translate(1918.6 740.1) scale(0.9)"/><use href="#m_tu" transform="translate(1921.5 739.8) scale(0.9)"/><use href="#m_tu" transform="translate(1924.4 738.9) scale(0.9)"/><use href="#m_tu" transform="translate(1927.3 737.7) scale(0.9)"/><use href="#m_tu" transform="translate(1930.3 737.1) scale(0.9)"/><use href="#m_tu" transform="translate(1933.2 736.3) scale(0.9)"/><use href="#m_tu" transform="translate(1936.1 735.6) scale(0.9)"/><use href="#m_tu" transform="translate(1939.0 735.4) scale(0.9)"/><use href="#m_tu" transform="translate(1941.9 734.0) scale(0.9)"/><use href="#m_tu" transform="translate(1944.8 734.0) scale(0.9)"/><use href="#m_tu" transform="translate(1947.7 732.3) scale(0.9)"/><use href="#m_tu" transform="translate(1950.6 732.0) scale(0.9)"/><use href="#m_tu" transform="translate(1953.5 731.2) scale(0.9)"/><use href="#m_tu" transform="translate(1956.4 730.3) scale(0.9)"/><use href="#m_tu" transform="translate(1959.3 729.3) scale(0.9)"/><use href="#m_tu" transform="translate(1962.2 729.2) scale(0.9)"/><use href="#m_tu" transform="translate(1965.1 728.6) scale(0.9)"/><use href="#m_tu" transform="translate(1968.0 727.5) scale(0.9)"/><use href="#m_tu" transform="translate(1970.9 727.2) scale(0.9)"/><use href="#m_tu" transform="translate(1973.8 726.0) scale(0.9)"/><use href="#m_tu" transform="translate(1976.7 724.3) scale(0.9)"/><use href="#m_tu" transform="translate(1979.6 724.6) scale(0.9)"/><use href="#m_tu" transform="translate(1982.5 723.2) scale(0.9)"/><use href="#m_tu" transform="translate(1985.4 723.2) scale(0.9)"/><use href="#m_tu" transform="translate(1988.3 721.9) scale(0.9)"/><use href="#m_tu" transform="translate(1991.2 721.4) scale(0.9)"/><use href="#m_tu" transform="translate(1994.1 720.6) scale(0.9)"/><use href="#m_tu" transform="translate(1997.0 719.7) scale(0.9)"/><use href="#m_tu" transform="translate(1999.9 718.6) scale(0.9)"/><use href="#m_tu" transform="translate(2002.9 718.5) scale(0.9)"/><use href="#m_tu" transform="translate(2005.8 717.8) scale(0.9)"/><use href="#m_tu" transform="translate(2008.7 717.6) scale(0.9)"/><use href="#m_tu" transform="translate(2011.6 716.3) scale(0.9)"/><use href="#m_tu" transform="translate(2014.5 716.0) scale(0.9)"/><use href="#m_tu" transform="translate(2017.4 715.0) scale(0.9)"/><use href="#m_tu" transform="translate(2020.3 714.7) scale(0.9)"/><use href="#m_tu" transform="translate(2023.2 713.4) scale(0.9)"/><use href="#m_tu" transform="translate(2026.1 714.1) scale(0.9)"/><use href="#m_tu" transform="translate(2029.0 712.9) scale(0.9)"/><use href="#m_tu" transform="translate(2031.9 711.9) scale(0.9)"/><use href="#m_tu" transform="translate(2034.8 711.7) scale(0.9)"/><use href="#m_tu" transform="translate(2037.7 711.3) scale(0.9)"/></g>
<polyline points="1602.1,939.9 1605.0,951.6 1607.9,950.1 1610.8,955.0 1613.7,959.4 1616.6,956.5 1619.5,961.0 1622.4,959.6 1625.3,963.4 1628.2,968.7 1631.1,966.5 1634.0,967.8 1636.9,966.6 1639.9,975.7 1642.8,974.3 1645.7,982.0 1648.6,974.0 1651.5,981.2 1654.4,984.5 1657.3,978.7 1660.2,975.1 1663.1,986.1 1666.0,985.7 1668.9,985.9 1671.8,989.1 1674.7,985.4 1677.6,992.9 1680.5,996.9 1683.4,996.5 1686.3,1005.1 1689.2,1002.1 1692.1,1004.0 1695.0,998.3 1697.9,994.4 1700.8,973.9 1703.7,976.7 1706.6,971.2 1709.5,969.4 1712.5,966.2 1715.4,964.2 1718.3,955.2 1721.2,964.9 1724.1,965.4 1727.0,961.2 1729.9,958.7 1732.8,947.3 1735.7,934.1 1738.6,919.8 1741.5,904.8 1744.4,890.1 1747.3,878.6 1750.2,869.8 1753.1,862.8 1756.0,855.6 1758.9,850.1 1761.8,843.8 1764.7,838.2 1767.6,831.5 1770.5,824.3 1773.4,818.1 1776.3,811.6 1779.2,806.6 1782.1,802.8 1785.1,798.5 1788.0,795.0 1790.9,791.1 1793.8,788.5 1796.7,785.4 1799.6,781.9 1802.5,778.9 1805.4,776.4 1808.3,774.8 1811.2,772.5 1814.1,769.9 1817.0,768.5 1819.9,766.8 1822.8,764.5 1825.7,762.5 1828.6,761.1 1831.5,759.6 1834.4,757.8 1837.3,755.4 1840.2,754.3 1843.1,752.4 1846.0,750.8 1848.9,749.1 1851.8,748.0 1854.7,746.3 1857.7,745.5 1860.6,744.0 1863.5,743.0 1866.4,740.9 1869.3,740.2 1872.2,739.3 1875.1,738.1 1878.0,737.0 1880.9,735.7 1883.8,735.6 1886.7,734.5 1889.6,733.4 1892.5,731.5 1895.4,731.3 1898.3,730.9 1901.2,729.8 1904.1,728.6 1907.0,728.7 1909.9,728.1 1912.8,726.8 1915.7,726.4 1918.6,725.7 1921.5,725.6 1924.4,724.0 1927.3,723.5 1930.3,723.4 1933.2,722.7 1936.1,723.2 1939.0,721.6 1941.9,721.4 1944.8,720.6 1947.7,719.9 1950.6,719.7 1953.5,719.6 1956.4,718.3 1959.3,718.1 1962.2,717.4 1965.1,716.9 1968.0,716.2 1970.9,716.3 1973.8,714.4 1976.7,714.1 1979.6,713.2 1982.5,712.3 1985.4,712.5 1988.3,712.5 1991.2,711.6 1994.1,711.2 1997.0,710.3 1999.9,709.5 2002.9,709.7 2005.8,708.3 2008.7,708.4 2011.6,707.2 2014.5,706.8 2017.4,706.3 2020.3,705.7 2023.2,705.3 2026.1,704.8 2029.0,704.6 2031.9,703.5 2034.8,702.2 2037.7,701.7" fill="none" stroke="#22aa55" stroke-width="1.1" stroke-linejoin="round"/>
<g fill="#0000ff"><use href="#m_td" transform="translate(1602.1 939.9) scale(0.9)"/><use href="#m_td" transform="translate(1605.0 951.6) scale(0.9)"/><use href="#m_td" transform="translate(1607.9 950.1) scale(0.9)"/><use href="#m_td" transform="translate(1610.8 955.0) scale(0.9)"/><use href="#m_td" transform="translate(1613.7 959.4) scale(0.9)"/><use href="#m_td" transform="translate(1616.6 956.5) scale(0.9)"/><use href="#m_td" transform="translate(1619.5 961.0) scale(0.9)"/><use href="#m_td" transform="translate(1622.4 959.6) scale(0.9)"/><use href="#m_td" transform="translate(1625.3 963.4) scale(0.9)"/><use href="#m_td" transform="translate(1628.2 968.7) scale(0.9)"/><use href="#m_td" transform="translate(1631.1 966.5) scale(0.9)"/><use href="#m_td" transform="translate(1634.0 967.8) scale(0.9)"/><use href="#m_td" transform="translate(1636.9 966.6) scale(0.9)"/><use href="#m_td" transform="translate(1639.9 975.7) scale(0.9)"/><use href="#m_td" transform="translate(1642.8 974.3) scale(0.9)"/><use href="#m_td" transform="translate(1645.7 982.0) scale(0.9)"/><use href="#m_td" transform="translate(1648.6 974.0) scale(0.9)"/><use href="#m_td" transform="translate(1651.5 981.2) scale(0.9)"/><use href="#m_td" transform="translate(1654.4 984.5) scale(0.9)"/><use href="#m_td" transform="translate(1657.3 978.7) scale(0.9)"/><use href="#m_td" transform="translate(1660.2 975.1) scale(0.9)"/><use href="#m_td" transform="translate(1663.1 986.1) scale(0.9)"/><use href="#m_td" transform="translate(1666.0 985.7) scale(0.9)"/><use href="#m_td" transform="translate(1668.9 985.9) scale(0.9)"/><use href="#m_td" transform="translate(1671.8 989.1) scale(0.9)"/><use href="#m_td" transform="translate(1674.7 985.4) scale(0.9)"/><use href="#m_td" transform="translate(1677.6 992.9) scale(0.9)"/><use href="#m_td" transform="translate(1680.5 996.9) scale(0.9)"/><use href="#m_td" transform="translate(1683.4 996.5) scale(0.9)"/><use href="#m_td" transform="translate(1686.3 1005.1) scale(0.9)"/><use href="#m_td" transform="translate(1689.2 1002.1) scale(0.9)"/><use href="#m_td" transform="translate(1692.1 1004.0) scale(0.9)"/><use href="#m_td" transform="translate(1695.0 998.3) scale(0.9)"/><use href="#m_td" transform="translate(1697.9 994.4) scale(0.9)"/><use href="#m_td" transform="translate(1700.8 973.9) scale(0.9)"/><use href="#m_td" transform="translate(1703.7 976.7) scale(0.9)"/><use href="#m_td" transform="translate(1706.6 971.2) scale(0.9)"/><use href="#m_td" transform="translate(1709.5 969.4) scale(0.9)"/><use href="#m_td" transform="translate(1712.5 966.2) scale(0.9)"/><use href="#m_td" transform="translate(1715.4 964.2) scale(0.9)"/><use href="#m_td" transform="translate(1718.3 955.2) scale(0.9)"/><use href="#m_td" transform="translate(1721.2 964.9) scale(0.9)"/><use href="#m_td" transform="translate(1724.1 965.4) scale(0.9)"/><use href="#m_td" transform="translate(1727.0 961.2) scale(0.9)"/><use href="#m_td" transform="translate(1729.9 958.7) scale(0.9)"/><use href="#m_td" transform="translate(1732.8 947.3) scale(0.9)"/><use href="#m_td" transform="translate(1735.7 934.1) scale(0.9)"/><use href="#m_td" transform="translate(1738.6 919.8) scale(0.9)"/><use href="#m_td" transform="translate(1741.5 904.8) scale(0.9)"/><use href="#m_td" transform="translate(1744.4 890.1) scale(0.9)"/><use href="#m_td" transform="translate(1747.3 878.6) scale(0.9)"/><use href="#m_td" transform="translate(1750.2 869.8) scale(0.9)"/><use href="#m_td" transform="translate(1753.1 862.8) scale(0.9)"/><use href="#m_td" transform="translate(1756.0 855.6) scale(0.9)"/><use href="#m_td" transform="translate(1758.9 850.1) scale(0.9)"/><use href="#m_td" transform="translate(1761.8 843.8) scale(0.9)"/><use href="#m_td" transform="translate(1764.7 838.2) scale(0.9)"/><use href="#m_td" transform="translate(1767.6 831.5) scale(0.9)"/><use href="#m_td" transform="translate(1770.5 824.3) scale(0.9)"/><use href="#m_td" transform="translate(1773.4 818.1) scale(0.9)"/><use href="#m_td" transform="translate(1776.3 811.6) scale(0.9)"/><use href="#m_td" transform="translate(1779.2 806.6) scale(0.9)"/><use href="#m_td" transform="translate(1782.1 802.8) scale(0.9)"/><use href="#m_td" transform="translate(1785.1 798.5) scale(0.9)"/><use href="#m_td" transform="translate(1788.0 795.0) scale(0.9)"/><use href="#m_td" transform="translate(1790.9 791.1) scale(0.9)"/><use href="#m_td" transform="translate(1793.8 788.5) scale(0.9)"/><use href="#m_td" transform="translate(1796.7 785.4) scale(0.9)"/><use href="#m_td" transform="translate(1799.6 781.9) scale(0.9)"/><use href="#m_td" transform="translate(1802.5 778.9) scale(0.9)"/><use href="#m_td" transform="translate(1805.4 776.4) scale(0.9)"/><use href="#m_td" transform="translate(1808.3 774.8) scale(0.9)"/><use href="#m_td" transform="translate(1811.2 772.5) scale(0.9)"/><use href="#m_td" transform="translate(1814.1 769.9) scale(0.9)"/><use href="#m_td" transform="translate(1817.0 768.5) scale(0.9)"/><use href="#m_td" transform="translate(1819.9 766.8) scale(0.9)"/><use href="#m_td" transform="translate(1822.8 764.5) scale(0.9)"/><use href="#m_td" transform="translate(1825.7 762.5) scale(0.9)"/><use href="#m_td" transform="translate(1828.6 761.1) scale(0.9)"/><use href="#m_td" transform="translate(1831.5 759.6) scale(0.9)"/><use href="#m_td" transform="translate(1834.4 757.8) scale(0.9)"/><use href="#m_td" transform="translate(1837.3 755.4) scale(0.9)"/><use href="#m_td" transform="translate(1840.2 754.3) scale(0.9)"/><use href="#m_td" transform="translate(1843.1 752.4) scale(0.9)"/><use href="#m_td" transform="translate(1846.0 750.8) scale(0.9)"/><use href="#m_td" transform="translate(1848.9 749.1) scale(0.9)"/><use href="#m_td" transform="translate(1851.8 748.0) scale(0.9)"/><use href="#m_td" transform="translate(1854.7 746.3) scale(0.9)"/><use href="#m_td" transform="translate(1857.7 745.5) scale(0.9)"/><use href="#m_td" transform="translate(1860.6 744.0) scale(0.9)"/><use href="#m_td" transform="translate(1863.5 743.0) scale(0.9)"/><use href="#m_td" transform="translate(1866.4 740.9) scale(0.9)"/><use href="#m_td" transform="translate(1869.3 740.2) scale(0.9)"/><use href="#m_td" transform="translate(1872.2 739.3) scale(0.9)"/><use href="#m_td" transform="translate(1875.1 738.1) scale(0.9)"/><use href="#m_td" transform="translate(1878.0 737.0) scale(0.9)"/><use href="#m_td" transform="translate(1880.9 735.7) scale(0.9)"/><use href="#m_td" transform="translate(1883.8 735.6) scale(0.9)"/><use href="#m_td" transform="translate(1886.7 734.5) scale(0.9)"/><use href="#m_td" transform="translate(1889.6 733.4) scale(0.9)"/><use href="#m_td" transform="translate(1892.5 731.5) scale(0.9)"/><use href="#m_td" transform="translate(1895.4 731.3) scale(0.9)"/><use href="#m_td" transform="translate(1898.3 730.9) scale(0.9)"/><use href="#m_td" transform="translate(1901.2 729.8) scale(0.9)"/><use href="#m_td" transform="translate(1904.1 728.6) scale(0.9)"/><use href="#m_td" transform="translate(1907.0 728.7) scale(0.9)"/><use href="#m_td" transform="translate(1909.9 728.1) scale(0.9)"/><use href="#m_td" transform="translate(1912.8 726.8) scale(0.9)"/><use href="#m_td" transform="translate(1915.7 726.4) scale(0.9)"/><use href="#m_td" transform="translate(1918.6 725.7) scale(0.9)"/><use href="#m_td" transform="translate(1921.5 725.6) scale(0.9)"/><use href="#m_td" transform="translate(1924.4 724.0) scale(0.9)"/><use href="#m_td" transform="translate(1927.3 723.5) scale(0.9)"/><use href="#m_td" transform="translate(1930.3 723.4) scale(0.9)"/><use href="#m_td" transform="translate(1933.2 722.7) scale(0.9)"/><use href="#m_td" transform="translate(1936.1 723.2) scale(0.9)"/><use href="#m_td" transform="translate(1939.0 721.6) scale(0.9)"/><use href="#m_td" transform="translate(1941.9 721.4) scale(0.9)"/><use href="#m_td" transform="translate(1944.8 720.6) scale(0.9)"/><use href="#m_td" transform="translate(1947.7 719.9) scale(0.9)"/><use href="#m_td" transform="translate(1950.6 719.7) scale(0.9)"/><use href="#m_td" transform="translate(1953.5 719.6) scale(0.9)"/><use href="#m_td" transform="translate(1956.4 718.3) scale(0.9)"/><use href="#m_td" transform="translate(1959.3 718.1) scale(0.9)"/><use href="#m_td" transform="translate(1962.2 717.4) scale(0.9)"/><use href="#m_td" transform="translate(1965.1 716.9) scale(0.9)"/><use href="#m_td" transform="translate(1968.0 716.2) scale(0.9)"/><use href="#m_td" transform="translate(1970.9 716.3) scale(0.9)"/><use href="#m_td" transform="translate(1973.8 714.4) scale(0.9)"/><use href="#m_td" transform="translate(1976.7 714.1) scale(0.9)"/><use href="#m_td" transform="translate(1979.6 713.2) scale(0.9)"/><use href="#m_td" transform="translate(1982.5 712.3) scale(0.9)"/><use href="#m_td" transform="translate(1985.4 712.5) scale(0.9)"/><use href="#m_td" transform="translate(1988.3 712.5) scale(0.9)"/><use href="#m_td" transform="translate(1991.2 711.6) scale(0.9)"/><use href="#m_td" transform="translate(1994.1 711.2) scale(0.9)"/><use href="#m_td" transform="translate(1997.0 710.3) scale(0.9)"/><use href="#m_td" transform="translate(1999.9 709.5) scale(0.9)"/><use href="#m_td" transform="translate(2002.9 709.7) scale(0.9)"/><use href="#m_td" transform="translate(2005.8 708.3) scale(0.9)"/><use href="#m_td" transform="translate(2008.7 708.4) scale(0.9)"/><use href="#m_td" transform="translate(2011.6 707.2) scale(0.9)"/><use href="#m_td" transform="translate(2014.5 706.8) scale(0.9)"/><use href="#m_td" transform="translate(2017.4 706.3) scale(0.9)"/><use href="#m_td" transform="translate(2020.3 705.7) scale(0.9)"/><use href="#m_td" transform="translate(2023.2 705.3) scale(0.9)"/><use href="#m_td" transform="translate(2026.1 704.8) scale(0.9)"/><use href="#m_td" transform="translate(2029.0 704.6) scale(0.9)"/><use href="#m_td" transform="translate(2031.9 703.5) scale(0.9)"/><use href="#m_td" transform="translate(2034.8 702.2) scale(0.9)"/><use href="#m_td" transform="translate(2037.7 701.7) scale(0.9)"/></g>
<line x1="1626" y1="719.8" x2="1669" y2="719.8" stroke="#777777" stroke-width="1.6"/>
<g fill="#000000"><use href="#m_sq" x="1647.5" y="719.8"/></g>
<text x="1678.2" y="732.2" font-size="36">273 K</text>
<line x1="1626" y1="748.9" x2="1669" y2="748.9" stroke="#ff5555" stroke-width="1.6"/>
<g fill="#ff0000"><use href="#m_ci" x="1647.5" y="748.9"/></g>
<text x="1678.2" y="761.3" font-size="36">293 K</text>
<line x1="1626" y1="777.6" x2="1669" y2="777.6" stroke="#4a90e2" stroke-width="1.6"/>
<g fill="#00ff00"><use href="#m_tu" x="1647.5" y="777.6"/></g>
<text x="1678.8" y="790.0" font-size="36">313 K</text>
<line x1="1626" y1="806.5" x2="1669" y2="806.5" stroke="#3cb371" stroke-width="1.6"/>
<g fill="#0000ff"><use href="#m_td" x="1647.5" y="806.5"/></g>
<text x="1678.8" y="818.9" font-size="36">333 K</text>
<rect x="858.3" y="1262.5" width="505.0" height="412.5" fill="none" stroke="#1c1c1c" stroke-width="2.3"/>
<path d="M950.0 1675.0v-7M1041.8 1675.0v-7M1133.6 1675.0v-7M1225.4 1675.0v-7M1317.2 1675.0v-7" stroke="#1c1c1c" stroke-width="2" fill="none"/>
<path d="M904.1 1675.0v-3.8M995.9 1675.0v-3.8M1087.7 1675.0v-3.8M1179.5 1675.0v-3.8M1271.3 1675.0v-3.8" stroke="#1c1c1c" stroke-width="2" fill="none"/>
<path d="M858.3 1592.5h7M858.3 1510.0h7M858.3 1427.5h7M858.3 1345.0h7" stroke="#1c1c1c" stroke-width="2" fill="none"/>
<path d="M858.3 1633.8h3.8M858.3 1551.2h3.8M858.3 1468.8h3.8M858.3 1386.2h3.8M858.3 1303.8h3.8" stroke="#1c1c1c" stroke-width="2" fill="none"/>
<text x="796.60" y="1686.80" font-size="36">0.0</text>
<text x="796.10" y="1604.30" font-size="36">0.1</text>
<text x="796.60" y="1521.80" font-size="36">0.2</text>
<text x="796.35" y="1439.17" font-size="36">0.3</text>
<text x="795.35" y="1356.80" font-size="36">0.4</text>
<text x="796.10" y="1274.30" font-size="36">0.5</text>
<text x="848.20" y="1715.75" font-size="36">0</text>
<text x="940.12" y="1715.75" font-size="36">2</text>
<text x="1031.67" y="1715.25" font-size="36">4</text>
<text x="1123.60" y="1715.75" font-size="36">6</text>
<text x="1215.40" y="1715.75" font-size="36">8</text>
<text x="1296.83" y="1715.75" font-size="36">10</text>
<polyline points="904.1,1292.8 913.3,1351.4 922.5,1378.0 931.6,1397.3 940.8,1416.7 950.0,1433.9 959.2,1448.8 968.4,1461.9 977.5,1473.6 986.7,1484.0 995.9,1493.6 1005.1,1502.9 1014.3,1511.7 1023.4,1520.0 1032.6,1527.5 1041.8,1534.2 1051.0,1540.1 1060.2,1545.4 1069.3,1550.2 1078.5,1554.5 1087.7,1558.5 1096.9,1561.9 1106.1,1565.2 1115.2,1568.4 1124.4,1571.9 1133.6,1575.8 1142.8,1581.0 1152.0,1587.1 1161.1,1592.8 1170.3,1596.6 1179.5,1598.8 1188.7,1600.4 1197.9,1601.8 1207.0,1603.0 1216.2,1604.3 1225.4,1605.7 1234.6,1607.3 1243.8,1608.9 1252.9,1610.5 1262.1,1612.1 1271.3,1613.7 1280.5,1615.4 1289.7,1617.1 1298.8,1618.8 1308.0,1620.5 1317.2,1622.2" fill="none" stroke="#333333" stroke-width="1.3" stroke-linejoin="round"/>
<g fill="#000000"><use href="#m_sq" transform="translate(904.1 1292.8) scale(0.95)"/><use href="#m_sq" transform="translate(913.3 1351.4) scale(0.95)"/><use href="#m_sq" transform="translate(922.5 1378.0) scale(0.95)"/><use href="#m_sq" transform="translate(931.6 1397.3) scale(0.95)"/><use href="#m_sq" transform="translate(940.8 1416.7) scale(0.95)"/><use href="#m_sq" transform="translate(950.0 1433.9) scale(0.95)"/><use href="#m_sq" transform="translate(959.2 1448.8) scale(0.95)"/><use href="#m_sq" transform="translate(968.4 1461.9) scale(0.95)"/><use href="#m_sq" transform="translate(977.5 1473.6) scale(0.95)"/><use href="#m_sq" transform="translate(986.7 1484.0) scale(0.95)"/><use href="#m_sq" transform="translate(995.9 1493.6) scale(0.95)"/><use href="#m_sq" transform="translate(1005.1 1502.9) scale(0.95)"/><use href="#m_sq" transform="translate(1014.3 1511.7) scale(0.95)"/><use href="#m_sq" transform="translate(1023.4 1520.0) scale(0.95)"/><use href="#m_sq" transform="translate(1032.6 1527.5) scale(0.95)"/><use href="#m_sq" transform="translate(1041.8 1534.2) scale(0.95)"/><use href="#m_sq" transform="translate(1051.0 1540.1) scale(0.95)"/><use href="#m_sq" transform="translate(1060.2 1545.4) scale(0.95)"/><use href="#m_sq" transform="translate(1069.3 1550.2) scale(0.95)"/><use href="#m_sq" transform="translate(1078.5 1554.5) scale(0.95)"/><use href="#m_sq" transform="translate(1087.7 1558.5) scale(0.95)"/><use href="#m_sq" transform="translate(1096.9 1561.9) scale(0.95)"/><use href="#m_sq" transform="translate(1106.1 1565.2) scale(0.95)"/><use href="#m_sq" transform="translate(1115.2 1568.4) scale(0.95)"/><use href="#m_sq" transform="translate(1124.4 1571.9) scale(0.95)"/><use href="#m_sq" transform="translate(1133.6 1575.8) scale(0.95)"/><use href="#m_sq" transform="translate(1142.8 1581.0) scale(0.95)"/><use href="#m_sq" transform="translate(1152.0 1587.1) scale(0.95)"/><use href="#m_sq" transform="translate(1161.1 1592.8) scale(0.95)"/><use href="#m_sq" transform="translate(1170.3 1596.6) scale(0.95)"/><use href="#m_sq" transform="translate(1179.5 1598.8) scale(0.95)"/><use href="#m_sq" transform="translate(1188.7 1600.4) scale(0.95)"/><use href="#m_sq" transform="translate(1197.9 1601.8) scale(0.95)"/><use href="#m_sq" transform="translate(1207.0 1603.0) scale(0.95)"/><use href="#m_sq" transform="translate(1216.2 1604.3) scale(0.95)"/><use href="#m_sq" transform="translate(1225.4 1605.7) scale(0.95)"/><use href="#m_sq" transform="translate(1234.6 1607.3) scale(0.95)"/><use href="#m_sq" transform="translate(1243.8 1608.9) scale(0.95)"/><use href="#m_sq" transform="translate(1252.9 1610.5) scale(0.95)"/><use href="#m_sq" transform="translate(1262.1 1612.1) scale(0.95)"/><use href="#m_sq" transform="translate(1271.3 1613.7) scale(0.95)"/><use href="#m_sq" transform="translate(1280.5 1615.4) scale(0.95)"/><use href="#m_sq" transform="translate(1289.7 1617.1) scale(0.95)"/><use href="#m_sq" transform="translate(1298.8 1618.8) scale(0.95)"/><use href="#m_sq" transform="translate(1308.0 1620.5) scale(0.95)"/><use href="#m_sq" transform="translate(1317.2 1622.2) scale(0.95)"/></g>
<polyline points="904.1,1322.5 913.3,1346.3 922.5,1371.0 931.6,1392.2 940.8,1410.6 950.0,1428.7 959.2,1442.5 968.4,1454.3 977.5,1465.4 986.7,1475.5 995.9,1484.9 1005.1,1493.4 1014.3,1500.8 1023.4,1507.8 1032.6,1514.8 1041.8,1521.4 1051.0,1527.4 1060.2,1533.1 1069.3,1538.4 1078.5,1543.1 1087.7,1547.5 1096.9,1551.9 1106.1,1556.3 1115.2,1560.4 1124.4,1564.5 1133.6,1568.3 1142.8,1572.1 1152.0,1575.7 1161.1,1579.3 1170.3,1582.7 1179.5,1585.9 1188.7,1589.0 1197.9,1591.9 1207.0,1594.7 1216.2,1597.4 1225.4,1599.9 1234.6,1602.3 1243.8,1604.5 1252.9,1606.6 1262.1,1608.7 1271.3,1610.7 1280.5,1612.6 1289.7,1614.5 1298.8,1616.4 1308.0,1618.2 1317.2,1619.9" fill="none" stroke="#ee3333" stroke-width="1.3" stroke-linejoin="round"/>
<g fill="#ff0000"><use href="#m_ci" transform="translate(904.1 1322.5) scale(0.98)"/><use href="#m_ci" transform="translate(913.3 1346.3) scale(0.98)"/><use href="#m_ci" transform="translate(922.5 1371.0) scale(0.98)"/><use href="#m_ci" transform="translate(931.6 1392.2) scale(0.98)"/><use href="#m_ci" transform="translate(940.8 1410.6) scale(0.98)"/><use href="#m_ci" transform="translate(950.0 1428.7) scale(0.98)"/><use href="#m_ci" transform="translate(959.2 1442.5) scale(0.98)"/><use href="#m_ci" transform="translate(968.4 1454.3) scale(0.98)"/><use href="#m_ci" transform="translate(977.5 1465.4) scale(0.98)"/><use href="#m_ci" transform="translate(986.7 1475.5) scale(0.98)"/><use href="#m_ci" transform="translate(995.9 1484.9) scale(0.98)"/><use href="#m_ci" transform="translate(1005.1 1493.4) scale(0.98)"/><use href="#m_ci" transform="translate(1014.3 1500.8) scale(0.98)"/><use href="#m_ci" transform="translate(1023.4 1507.8) scale(0.98)"/><use href="#m_ci" transform="translate(1032.6 1514.8) scale(0.98)"/><use href="#m_ci" transform="translate(1041.8 1521.4) scale(0.98)"/><use href="#m_ci" transform="translate(1051.0 1527.4) scale(0.98)"/><use href="#m_ci" transform="translate(1060.2 1533.1) scale(0.98)"/><use href="#m_ci" transform="translate(1069.3 1538.4) scale(0.98)"/><use href="#m_ci" transform="translate(1078.5 1543.1) scale(0.98)"/><use href="#m_ci" transform="translate(1087.7 1547.5) scale(0.98)"/><use href="#m_ci" transform="translate(1096.9 1551.9) scale(0.98)"/><use href="#m_ci" transform="translate(1106.1 1556.3) scale(0.98)"/><use href="#m_ci" transform="translate(1115.2 1560.4) scale(0.98)"/><use href="#m_ci" transform="translate(1124.4 1564.5) scale(0.98)"/><use href="#m_ci" transform="translate(1133.6 1568.3) scale(0.98)"/><use href="#m_ci" transform="translate(1142.8 1572.1) scale(0.98)"/><use href="#m_ci" transform="translate(1152.0 1575.7) scale(0.98)"/><use href="#m_ci" transform="translate(1161.1 1579.3) scale(0.98)"/><use href="#m_ci" transform="translate(1170.3 1582.7) scale(0.98)"/><use href="#m_ci" transform="translate(1179.5 1585.9) scale(0.98)"/><use href="#m_ci" transform="translate(1188.7 1589.0) scale(0.98)"/><use href="#m_ci" transform="translate(1197.9 1591.9) scale(0.98)"/><use href="#m_ci" transform="translate(1207.0 1594.7) scale(0.98)"/><use href="#m_ci" transform="translate(1216.2 1597.4) scale(0.98)"/><use href="#m_ci" transform="translate(1225.4 1599.9) scale(0.98)"/><use href="#m_ci" transform="translate(1234.6 1602.3) scale(0.98)"/><use href="#m_ci" transform="translate(1243.8 1604.5) scale(0.98)"/><use href="#m_ci" transform="translate(1252.9 1606.6) scale(0.98)"/><use href="#m_ci" transform="translate(1262.1 1608.7) scale(0.98)"/><use href="#m_ci" transform="translate(1271.3 1610.7) scale(0.98)"/><use href="#m_ci" transform="translate(1280.5 1612.6) scale(0.98)"/><use href="#m_ci" transform="translate(1289.7 1614.5) scale(0.98)"/><use href="#m_ci" transform="translate(1298.8 1616.4) scale(0.98)"/><use href="#m_ci" transform="translate(1308.0 1618.2) scale(0.98)"/><use href="#m_ci" transform="translate(1317.2 1619.9) scale(0.98)"/></g>
<polyline points="904.1,1407.5 913.3,1418.6 922.5,1429.6 931.6,1439.8 940.8,1450.0 950.0,1459.3 959.2,1468.5 968.4,1477.2 977.5,1485.0 986.7,1492.5 995.9,1499.9 1005.1,1507.0 1014.3,1513.9 1023.4,1520.6 1032.6,1527.3 1041.8,1533.3 1051.0,1538.0 1060.2,1542.1 1069.3,1545.8 1078.5,1549.6 1087.7,1553.3 1096.9,1556.9 1106.1,1560.4 1115.2,1563.9 1124.4,1567.4 1133.6,1571.0 1142.8,1575.1 1152.0,1579.5 1161.1,1583.6 1170.3,1586.7 1179.5,1589.0 1188.7,1590.9 1197.9,1592.5 1207.0,1594.1 1216.2,1595.6 1225.4,1597.5 1234.6,1599.5 1243.8,1601.6 1252.9,1603.8 1262.1,1606.0 1271.3,1608.2 1280.5,1610.3 1289.7,1612.5 1298.8,1614.7 1308.0,1616.9 1317.2,1619.1" fill="none" stroke="#2266dd" stroke-width="1.3" stroke-linejoin="round"/>
<g fill="#00ff00"><use href="#m_tu" transform="translate(904.1 1407.5) scale(0.95)"/><use href="#m_tu" transform="translate(913.3 1418.6) scale(0.95)"/><use href="#m_tu" transform="translate(922.5 1429.6) scale(0.95)"/><use href="#m_tu" transform="translate(931.6 1439.8) scale(0.95)"/><use href="#m_tu" transform="translate(940.8 1450.0) scale(0.95)"/><use href="#m_tu" transform="translate(950.0 1459.3) scale(0.95)"/><use href="#m_tu" transform="translate(959.2 1468.5) scale(0.95)"/><use href="#m_tu" transform="translate(968.4 1477.2) scale(0.95)"/><use href="#m_tu" transform="translate(977.5 1485.0) scale(0.95)"/><use href="#m_tu" transform="translate(986.7 1492.5) scale(0.95)"/><use href="#m_tu" transform="translate(995.9 1499.9) scale(0.95)"/><use href="#m_tu" transform="translate(1005.1 1507.0) scale(0.95)"/><use href="#m_tu" transform="translate(1014.3 1513.9) scale(0.95)"/><use href="#m_tu" transform="translate(1023.4 1520.6) scale(0.95)"/><use href="#m_tu" transform="translate(1032.6 1527.3) scale(0.95)"/><use href="#m_tu" transform="translate(1041.8 1533.3) scale(0.95)"/><use href="#m_tu" transform="translate(1051.0 1538.0) scale(0.95)"/><use href="#m_tu" transform="translate(1060.2 1542.1) scale(0.95)"/><use href="#m_tu" transform="translate(1069.3 1545.8) scale(0.95)"/><use href="#m_tu" transform="translate(1078.5 1549.6) scale(0.95)"/><use href="#m_tu" transform="translate(1087.7 1553.3) scale(0.95)"/><use href="#m_tu" transform="translate(1096.9 1556.9) scale(0.95)"/><use href="#m_tu" transform="translate(1106.1 1560.4) scale(0.95)"/><use href="#m_tu" transform="translate(1115.2 1563.9) scale(0.95)"/><use href="#m_tu" transform="translate(1124.4 1567.4) scale(0.95)"/><use href="#m_tu" transform="translate(1133.6 1571.0) scale(0.95)"/><use href="#m_tu" transform="translate(1142.8 1575.1) scale(0.95)"/><use href="#m_tu" transform="translate(1152.0 1579.5) scale(0.95)"/><use href="#m_tu" transform="translate(1161.1 1583.6) scale(0.95)"/><use href="#m_tu" transform="translate(1170.3 1586.7) scale(0.95)"/><use href="#m_tu" transform="translate(1179.5 1589.0) scale(0.95)"/><use href="#m_tu" transform="translate(1188.7 1590.9) scale(0.95)"/><use href="#m_tu" transform="translate(1197.9 1592.5) scale(0.95)"/><use href="#m_tu" transform="translate(1207.0 1594.1) scale(0.95)"/><use href="#m_tu" transform="translate(1216.2 1595.6) scale(0.95)"/><use href="#m_tu" transform="translate(1225.4 1597.5) scale(0.95)"/><use href="#m_tu" transform="translate(1234.6 1599.5) scale(0.95)"/><use href="#m_tu" transform="translate(1243.8 1601.6) scale(0.95)"/><use href="#m_tu" transform="translate(1252.9 1603.8) scale(0.95)"/><use href="#m_tu" transform="translate(1262.1 1606.0) scale(0.95)"/><use href="#m_tu" transform="translate(1271.3 1608.2) scale(0.95)"/><use href="#m_tu" transform="translate(1280.5 1610.3) scale(0.95)"/><use href="#m_tu" transform="translate(1289.7 1612.5) scale(0.95)"/><use href="#m_tu" transform="translate(1298.8 1614.7) scale(0.95)"/><use href="#m_tu" transform="translate(1308.0 1616.9) scale(0.95)"/><use href="#m_tu" transform="translate(1317.2 1619.1) scale(0.95)"/></g>
<polyline points="904.1,1473.0 913.3,1482.3 922.5,1490.8 931.6,1498.5 940.8,1504.4 950.0,1510.4 959.2,1516.0 968.4,1521.4 977.5,1526.7 986.7,1531.6 995.9,1536.0 1005.1,1540.1 1014.3,1544.5 1023.4,1548.6 1032.6,1552.0 1041.8,1555.4 1051.0,1559.7 1060.2,1564.7 1069.3,1569.6 1078.5,1573.9 1087.7,1577.5 1096.9,1580.7 1106.1,1583.6 1115.2,1586.5 1124.4,1589.4 1133.6,1592.5 1142.8,1595.9 1152.0,1599.6 1161.1,1603.0 1170.3,1605.7 1179.5,1607.8 1188.7,1609.5 1197.9,1611.1 1207.0,1612.6 1216.2,1614.0 1225.4,1615.6 1234.6,1617.3 1243.8,1618.9 1252.9,1620.6 1262.1,1622.3 1271.3,1623.8 1280.5,1625.4 1289.7,1626.9 1298.8,1628.4 1308.0,1629.9 1317.2,1631.3" fill="none" stroke="#22aa55" stroke-width="1.3" stroke-linejoin="round"/>
<g fill="#0000ff"><use href="#m_td" transform="translate(904.1 1473.0) scale(0.95)"/><use href="#m_td" transform="translate(913.3 1482.3) scale(0.95)"/><use href="#m_td" transform="translate(922.5 1490.8) scale(0.95)"/><use href="#m_td" transform="translate(931.6 1498.5) scale(0.95)"/><use href="#m_td" transform="translate(940.8 1504.4) scale(0.95)"/><use href="#m_td" transform="translate(950.0 1510.4) scale(0.95)"/><use href="#m_td" transform="translate(959.2 1516.0) scale(0.95)"/><use href="#m_td" transform="translate(968.4 1521.4) scale(0.95)"/><use href="#m_td" transform="translate(977.5 1526.7) scale(0.95)"/><use href="#m_td" transform="translate(986.7 1531.6) scale(0.95)"/><use href="#m_td" transform="translate(995.9 1536.0) scale(0.95)"/><use href="#m_td" transform="translate(1005.1 1540.1) scale(0.95)"/><use href="#m_td" transform="translate(1014.3 1544.5) scale(0.95)"/><use href="#m_td" transform="translate(1023.4 1548.6) scale(0.95)"/><use href="#m_td" transform="translate(1032.6 1552.0) scale(0.95)"/><use href="#m_td" transform="translate(1041.8 1555.4) scale(0.95)"/><use href="#m_td" transform="translate(1051.0 1559.7) scale(0.95)"/><use href="#m_td" transform="translate(1060.2 1564.7) scale(0.95)"/><use href="#m_td" transform="translate(1069.3 1569.6) scale(0.95)"/><use href="#m_td" transform="translate(1078.5 1573.9) scale(0.95)"/><use href="#m_td" transform="translate(1087.7 1577.5) scale(0.95)"/><use href="#m_td" transform="translate(1096.9 1580.7) scale(0.95)"/><use href="#m_td" transform="translate(1106.1 1583.6) scale(0.95)"/><use href="#m_td" transform="translate(1115.2 1586.5) scale(0.95)"/><use href="#m_td" transform="translate(1124.4 1589.4) scale(0.95)"/><use href="#m_td" transform="translate(1133.6 1592.5) scale(0.95)"/><use href="#m_td" transform="translate(1142.8 1595.9) scale(0.95)"/><use href="#m_td" transform="translate(1152.0 1599.6) scale(0.95)"/><use href="#m_td" transform="translate(1161.1 1603.0) scale(0.95)"/><use href="#m_td" transform="translate(1170.3 1605.7) scale(0.95)"/><use href="#m_td" transform="translate(1179.5 1607.8) scale(0.95)"/><use href="#m_td" transform="translate(1188.7 1609.5) scale(0.95)"/><use href="#m_td" transform="translate(1197.9 1611.1) scale(0.95)"/><use href="#m_td" transform="translate(1207.0 1612.6) scale(0.95)"/><use href="#m_td" transform="translate(1216.2 1614.0) scale(0.95)"/><use href="#m_td" transform="translate(1225.4 1615.6) scale(0.95)"/><use href="#m_td" transform="translate(1234.6 1617.3) scale(0.95)"/><use href="#m_td" transform="translate(1243.8 1618.9) scale(0.95)"/><use href="#m_td" transform="translate(1252.9 1620.6) scale(0.95)"/><use href="#m_td" transform="translate(1262.1 1622.3) scale(0.95)"/><use href="#m_td" transform="translate(1271.3 1623.8) scale(0.95)"/><use href="#m_td" transform="translate(1280.5 1625.4) scale(0.95)"/><use href="#m_td" transform="translate(1289.7 1626.9) scale(0.95)"/><use href="#m_td" transform="translate(1298.8 1628.4) scale(0.95)"/><use href="#m_td" transform="translate(1308.0 1629.9) scale(0.95)"/><use href="#m_td" transform="translate(1317.2 1631.3) scale(0.95)"/></g>
<line x1="1208" y1="1292.5" x2="1251" y2="1292.5" stroke="#333333" stroke-width="1.6"/>
<g fill="#000000"><use href="#m_sq" x="1229.5" y="1292.5"/></g>
<text x="1257.8" y="1304.9" font-size="36">273 K</text>
<line x1="1208" y1="1321.6" x2="1251" y2="1321.6" stroke="#ee3333" stroke-width="1.6"/>
<g fill="#ff0000"><use href="#m_ci" x="1229.5" y="1321.6"/></g>
<text x="1257.8" y="1334.0" font-size="36">293 K</text>
<line x1="1208" y1="1350.3" x2="1251" y2="1350.3" stroke="#4a90e2" stroke-width="1.6"/>
<g fill="#00ff00"><use href="#m_tu" x="1229.5" y="1350.3"/></g>
<text x="1258.2" y="1362.7" font-size="36">313 K</text>
<line x1="1208" y1="1379.2" x2="1251" y2="1379.2" stroke="#3cb371" stroke-width="1.6"/>
<g fill="#0000ff"><use href="#m_td" x="1229.5" y="1379.2"/></g>
<text x="1258.2" y="1391.6" font-size="36">333 K</text>
<text x="1113.0" y="1768.0" font-size="36" text-anchor="middle"><tspan font-style="italic">V</tspan><tspan font-size="22" font-style="italic" dy="7">G</tspan><tspan dy="-7">/V</tspan></text>
<text transform="translate(776 1468) rotate(-90)" font-size="36" text-anchor="middle"><tspan font-style="italic">E</tspan><tspan font-size="22" font-style="italic" dy="7">A</tspan><tspan dy="-7">/eV</tspan></text>
<rect x="143.2" y="1269.5" width="511.0" height="412.4" fill="none" stroke="#1c1c1c" stroke-width="2.3"/>
<path d="M279.7 1681.9v-7M416.3 1681.9v-7M552.9 1681.9v-7" stroke="#1c1c1c" stroke-width="2" fill="none"/>
<path d="M211.4 1681.9v-3.8M348.0 1681.9v-3.8M484.6 1681.9v-3.8M621.2 1681.9v-3.8" stroke="#1c1c1c" stroke-width="2" fill="none"/>
<path d="M143.2 1651.4h6.9M143.2 1606.4h6.9M143.2 1561.3h6.9M143.2 1516.3h6.9M143.2 1471.3h6.9M143.2 1426.2h6.9M143.2 1381.2h6.9M143.2 1336.1h6.9M143.2 1291.1h6.9" stroke="#1c1c1c" stroke-width="2" fill="none"/>
<path d="M143.2 1675.0h3.8M143.2 1669.3h3.8M143.2 1665.0h3.8M143.2 1661.4h3.8M143.2 1658.4h3.8M143.2 1655.8h3.8M143.2 1653.5h3.8M143.2 1637.9h3.8M143.2 1629.9h3.8M143.2 1624.3h3.8M143.2 1619.9h3.8M143.2 1616.4h3.8M143.2 1613.4h3.8M143.2 1610.7h3.8M143.2 1608.4h3.8M143.2 1592.8h3.8M143.2 1584.9h3.8M143.2 1579.3h3.8M143.2 1574.9h3.8M143.2 1571.3h3.8M143.2 1568.3h3.8M143.2 1565.7h3.8M143.2 1563.4h3.8M143.2 1547.8h3.8M143.2 1539.9h3.8M143.2 1534.2h3.8M143.2 1529.9h3.8M143.2 1526.3h3.8M143.2 1523.3h3.8M143.2 1520.7h3.8M143.2 1518.4h3.8M143.2 1502.7h3.8M143.2 1494.8h3.8M143.2 1489.2h3.8M143.2 1484.8h3.8M143.2 1481.3h3.8M143.2 1478.2h3.8M143.2 1475.6h3.8M143.2 1473.3h3.8M143.2 1457.7h3.8M143.2 1449.8h3.8M143.2 1444.1h3.8M143.2 1439.8h3.8M143.2 1436.2h3.8M143.2 1433.2h3.8M143.2 1430.6h3.8M143.2 1428.3h3.8M143.2 1412.7h3.8M143.2 1404.7h3.8M143.2 1399.1h3.8M143.2 1394.7h3.8M143.2 1391.2h3.8M143.2 1388.2h3.8M143.2 1385.5h3.8M143.2 1383.2h3.8M143.2 1367.6h3.8M143.2 1359.7h3.8M143.2 1354.1h3.8M143.2 1349.7h3.8M143.2 1346.1h3.8M143.2 1343.1h3.8M143.2 1340.5h3.8M143.2 1338.2h3.8M143.2 1322.6h3.8M143.2 1314.7h3.8M143.2 1309.0h3.8M143.2 1304.7h3.8M143.2 1301.1h3.8M143.2 1298.1h3.8M143.2 1295.5h3.8M143.2 1293.2h3.8M143.2 1277.5h3.8M143.2 1269.6h3.8" stroke="#1c1c1c" stroke-width="1.6" fill="none"/>
<text x="128.00" y="1345.34" font-size="36" text-anchor="end">10<tspan font-size="21" dy="-12.2">−5</tspan></text>
<text x="128.00" y="1435.42" font-size="36" text-anchor="end">10<tspan font-size="21" dy="-12.2">−7</tspan></text>
<text x="128.00" y="1525.50" font-size="36" text-anchor="end">10<tspan font-size="21" dy="-12.2">−9</tspan></text>
<text x="128.00" y="1615.58" font-size="36" text-anchor="end">10<tspan font-size="21" dy="-12.2">−11</tspan></text>
<text x="122.85" y="1723.85" font-size="36">34</text>
<text x="259.95" y="1723.85" font-size="36">36</text>
<text x="396.42" y="1723.85" font-size="36">38</text>
<text x="533.40" y="1723.85" font-size="36">40</text>
<polyline points="201.2,1444.7 352.8,1523.3 525.6,1622.5" fill="none" stroke="#515151" stroke-width="1.6" stroke-linejoin="round"/>
<g fill="#515151"><use href="#m_sq" transform="translate(201.2 1444.7) scale(0.95)"/><use href="#m_sq" transform="translate(352.8 1523.3) scale(0.95)"/><use href="#m_sq" transform="translate(525.6 1622.5) scale(0.95)"/></g>
<polyline points="201.2,1440.6 352.8,1513.3 525.6,1599.7" fill="none" stroke="#f14040" stroke-width="1.6" stroke-linejoin="round"/>
<g fill="#f14040"><use href="#m_ci" transform="translate(201.2 1440.6) scale(0.95)"/><use href="#m_ci" transform="translate(352.8 1513.3) scale(0.95)"/><use href="#m_ci" transform="translate(525.6 1599.7) scale(0.95)"/></g>
<polyline points="201.2,1434.5 352.8,1507.0 525.6,1576.8" fill="none" stroke="#1a6fdf" stroke-width="1.6" stroke-linejoin="round"/>
<g fill="#1a6fdf"><use href="#m_tu" transform="translate(201.2 1434.5) scale(0.95)"/><use href="#m_tu" transform="translate(352.8 1507.0) scale(0.95)"/><use href="#m_tu" transform="translate(525.6 1576.8) scale(0.95)"/></g>
<polyline points="201.2,1429.3 352.8,1496.9 525.6,1559.3" fill="none" stroke="#37ad6b" stroke-width="1.6" stroke-linejoin="round"/>
<g fill="#37ad6b"><use href="#m_td" transform="translate(201.2 1429.3) scale(0.95)"/><use href="#m_td" transform="translate(352.8 1496.9) scale(0.95)"/><use href="#m_td" transform="translate(525.6 1559.3) scale(0.95)"/></g>
<polyline points="201.2,1422.4 352.8,1485.8 525.6,1540.9" fill="none" stroke="#b177de" stroke-width="1.6" stroke-linejoin="round"/>
<g fill="#b177de"><use href="#m_di" transform="translate(201.2 1422.4) scale(0.95)"/><use href="#m_di" transform="translate(352.8 1485.8) scale(0.95)"/><use href="#m_di" transform="translate(525.6 1540.9) scale(0.95)"/></g>
<polyline points="201.2,1416.2 352.8,1476.0 525.6,1521.6" fill="none" stroke="#cc9900" stroke-width="1.6" stroke-linejoin="round"/>
<g fill="#cc9900"><use href="#m_tl" transform="translate(201.2 1416.2) scale(0.95)"/><use href="#m_tl" transform="translate(352.8 1476.0) scale(0.95)"/><use href="#m_tl" transform="translate(525.6 1521.6) scale(0.95)"/></g>
<polyline points="201.2,1410.8 352.8,1469.1 525.6,1510.7" fill="none" stroke="#00cbcc" stroke-width="1.6" stroke-linejoin="round"/>
<g fill="#00cbcc"><use href="#m_tr" transform="translate(201.2 1410.8) scale(0.95)"/><use href="#m_tr" transform="translate(352.8 1469.1) scale(0.95)"/><use href="#m_tr" transform="translate(525.6 1510.7) scale(0.95)"/></g>
<polyline points="201.2,1405.6 352.8,1461.6 525.6,1499.2" fill="none" stroke="#7d4e4e" stroke-width="1.6" stroke-linejoin="round"/>
<g fill="#7d4e4e"><use href="#m_hx" transform="translate(201.2 1405.6) scale(0.95)"/><use href="#m_hx" transform="translate(352.8 1461.6) scale(0.95)"/><use href="#m_hx" transform="translate(525.6 1499.2) scale(0.95)"/></g>
<polyline points="201.2,1399.9 352.8,1456.5 525.6,1488.8" fill="none" stroke="#8e8e00" stroke-width="1.6" stroke-linejoin="round"/>
<g fill="#8e8e00"><use href="#m_st" transform="translate(201.2 1399.9) scale(0.95)"/><use href="#m_st" transform="translate(352.8 1456.5) scale(0.95)"/><use href="#m_st" transform="translate(525.6 1488.8) scale(0.95)"/></g>
<polyline points="201.2,1396.7 352.8,1451.9 525.6,1480.0" fill="none" stroke="#fb6501" stroke-width="1.6" stroke-linejoin="round"/>
<g fill="#fb6501"><use href="#m_pe" transform="translate(201.2 1396.7) scale(0.95)"/><use href="#m_pe" transform="translate(352.8 1451.9) scale(0.95)"/><use href="#m_pe" transform="translate(525.6 1480.0) scale(0.95)"/></g>
<polyline points="201.2,1395.0 352.8,1442.8 525.6,1468.4" fill="none" stroke="#6699cc" stroke-width="1.6" stroke-linejoin="round"/>
<g fill="#6699cc"><use href="#m_ci" transform="translate(201.2 1395.0) scale(0.95)"/><use href="#m_ci" transform="translate(352.8 1442.8) scale(0.95)"/><use href="#m_ci" transform="translate(525.6 1468.4) scale(0.95)"/></g>
<polyline points="201.2,1390.8 352.8,1436.9 525.6,1460.1" fill="none" stroke="#6fb802" stroke-width="1.6" stroke-linejoin="round"/>
<g fill="#6fb802" stroke="#6fb802"><use href="#m_pl" transform="translate(201.2 1390.8) scale(0.95)"/><use href="#m_pl" transform="translate(352.8 1436.9) scale(0.95)"/><use href="#m_pl" transform="translate(525.6 1460.1) scale(0.95)"/></g>
<polyline points="201.2,1386.6 352.8,1432.0 525.6,1450.2" fill="none" stroke="#515151" stroke-width="1.6" stroke-linejoin="round"/>
<g fill="#515151" stroke="#515151"><use href="#m_x" transform="translate(201.2 1386.6) scale(0.95)"/><use href="#m_x" transform="translate(352.8 1432.0) scale(0.95)"/><use href="#m_x" transform="translate(525.6 1450.2) scale(0.95)"/></g>
<polyline points="201.2,1384.2 352.8,1426.8 525.6,1443.3" fill="none" stroke="#f14040" stroke-width="1.6" stroke-linejoin="round"/>
<g fill="#f14040" stroke="#f14040"><use href="#m_as" transform="translate(201.2 1384.2) scale(0.95)"/><use href="#m_as" transform="translate(352.8 1426.8) scale(0.95)"/><use href="#m_as" transform="translate(525.6 1443.3) scale(0.95)"/></g>
<polyline points="201.2,1381.6 352.8,1420.4 525.6,1434.4" fill="none" stroke="#1a6fdf" stroke-width="1.6" stroke-linejoin="round"/>
<g fill="#1a6fdf"><use href="#m_sq" transform="translate(201.2 1381.6) scale(0.95)"/><use href="#m_sq" transform="translate(352.8 1420.4) scale(0.95)"/><use href="#m_sq" transform="translate(525.6 1434.4) scale(0.95)"/></g>
<polyline points="201.2,1377.1 352.8,1417.2 525.6,1429.2" fill="none" stroke="#37ad6b" stroke-width="1.6" stroke-linejoin="round"/>
<g fill="#37ad6b"><use href="#m_ci" transform="translate(201.2 1377.1) scale(0.95)"/><use href="#m_ci" transform="translate(352.8 1417.2) scale(0.95)"/><use href="#m_ci" transform="translate(525.6 1429.2) scale(0.95)"/></g>
<polyline points="201.2,1375.2 352.8,1411.8 525.6,1424.3" fill="none" stroke="#b177de" stroke-width="1.6" stroke-linejoin="round"/>
<g fill="#b177de"><use href="#m_tu" transform="translate(201.2 1375.2) scale(0.95)"/><use href="#m_tu" transform="translate(352.8 1411.8) scale(0.95)"/><use href="#m_tu" transform="translate(525.6 1424.3) scale(0.95)"/></g>
<polyline points="201.2,1370.0 352.8,1408.5 525.6,1417.4" fill="none" stroke="#cc9900" stroke-width="1.6" stroke-linejoin="round"/>
<g fill="#cc9900"><use href="#m_td" transform="translate(201.2 1370.0) scale(0.95)"/><use href="#m_td" transform="translate(352.8 1408.5) scale(0.95)"/><use href="#m_td" transform="translate(525.6 1417.4) scale(0.95)"/></g>
<polyline points="201.2,1367.6 352.8,1403.0 525.6,1410.9" fill="none" stroke="#00cbcc" stroke-width="1.6" stroke-linejoin="round"/>
<g fill="#00cbcc"><use href="#m_di" transform="translate(201.2 1367.6) scale(0.95)"/><use href="#m_di" transform="translate(352.8 1403.0) scale(0.95)"/><use href="#m_di" transform="translate(525.6 1410.9) scale(0.95)"/></g>
<polyline points="201.2,1363.8 352.8,1399.8 525.6,1405.0" fill="none" stroke="#7d4e4e" stroke-width="1.6" stroke-linejoin="round"/>
<g fill="#7d4e4e"><use href="#m_tl" transform="translate(201.2 1363.8) scale(0.95)"/><use href="#m_tl" transform="translate(352.8 1399.8) scale(0.95)"/><use href="#m_tl" transform="translate(525.6 1405.0) scale(0.95)"/></g>
<polyline points="201.2,1360.7 352.8,1396.1 525.6,1400.2" fill="none" stroke="#8e8e00" stroke-width="1.6" stroke-linejoin="round"/>
<g fill="#8e8e00"><use href="#m_tr" transform="translate(201.2 1360.7) scale(0.95)"/><use href="#m_tr" transform="translate(352.8 1396.1) scale(0.95)"/><use href="#m_tr" transform="translate(525.6 1400.2) scale(0.95)"/></g>
<polyline points="201.2,1358.9 352.8,1392.3 525.6,1397.9" fill="none" stroke="#fb6501" stroke-width="1.6" stroke-linejoin="round"/>
<g fill="#fb6501"><use href="#m_hx" transform="translate(201.2 1358.9) scale(0.95)"/><use href="#m_hx" transform="translate(352.8 1392.3) scale(0.95)"/><use href="#m_hx" transform="translate(525.6 1397.9) scale(0.95)"/></g>
<polyline points="201.2,1356.6 352.8,1388.2 525.6,1394.1" fill="none" stroke="#6699cc" stroke-width="1.6" stroke-linejoin="round"/>
<g fill="#6699cc"><use href="#m_st" transform="translate(201.2 1356.6) scale(0.95)"/><use href="#m_st" transform="translate(352.8 1388.2) scale(0.95)"/><use href="#m_st" transform="translate(525.6 1394.1) scale(0.95)"/></g>
<polyline points="201.2,1353.1 352.8,1385.1 525.6,1388.8" fill="none" stroke="#6fb802" stroke-width="1.6" stroke-linejoin="round"/>
<g fill="#6fb802"><use href="#m_pe" transform="translate(201.2 1353.1) scale(0.95)"/><use href="#m_pe" transform="translate(352.8 1385.1) scale(0.95)"/><use href="#m_pe" transform="translate(525.6 1388.8) scale(0.95)"/></g>
<polyline points="201.2,1353.2 352.8,1382.2 525.6,1384.8" fill="none" stroke="#515151" stroke-width="1.6" stroke-linejoin="round"/>
<g fill="#515151"><use href="#m_ci" transform="translate(201.2 1353.2) scale(0.95)"/><use href="#m_ci" transform="translate(352.8 1382.2) scale(0.95)"/><use href="#m_ci" transform="translate(525.6 1384.8) scale(0.95)"/></g>
<polyline points="201.2,1349.4 352.8,1378.8 525.6,1384.2" fill="none" stroke="#f14040" stroke-width="1.6" stroke-linejoin="round"/>
<g fill="#f14040" stroke="#f14040"><use href="#m_pl" transform="translate(201.2 1349.4) scale(0.95)"/><use href="#m_pl" transform="translate(352.8 1378.8) scale(0.95)"/><use href="#m_pl" transform="translate(525.6 1384.2) scale(0.95)"/></g>
<polyline points="201.2,1345.7 352.8,1376.4 525.6,1378.2" fill="none" stroke="#1a6fdf" stroke-width="1.6" stroke-linejoin="round"/>
<g fill="#1a6fdf" stroke="#1a6fdf"><use href="#m_x" transform="translate(201.2 1345.7) scale(0.95)"/><use href="#m_x" transform="translate(352.8 1376.4) scale(0.95)"/><use href="#m_x" transform="translate(525.6 1378.2) scale(0.95)"/></g>
<polyline points="201.2,1345.6 352.8,1372.0 525.6,1376.4" fill="none" stroke="#37ad6b" stroke-width="1.6" stroke-linejoin="round"/>
<g fill="#37ad6b" stroke="#37ad6b"><use href="#m_as" transform="translate(201.2 1345.6) scale(0.95)"/><use href="#m_as" transform="translate(352.8 1372.0) scale(0.95)"/><use href="#m_as" transform="translate(525.6 1376.4) scale(0.95)"/></g>
<polyline points="201.2,1340.9 352.8,1370.5 525.6,1374.1" fill="none" stroke="#b177de" stroke-width="1.6" stroke-linejoin="round"/>
<g fill="#b177de"><use href="#m_sq" transform="translate(201.2 1340.9) scale(0.95)"/><use href="#m_sq" transform="translate(352.8 1370.5) scale(0.95)"/><use href="#m_sq" transform="translate(525.6 1374.1) scale(0.95)"/></g>
<polyline points="201.2,1337.5 352.8,1367.5 525.6,1371.6" fill="none" stroke="#cc9900" stroke-width="1.6" stroke-linejoin="round"/>
<g fill="#cc9900"><use href="#m_ci" transform="translate(201.2 1337.5) scale(0.95)"/><use href="#m_ci" transform="translate(352.8 1367.5) scale(0.95)"/><use href="#m_ci" transform="translate(525.6 1371.6) scale(0.95)"/></g>
<polyline points="201.2,1337.7 352.8,1365.0 525.6,1367.5" fill="none" stroke="#00cbcc" stroke-width="1.6" stroke-linejoin="round"/>
<g fill="#00cbcc"><use href="#m_tu" transform="translate(201.2 1337.7) scale(0.95)"/><use href="#m_tu" transform="translate(352.8 1365.0) scale(0.95)"/><use href="#m_tu" transform="translate(525.6 1367.5) scale(0.95)"/></g>
<polyline points="201.2,1334.1 352.8,1362.1 525.6,1367.8" fill="none" stroke="#7d4e4e" stroke-width="1.6" stroke-linejoin="round"/>
<g fill="#7d4e4e"><use href="#m_td" transform="translate(201.2 1334.1) scale(0.95)"/><use href="#m_td" transform="translate(352.8 1362.1) scale(0.95)"/><use href="#m_td" transform="translate(525.6 1367.8) scale(0.95)"/></g>
<polyline points="201.2,1332.9 352.8,1358.0 525.6,1363.2" fill="none" stroke="#8e8e00" stroke-width="1.6" stroke-linejoin="round"/>
<g fill="#8e8e00"><use href="#m_di" transform="translate(201.2 1332.9) scale(0.95)"/><use href="#m_di" transform="translate(352.8 1358.0) scale(0.95)"/><use href="#m_di" transform="translate(525.6 1363.2) scale(0.95)"/></g>
<polyline points="201.2,1331.4 352.8,1357.4 525.6,1361.9" fill="none" stroke="#fb6501" stroke-width="1.6" stroke-linejoin="round"/>
<g fill="#fb6501"><use href="#m_tl" transform="translate(201.2 1331.4) scale(0.95)"/><use href="#m_tl" transform="translate(352.8 1357.4) scale(0.95)"/><use href="#m_tl" transform="translate(525.6 1361.9) scale(0.95)"/></g>
<polyline points="201.2,1332.1 352.8,1355.7 525.6,1358.8" fill="none" stroke="#6699cc" stroke-width="1.6" stroke-linejoin="round"/>
<g fill="#6699cc"><use href="#m_tr" transform="translate(201.2 1332.1) scale(0.95)"/><use href="#m_tr" transform="translate(352.8 1355.7) scale(0.95)"/><use href="#m_tr" transform="translate(525.6 1358.8) scale(0.95)"/></g>
<polyline points="201.2,1330.0 352.8,1350.3 525.6,1357.7" fill="none" stroke="#6fb802" stroke-width="1.6" stroke-linejoin="round"/>
<g fill="#6fb802"><use href="#m_hx" transform="translate(201.2 1330.0) scale(0.95)"/><use href="#m_hx" transform="translate(352.8 1350.3) scale(0.95)"/><use href="#m_hx" transform="translate(525.6 1357.7) scale(0.95)"/></g>
<polyline points="201.2,1328.5 352.8,1349.8 525.6,1354.3" fill="none" stroke="#515151" stroke-width="1.6" stroke-linejoin="round"/>
<g fill="#515151"><use href="#m_st" transform="translate(201.2 1328.5) scale(0.95)"/><use href="#m_st" transform="translate(352.8 1349.8) scale(0.95)"/><use href="#m_st" transform="translate(525.6 1354.3) scale(0.95)"/></g>
<polyline points="201.2,1326.0 352.8,1349.9 525.6,1353.9" fill="none" stroke="#f14040" stroke-width="1.6" stroke-linejoin="round"/>
<g fill="#f14040"><use href="#m_pe" transform="translate(201.2 1326.0) scale(0.95)"/><use href="#m_pe" transform="translate(352.8 1349.9) scale(0.95)"/><use href="#m_pe" transform="translate(525.6 1353.9) scale(0.95)"/></g>
<polyline points="201.2,1323.8 352.8,1347.6 525.6,1353.3" fill="none" stroke="#1a6fdf" stroke-width="1.6" stroke-linejoin="round"/>
<g fill="#1a6fdf"><use href="#m_ci" transform="translate(201.2 1323.8) scale(0.95)"/><use href="#m_ci" transform="translate(352.8 1347.6) scale(0.95)"/><use href="#m_ci" transform="translate(525.6 1353.3) scale(0.95)"/></g>
<polyline points="201.2,1322.9 352.8,1345.5 525.6,1352.1" fill="none" stroke="#37ad6b" stroke-width="1.6" stroke-linejoin="round"/>
<g fill="#37ad6b" stroke="#37ad6b"><use href="#m_pl" transform="translate(201.2 1322.9) scale(0.95)"/><use href="#m_pl" transform="translate(352.8 1345.5) scale(0.95)"/><use href="#m_pl" transform="translate(525.6 1352.1) scale(0.95)"/></g>
<polyline points="201.2,1323.0 352.8,1344.9 525.6,1349.4" fill="none" stroke="#b177de" stroke-width="1.6" stroke-linejoin="round"/>
<g fill="#b177de" stroke="#b177de"><use href="#m_x" transform="translate(201.2 1323.0) scale(0.95)"/><use href="#m_x" transform="translate(352.8 1344.9) scale(0.95)"/><use href="#m_x" transform="translate(525.6 1349.4) scale(0.95)"/></g>
<polyline points="201.2,1321.5 352.8,1341.9 525.6,1347.6" fill="none" stroke="#cc9900" stroke-width="1.6" stroke-linejoin="round"/>
<g fill="#cc9900" stroke="#cc9900"><use href="#m_as" transform="translate(201.2 1321.5) scale(0.95)"/><use href="#m_as" transform="translate(352.8 1341.9) scale(0.95)"/><use href="#m_as" transform="translate(525.6 1347.6) scale(0.95)"/></g>
<polyline points="201.2,1322.0 352.8,1341.3 525.6,1346.1" fill="none" stroke="#00cbcc" stroke-width="1.6" stroke-linejoin="round"/>
<g fill="#00cbcc"><use href="#m_sq" transform="translate(201.2 1322.0) scale(0.95)"/><use href="#m_sq" transform="translate(352.8 1341.3) scale(0.95)"/><use href="#m_sq" transform="translate(525.6 1346.1) scale(0.95)"/></g>
<polyline points="201.2,1319.3 352.8,1339.6 525.6,1346.2" fill="none" stroke="#7d4e4e" stroke-width="1.6" stroke-linejoin="round"/>
<g fill="#7d4e4e"><use href="#m_ci" transform="translate(201.2 1319.3) scale(0.95)"/><use href="#m_ci" transform="translate(352.8 1339.6) scale(0.95)"/><use href="#m_ci" transform="translate(525.6 1346.2) scale(0.95)"/></g>
<polyline points="201.2,1319.7 352.8,1338.6 525.6,1345.4" fill="none" stroke="#8e8e00" stroke-width="1.6" stroke-linejoin="round"/>
<g fill="#8e8e00"><use href="#m_tu" transform="translate(201.2 1319.7) scale(0.95)"/><use href="#m_tu" transform="translate(352.8 1338.6) scale(0.95)"/><use href="#m_tu" transform="translate(525.6 1345.4) scale(0.95)"/></g>
<polyline points="201.2,1320.1 352.8,1337.5 525.6,1344.0" fill="none" stroke="#fb6501" stroke-width="1.6" stroke-linejoin="round"/>
<g fill="#fb6501" stroke="#fb6501"><use href="#m_as" transform="translate(201.2 1320.1) scale(0.95)"/><use href="#m_as" transform="translate(352.8 1337.5) scale(0.95)"/><use href="#m_as" transform="translate(525.6 1344.0) scale(0.95)"/></g>
<polyline points="201.2,1306.4 352.8,1333.0" fill="none" stroke="#cc9900" stroke-width="1.8" stroke-linejoin="round"/>
<path d="M454.5 1617.7 Q494.8 1443.7 466 1330" fill="none" stroke="#000" stroke-width="2.2"/>
<polygon points="454.5,1314.5 482,1325.5 465.5,1336.5" fill="#000"/>
<text x="414.00" y="1310.30" font-size="36" fill="#f29400">10 V</text>
<text x="424.85" y="1651.97" font-size="36" fill="#000">1 V</text>
<text x="173.90" y="1580.90" font-size="35.5" fill="#000">Step = 0.2 V</text>
<text x="315" y="1761" font-size="36">(1/k<tspan font-style="italic">T</tspan>)/eV<tspan font-size="21" dy="-12.5">−1</tspan></text>
<text transform="translate(48.0 1476.0) rotate(-90)" font-size="36" text-anchor="middle"><tspan font-style="italic">I</tspan><tspan font-size="22" font-style="italic" dy="7">D</tspan><tspan dy="-7">/A</tspan></text>
<rect x="1572.2" y="1254.4" width="505.9" height="412.5" fill="none" stroke="#1c1c1c" stroke-width="2.3"/>
<path d="M1672.5 1666.9v-7M1773.9 1666.9v-7M1875.3 1666.9v-7M1976.7 1666.9v-7" stroke="#1c1c1c" stroke-width="2" fill="none"/>
<path d="M1621.8 1666.9v-3.8M1723.2 1666.9v-3.8M1824.6 1666.9v-3.8M1926.0 1666.9v-3.8M2027.4 1666.9v-3.8" stroke="#1c1c1c" stroke-width="2" fill="none"/>
<path d="M1572.2 1639.4h7M1572.2 1584.4h7M1572.2 1529.4h7M1572.2 1474.4h7M1572.2 1419.4h7M1572.2 1364.4h7M1572.2 1309.4h7" stroke="#1c1c1c" stroke-width="2" fill="none"/>
<path d="M1572.2 1611.9h3.8M1572.2 1556.9h3.8M1572.2 1501.9h3.8M1572.2 1446.9h3.8M1572.2 1391.9h3.8M1572.2 1336.9h3.8M1572.2 1281.9h3.8" stroke="#1c1c1c" stroke-width="2" fill="none"/>
<text x="1556.60" y="1267.40" font-size="36" text-anchor="end">3.5×10<tspan font-size="21" dy="-13.0">29</tspan></text>
<text x="1556.60" y="1322.40" font-size="36" text-anchor="end">3.0×10<tspan font-size="21" dy="-13.0">29</tspan></text>
<text x="1556.60" y="1377.40" font-size="36" text-anchor="end">2.5×10<tspan font-size="21" dy="-13.0">29</tspan></text>
<text x="1556.60" y="1432.40" font-size="36" text-anchor="end">2.0×10<tspan font-size="21" dy="-13.0">29</tspan></text>
<text x="1556.60" y="1487.40" font-size="36" text-anchor="end">1.5×10<tspan font-size="21" dy="-13.0">29</tspan></text>
<text x="1556.60" y="1542.40" font-size="36" text-anchor="end">1.0×10<tspan font-size="21" dy="-13.0">29</tspan></text>
<text x="1556.60" y="1597.40" font-size="36" text-anchor="end">5.0×10<tspan font-size="21" dy="-13.0">28</tspan></text>
<text x="1483.00" y="1651.20" font-size="36">0.0</text>
<text x="1546.10" y="1708.25" font-size="36">0.0</text>
<text x="1647.25" y="1708.25" font-size="36">0.1</text>
<text x="1748.90" y="1708.25" font-size="36">0.2</text>
<text x="1850.17" y="1708.25" font-size="36">0.3</text>
<text x="1951.07" y="1708.25" font-size="36">0.4</text>
<text x="2052.85" y="1708.25" font-size="36">0.5</text>
<polyline points="2040.9,1631.1 1968.8,1631.0 1936.2,1626.8 1912.4,1622.3 1888.6,1615.7 1867.5,1608.9 1849.2,1612.2 1833.0,1597.6 1818.6,1599.8 1805.8,1594.6 1794.0,1581.3 1782.6,1575.0 1771.8,1574.0 1761.7,1558.3 1752.4,1562.6 1744.2,1553.7 1736.9,1548.4 1730.4,1539.0 1724.5,1539.7 1719.1,1529.6 1714.3,1530.3 1710.1,1519.4 1706.1,1520.9 1702.1,1514.7 1697.8,1501.8 1693.0,1500.4 1686.6,1492.8 1679.1,1475.9 1672.1,1472.1 1667.4,1468.1 1664.8,1458.0 1662.7,1460.1 1661.1,1448.8 1659.6,1445.1 1658.0,1447.3 1656.3,1443.0 1654.3,1435.1 1652.4,1429.9 1650.4,1427.0 1648.4,1415.2 1646.4,1416.6 1644.4,1403.5 1642.3,1395.0 1640.2,1385.2 1638.1,1362.5 1636.0,1341.0" fill="none" stroke="#515151" stroke-width="1.5" stroke-linejoin="round"/>
<g fill="#515151"><use href="#m_sq" transform="translate(2040.9 1631.1) scale(0.85)"/><use href="#m_sq" transform="translate(1968.8 1631.0) scale(0.85)"/><use href="#m_sq" transform="translate(1936.2 1626.8) scale(0.85)"/><use href="#m_sq" transform="translate(1912.4 1622.3) scale(0.85)"/><use href="#m_sq" transform="translate(1888.6 1615.7) scale(0.85)"/><use href="#m_sq" transform="translate(1867.5 1608.9) scale(0.85)"/><use href="#m_sq" transform="translate(1849.2 1612.2) scale(0.85)"/><use href="#m_sq" transform="translate(1833.0 1597.6) scale(0.85)"/><use href="#m_sq" transform="translate(1818.6 1599.8) scale(0.85)"/><use href="#m_sq" transform="translate(1805.8 1594.6) scale(0.85)"/><use href="#m_sq" transform="translate(1794.0 1581.3) scale(0.85)"/><use href="#m_sq" transform="translate(1782.6 1575.0) scale(0.85)"/><use href="#m_sq" transform="translate(1771.8 1574.0) scale(0.85)"/><use href="#m_sq" transform="translate(1761.7 1558.3) scale(0.85)"/><use href="#m_sq" transform="translate(1752.4 1562.6) scale(0.85)"/><use href="#m_sq" transform="translate(1744.2 1553.7) scale(0.85)"/><use href="#m_sq" transform="translate(1736.9 1548.4) scale(0.85)"/><use href="#m_sq" transform="translate(1730.4 1539.0) scale(0.85)"/><use href="#m_sq" transform="translate(1724.5 1539.7) scale(0.85)"/><use href="#m_sq" transform="translate(1719.1 1529.6) scale(0.85)"/><use href="#m_sq" transform="translate(1714.3 1530.3) scale(0.85)"/><use href="#m_sq" transform="translate(1710.1 1519.4) scale(0.85)"/><use href="#m_sq" transform="translate(1706.1 1520.9) scale(0.85)"/><use href="#m_sq" transform="translate(1702.1 1514.7) scale(0.85)"/><use href="#m_sq" transform="translate(1697.8 1501.8) scale(0.85)"/><use href="#m_sq" transform="translate(1693.0 1500.4) scale(0.85)"/><use href="#m_sq" transform="translate(1686.6 1492.8) scale(0.85)"/><use href="#m_sq" transform="translate(1679.1 1475.9) scale(0.85)"/><use href="#m_sq" transform="translate(1672.1 1472.1) scale(0.85)"/><use href="#m_sq" transform="translate(1667.4 1468.1) scale(0.85)"/><use href="#m_sq" transform="translate(1664.8 1458.0) scale(0.85)"/><use href="#m_sq" transform="translate(1662.7 1460.1) scale(0.85)"/><use href="#m_sq" transform="translate(1661.1 1448.8) scale(0.85)"/><use href="#m_sq" transform="translate(1659.6 1445.1) scale(0.85)"/><use href="#m_sq" transform="translate(1658.0 1447.3) scale(0.85)"/><use href="#m_sq" transform="translate(1656.3 1443.0) scale(0.85)"/><use href="#m_sq" transform="translate(1654.3 1435.1) scale(0.85)"/><use href="#m_sq" transform="translate(1652.4 1429.9) scale(0.85)"/><use href="#m_sq" transform="translate(1650.4 1427.0) scale(0.85)"/><use href="#m_sq" transform="translate(1648.4 1415.2) scale(0.85)"/><use href="#m_sq" transform="translate(1646.4 1416.6) scale(0.85)"/><use href="#m_sq" transform="translate(1644.4 1403.5) scale(0.85)"/><use href="#m_sq" transform="translate(1642.3 1395.0) scale(0.85)"/><use href="#m_sq" transform="translate(1640.2 1385.2) scale(0.85)"/><use href="#m_sq" transform="translate(1638.1 1362.5) scale(0.85)"/><use href="#m_sq" transform="translate(1636.0 1341.0) scale(0.85)"/></g>
<polyline points="2004.4,1616.0 1975.1,1618.5 1944.8,1619.1 1918.7,1618.4 1896.1,1614.5 1873.8,1605.6 1856.9,1602.5 1842.3,1596.0 1828.7,1589.9 1816.3,1584.8 1804.7,1576.7 1794.3,1577.2 1785.2,1575.7 1776.6,1565.2 1768.0,1563.7 1759.9,1556.5 1752.5,1554.5 1745.5,1543.8 1739.0,1538.4 1733.2,1533.3 1727.8,1529.8 1722.4,1526.4 1717.0,1523.4 1711.9,1519.6 1707.0,1512.6 1702.2,1512.2 1697.6,1498.3 1693.1,1497.1 1688.7,1485.8 1684.6,1481.7 1680.6,1474.7 1676.8,1460.1 1673.2,1461.1 1669.7,1457.9 1666.5,1449.7 1663.4,1442.3 1660.5,1428.1 1657.8,1428.5 1655.2,1420.1 1652.6,1420.3 1650.2,1409.3 1647.8,1401.4 1645.4,1389.9 1643.2,1389.6 1641.0,1376.6 1638.8,1368.9" fill="none" stroke="#f14040" stroke-width="1.5" stroke-linejoin="round"/>
<g fill="#f14040"><use href="#m_ci" transform="translate(2004.4 1616.0) scale(0.85)"/><use href="#m_ci" transform="translate(1975.1 1618.5) scale(0.85)"/><use href="#m_ci" transform="translate(1944.8 1619.1) scale(0.85)"/><use href="#m_ci" transform="translate(1918.7 1618.4) scale(0.85)"/><use href="#m_ci" transform="translate(1896.1 1614.5) scale(0.85)"/><use href="#m_ci" transform="translate(1873.8 1605.6) scale(0.85)"/><use href="#m_ci" transform="translate(1856.9 1602.5) scale(0.85)"/><use href="#m_ci" transform="translate(1842.3 1596.0) scale(0.85)"/><use href="#m_ci" transform="translate(1828.7 1589.9) scale(0.85)"/><use href="#m_ci" transform="translate(1816.3 1584.8) scale(0.85)"/><use href="#m_ci" transform="translate(1804.7 1576.7) scale(0.85)"/><use href="#m_ci" transform="translate(1794.3 1577.2) scale(0.85)"/><use href="#m_ci" transform="translate(1785.2 1575.7) scale(0.85)"/><use href="#m_ci" transform="translate(1776.6 1565.2) scale(0.85)"/><use href="#m_ci" transform="translate(1768.0 1563.7) scale(0.85)"/><use href="#m_ci" transform="translate(1759.9 1556.5) scale(0.85)"/><use href="#m_ci" transform="translate(1752.5 1554.5) scale(0.85)"/><use href="#m_ci" transform="translate(1745.5 1543.8) scale(0.85)"/><use href="#m_ci" transform="translate(1739.0 1538.4) scale(0.85)"/><use href="#m_ci" transform="translate(1733.2 1533.3) scale(0.85)"/><use href="#m_ci" transform="translate(1727.8 1529.8) scale(0.85)"/><use href="#m_ci" transform="translate(1722.4 1526.4) scale(0.85)"/><use href="#m_ci" transform="translate(1717.0 1523.4) scale(0.85)"/><use href="#m_ci" transform="translate(1711.9 1519.6) scale(0.85)"/><use href="#m_ci" transform="translate(1707.0 1512.6) scale(0.85)"/><use href="#m_ci" transform="translate(1702.2 1512.2) scale(0.85)"/><use href="#m_ci" transform="translate(1697.6 1498.3) scale(0.85)"/><use href="#m_ci" transform="translate(1693.1 1497.1) scale(0.85)"/><use href="#m_ci" transform="translate(1688.7 1485.8) scale(0.85)"/><use href="#m_ci" transform="translate(1684.6 1481.7) scale(0.85)"/><use href="#m_ci" transform="translate(1680.6 1474.7) scale(0.85)"/><use href="#m_ci" transform="translate(1676.8 1460.1) scale(0.85)"/><use href="#m_ci" transform="translate(1673.2 1461.1) scale(0.85)"/><use href="#m_ci" transform="translate(1669.7 1457.9) scale(0.85)"/><use href="#m_ci" transform="translate(1666.5 1449.7) scale(0.85)"/><use href="#m_ci" transform="translate(1663.4 1442.3) scale(0.85)"/><use href="#m_ci" transform="translate(1660.5 1428.1) scale(0.85)"/><use href="#m_ci" transform="translate(1657.8 1428.5) scale(0.85)"/><use href="#m_ci" transform="translate(1655.2 1420.1) scale(0.85)"/><use href="#m_ci" transform="translate(1652.6 1420.3) scale(0.85)"/><use href="#m_ci" transform="translate(1650.2 1409.3) scale(0.85)"/><use href="#m_ci" transform="translate(1647.8 1401.4) scale(0.85)"/><use href="#m_ci" transform="translate(1645.4 1389.9) scale(0.85)"/><use href="#m_ci" transform="translate(1643.2 1389.6) scale(0.85)"/><use href="#m_ci" transform="translate(1641.0 1376.6) scale(0.85)"/><use href="#m_ci" transform="translate(1638.8 1368.9) scale(0.85)"/></g>
<polyline points="1899.8,1595.7 1886.3,1592.0 1872.7,1591.8 1860.2,1597.1 1847.6,1583.3 1836.2,1578.8 1824.9,1578.0 1814.3,1577.0 1804.6,1563.8 1795.4,1563.7 1786.3,1556.3 1777.6,1549.2 1769.1,1549.6 1760.9,1539.5 1752.7,1537.9 1745.3,1533.6 1739.5,1531.1 1734.5,1528.7 1729.8,1523.0 1725.2,1524.0 1720.6,1522.3 1716.3,1519.9 1712.0,1514.4 1707.7,1514.4 1703.4,1508.4 1698.9,1501.4 1693.8,1496.4 1688.5,1487.2 1683.5,1481.2 1679.6,1466.4 1676.8,1463.9 1674.5,1462.7 1672.5,1460.6 1670.6,1449.5 1668.6,1451.6 1666.4,1448.2 1663.9,1441.4 1661.3,1435.2 1658.6,1424.8 1655.9,1422.3 1653.2,1407.4 1650.6,1408.5 1647.9,1393.8 1645.2,1389.4 1642.5,1369.4 1639.8,1365.5" fill="none" stroke="#1a6fdf" stroke-width="1.5" stroke-linejoin="round"/>
<g fill="#1a6fdf"><use href="#m_tu" transform="translate(1899.8 1595.7) scale(0.85)"/><use href="#m_tu" transform="translate(1886.3 1592.0) scale(0.85)"/><use href="#m_tu" transform="translate(1872.7 1591.8) scale(0.85)"/><use href="#m_tu" transform="translate(1860.2 1597.1) scale(0.85)"/><use href="#m_tu" transform="translate(1847.6 1583.3) scale(0.85)"/><use href="#m_tu" transform="translate(1836.2 1578.8) scale(0.85)"/><use href="#m_tu" transform="translate(1824.9 1578.0) scale(0.85)"/><use href="#m_tu" transform="translate(1814.3 1577.0) scale(0.85)"/><use href="#m_tu" transform="translate(1804.6 1563.8) scale(0.85)"/><use href="#m_tu" transform="translate(1795.4 1563.7) scale(0.85)"/><use href="#m_tu" transform="translate(1786.3 1556.3) scale(0.85)"/><use href="#m_tu" transform="translate(1777.6 1549.2) scale(0.85)"/><use href="#m_tu" transform="translate(1769.1 1549.6) scale(0.85)"/><use href="#m_tu" transform="translate(1760.9 1539.5) scale(0.85)"/><use href="#m_tu" transform="translate(1752.7 1537.9) scale(0.85)"/><use href="#m_tu" transform="translate(1745.3 1533.6) scale(0.85)"/><use href="#m_tu" transform="translate(1739.5 1531.1) scale(0.85)"/><use href="#m_tu" transform="translate(1734.5 1528.7) scale(0.85)"/><use href="#m_tu" transform="translate(1729.8 1523.0) scale(0.85)"/><use href="#m_tu" transform="translate(1725.2 1524.0) scale(0.85)"/><use href="#m_tu" transform="translate(1720.6 1522.3) scale(0.85)"/><use href="#m_tu" transform="translate(1716.3 1519.9) scale(0.85)"/><use href="#m_tu" transform="translate(1712.0 1514.4) scale(0.85)"/><use href="#m_tu" transform="translate(1707.7 1514.4) scale(0.85)"/><use href="#m_tu" transform="translate(1703.4 1508.4) scale(0.85)"/><use href="#m_tu" transform="translate(1698.9 1501.4) scale(0.85)"/><use href="#m_tu" transform="translate(1693.8 1496.4) scale(0.85)"/><use href="#m_tu" transform="translate(1688.5 1487.2) scale(0.85)"/><use href="#m_tu" transform="translate(1683.5 1481.2) scale(0.85)"/><use href="#m_tu" transform="translate(1679.6 1466.4) scale(0.85)"/><use href="#m_tu" transform="translate(1676.8 1463.9) scale(0.85)"/><use href="#m_tu" transform="translate(1674.5 1462.7) scale(0.85)"/><use href="#m_tu" transform="translate(1672.5 1460.6) scale(0.85)"/><use href="#m_tu" transform="translate(1670.6 1449.5) scale(0.85)"/><use href="#m_tu" transform="translate(1668.6 1451.6) scale(0.85)"/><use href="#m_tu" transform="translate(1666.4 1448.2) scale(0.85)"/><use href="#m_tu" transform="translate(1663.9 1441.4) scale(0.85)"/><use href="#m_tu" transform="translate(1661.3 1435.2) scale(0.85)"/><use href="#m_tu" transform="translate(1658.6 1424.8) scale(0.85)"/><use href="#m_tu" transform="translate(1655.9 1422.3) scale(0.85)"/><use href="#m_tu" transform="translate(1653.2 1407.4) scale(0.85)"/><use href="#m_tu" transform="translate(1650.6 1408.5) scale(0.85)"/><use href="#m_tu" transform="translate(1647.9 1393.8) scale(0.85)"/><use href="#m_tu" transform="translate(1645.2 1389.4) scale(0.85)"/><use href="#m_tu" transform="translate(1642.5 1369.4) scale(0.85)"/><use href="#m_tu" transform="translate(1639.8 1365.5) scale(0.85)"/></g>
<polyline points="1819.3,1585.7 1808.0,1569.7 1797.5,1562.7 1788.1,1567.3 1780.8,1561.6 1773.4,1561.1 1766.5,1552.0 1759.9,1548.5 1753.4,1544.8 1747.3,1541.0 1742.0,1535.2 1736.9,1531.5 1731.5,1522.2 1726.4,1514.3 1722.3,1521.8 1718.1,1511.7 1712.8,1506.8 1706.7,1495.6 1700.6,1490.9 1695.3,1479.9 1691.0,1476.5 1687.0,1465.0 1683.4,1460.9 1679.9,1454.7 1676.3,1443.6 1672.5,1435.2 1668.3,1429.0 1663.8,1411.4 1659.6,1401.9 1656.3,1394.2 1653.7,1383.2 1651.6,1376.2 1649.6,1378.3 1647.8,1372.2 1646.0,1359.5 1644.1,1354.3 1642.1,1355.3 1640.0,1350.0 1637.9,1340.7 1635.9,1330.3 1634.0,1322.8 1632.1,1307.3 1630.2,1303.7 1628.4,1299.3 1626.6,1290.6 1624.8,1295.2" fill="none" stroke="#37ad6b" stroke-width="1.5" stroke-linejoin="round"/>
<g fill="#37ad6b"><use href="#m_td" transform="translate(1819.3 1585.7) scale(0.85)"/><use href="#m_td" transform="translate(1808.0 1569.7) scale(0.85)"/><use href="#m_td" transform="translate(1797.5 1562.7) scale(0.85)"/><use href="#m_td" transform="translate(1788.1 1567.3) scale(0.85)"/><use href="#m_td" transform="translate(1780.8 1561.6) scale(0.85)"/><use href="#m_td" transform="translate(1773.4 1561.1) scale(0.85)"/><use href="#m_td" transform="translate(1766.5 1552.0) scale(0.85)"/><use href="#m_td" transform="translate(1759.9 1548.5) scale(0.85)"/><use href="#m_td" transform="translate(1753.4 1544.8) scale(0.85)"/><use href="#m_td" transform="translate(1747.3 1541.0) scale(0.85)"/><use href="#m_td" transform="translate(1742.0 1535.2) scale(0.85)"/><use href="#m_td" transform="translate(1736.9 1531.5) scale(0.85)"/><use href="#m_td" transform="translate(1731.5 1522.2) scale(0.85)"/><use href="#m_td" transform="translate(1726.4 1514.3) scale(0.85)"/><use href="#m_td" transform="translate(1722.3 1521.8) scale(0.85)"/><use href="#m_td" transform="translate(1718.1 1511.7) scale(0.85)"/><use href="#m_td" transform="translate(1712.8 1506.8) scale(0.85)"/><use href="#m_td" transform="translate(1706.7 1495.6) scale(0.85)"/><use href="#m_td" transform="translate(1700.6 1490.9) scale(0.85)"/><use href="#m_td" transform="translate(1695.3 1479.9) scale(0.85)"/><use href="#m_td" transform="translate(1691.0 1476.5) scale(0.85)"/><use href="#m_td" transform="translate(1687.0 1465.0) scale(0.85)"/><use href="#m_td" transform="translate(1683.4 1460.9) scale(0.85)"/><use href="#m_td" transform="translate(1679.9 1454.7) scale(0.85)"/><use href="#m_td" transform="translate(1676.3 1443.6) scale(0.85)"/><use href="#m_td" transform="translate(1672.5 1435.2) scale(0.85)"/><use href="#m_td" transform="translate(1668.3 1429.0) scale(0.85)"/><use href="#m_td" transform="translate(1663.8 1411.4) scale(0.85)"/><use href="#m_td" transform="translate(1659.6 1401.9) scale(0.85)"/><use href="#m_td" transform="translate(1656.3 1394.2) scale(0.85)"/><use href="#m_td" transform="translate(1653.7 1383.2) scale(0.85)"/><use href="#m_td" transform="translate(1651.6 1376.2) scale(0.85)"/><use href="#m_td" transform="translate(1649.6 1378.3) scale(0.85)"/><use href="#m_td" transform="translate(1647.8 1372.2) scale(0.85)"/><use href="#m_td" transform="translate(1646.0 1359.5) scale(0.85)"/><use href="#m_td" transform="translate(1644.1 1354.3) scale(0.85)"/><use href="#m_td" transform="translate(1642.1 1355.3) scale(0.85)"/><use href="#m_td" transform="translate(1640.0 1350.0) scale(0.85)"/><use href="#m_td" transform="translate(1637.9 1340.7) scale(0.85)"/><use href="#m_td" transform="translate(1635.9 1330.3) scale(0.85)"/><use href="#m_td" transform="translate(1634.0 1322.8) scale(0.85)"/><use href="#m_td" transform="translate(1632.1 1307.3) scale(0.85)"/><use href="#m_td" transform="translate(1630.2 1303.7) scale(0.85)"/><use href="#m_td" transform="translate(1628.4 1299.3) scale(0.85)"/><use href="#m_td" transform="translate(1626.6 1290.6) scale(0.85)"/><use href="#m_td" transform="translate(1624.8 1295.2) scale(0.85)"/></g>
<line x1="1920" y1="1287.5" x2="1963" y2="1287.5" stroke="#515151" stroke-width="1.6"/>
<g fill="#515151"><use href="#m_sq" x="1941.5" y="1287.5"/></g>
<text x="1970.8" y="1299.9" font-size="36">273 K</text>
<line x1="1920" y1="1317.1" x2="1963" y2="1317.1" stroke="#f14040" stroke-width="1.6"/>
<g fill="#f14040"><use href="#m_ci" x="1941.5" y="1317.1"/></g>
<text x="1970.8" y="1329.5" font-size="36">293 K</text>
<line x1="1920" y1="1346.0" x2="1963" y2="1346.0" stroke="#1a6fdf" stroke-width="1.6"/>
<g fill="#1a6fdf"><use href="#m_tu" x="1941.5" y="1346.0"/></g>
<text x="1971.2" y="1358.4" font-size="36">313 K</text>
<line x1="1920" y1="1375.2" x2="1963" y2="1375.2" stroke="#37ad6b" stroke-width="1.6"/>
<g fill="#37ad6b"><use href="#m_td" x="1941.5" y="1375.2"/></g>
<text x="1971.2" y="1387.6" font-size="36">333 K</text>
<text x="1825" y="1757" font-size="36" text-anchor="middle"><tspan font-style="italic">E</tspan><tspan font-size="22" font-style="italic" dy="7">A</tspan><tspan dy="-7">/eV</tspan></text>
<text transform="translate(1411 1457) rotate(-90)" font-size="35.5" text-anchor="middle">Density of states/(eV<tspan font-size="21" dy="-12.5">−1</tspan><tspan dy="12.5">·cm</tspan><tspan font-size="21" dy="-12.5">−3</tspan><tspan dy="12.5">)</tspan></text>
<text x="-1" y="29.25" font-size="40">(a)</text>
<text x="707" y="29.25" font-size="40">(b)</text>
<text x="1437.2" y="29.25" font-size="40">(c)</text>
<text x="-1" y="621.5" font-size="40">(d)</text>
<text x="708.2" y="621.5" font-size="40">(e)</text>
<text x="1442" y="621.5" font-size="40">(f)</text>
<text x="-1" y="1211.5" font-size="40">(g)</text>
<text x="707" y="1211.5" font-size="40">(h)</text>
<text x="1443.1" y="1211.5" font-size="40">(i)</text>
</svg></body></html>
